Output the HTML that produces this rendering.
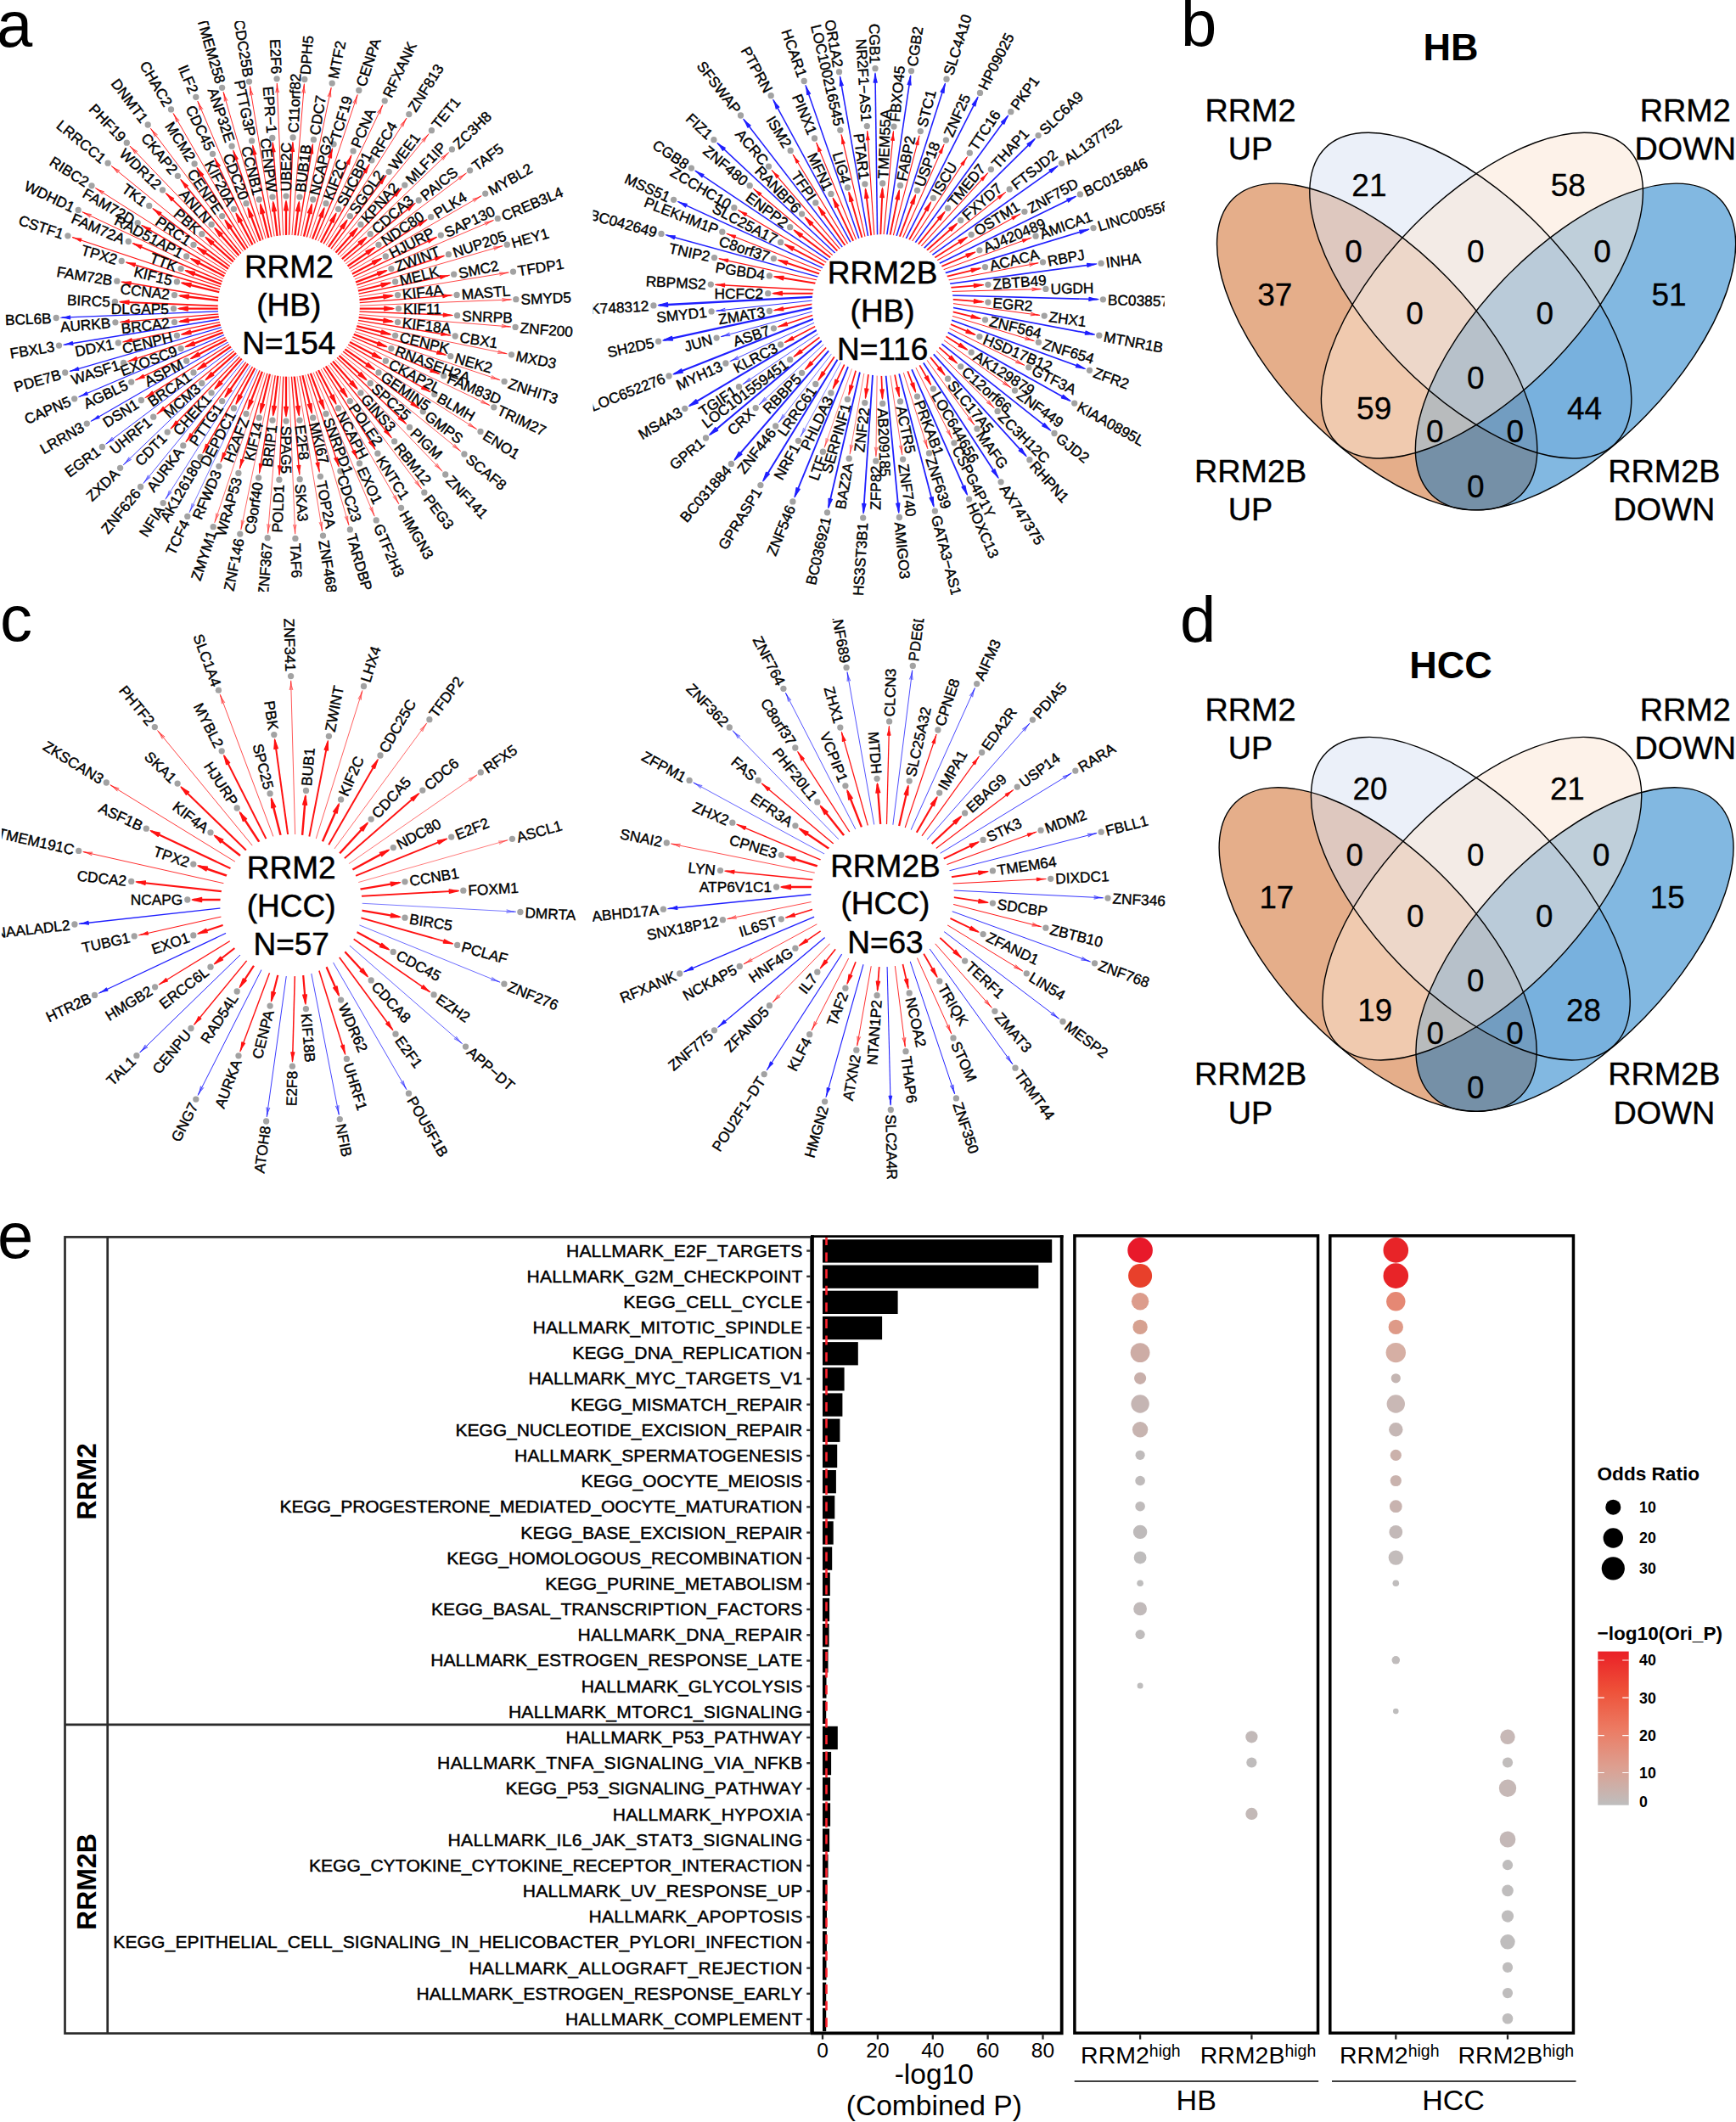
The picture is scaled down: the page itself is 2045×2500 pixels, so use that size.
<!DOCTYPE html>
<html><head><meta charset="utf-8"><title>Figure</title>
<style>html,body{margin:0;padding:0;background:#fff}svg{display:block}text{font-family:"Liberation Sans",Arial,Helvetica,sans-serif}</style></head>
<body><svg xmlns="http://www.w3.org/2000/svg" width="2045" height="2500" viewBox="0 0 2045 2500">
<rect width="2045" height="2500" fill="#fff"/>
<clipPath id="cl_p1"><rect x="0.5" y="25" width="680" height="672"/></clipPath>
<g clip-path="url(#cl_p1)">
<g><path d="M287.0 363.6L211.4 363.6" stroke="#ff1212" stroke-width="2.35" fill="none"/><path d="M210.0 363.6Q215.6 362.6 221.2 361.1L221.2 366.1Q215.6 364.6 210.0 363.6Z" fill="#ff1212" stroke="#ff1212" stroke-width="1.28" stroke-linejoin="round"/><path d="M287.4 357.6L212.3 348.5" stroke="#ff1212" stroke-width="2.35" fill="none"/><path d="M211.0 348.3Q216.6 348.0 222.4 347.2L221.8 352.1Q216.4 349.9 211.0 348.3Z" fill="#ff1212" stroke="#ff1212" stroke-width="1.28" stroke-linejoin="round"/><path d="M288.5 351.6L215.0 333.5" stroke="#ff1212" stroke-width="2.34" fill="none"/><path d="M213.7 333.2Q219.4 333.6 225.2 333.5L224.0 338.3Q218.9 335.5 213.7 333.2Z" fill="#ff1212" stroke="#ff1212" stroke-width="1.28" stroke-linejoin="round"/><path d="M290.2 345.9L219.6 319.1" stroke="#ff1212" stroke-width="2.34" fill="none"/><path d="M218.3 318.6Q223.9 319.6 229.6 320.3L227.9 324.8Q223.2 321.5 218.3 318.6Z" fill="#ff1212" stroke="#ff1212" stroke-width="1.28" stroke-linejoin="round"/><path d="M292.7 340.4L225.8 305.2" stroke="#ff1212" stroke-width="2.34" fill="none"/><path d="M224.6 304.6Q230.0 306.3 235.6 307.6L233.3 312.0Q229.1 308.1 224.6 304.6Z" fill="#ff1212" stroke="#ff1212" stroke-width="1.28" stroke-linejoin="round"/><path d="M295.9 335.2L233.6 292.3" stroke="#ff1212" stroke-width="2.34" fill="none"/><path d="M232.5 291.5Q237.7 293.8 243.1 295.8L240.3 299.8Q236.6 295.5 232.5 291.5Z" fill="#ff1212" stroke="#ff1212" stroke-width="1.28" stroke-linejoin="round"/><path d="M299.6 330.4L243.0 280.3" stroke="#ff1212" stroke-width="2.33" fill="none"/><path d="M242.0 279.4Q246.8 282.4 251.9 285.0L248.7 288.6Q245.5 283.8 242.0 279.4Z" fill="#ff1212" stroke="#ff1212" stroke-width="1.28" stroke-linejoin="round"/><path d="M303.8 326.2L253.7 269.6" stroke="#ff1212" stroke-width="2.33" fill="none"/><path d="M252.8 268.6Q257.2 272.1 262.0 275.3L258.4 278.5Q255.8 273.4 252.8 268.6Z" fill="#ff1212" stroke="#ff1212" stroke-width="1.28" stroke-linejoin="round"/><path d="M308.6 322.5L265.7 260.2" stroke="#ff1212" stroke-width="2.33" fill="none"/><path d="M264.9 259.1Q268.9 263.2 273.2 266.9L269.2 269.7Q267.2 264.3 264.9 259.1Z" fill="#ff1212" stroke="#ff1212" stroke-width="1.28" stroke-linejoin="round"/><path d="M313.8 319.3L278.6 252.4" stroke="#ff1212" stroke-width="2.32" fill="none"/><path d="M278.0 251.2Q281.5 255.7 285.3 259.9L281.0 262.2Q279.7 256.6 278.0 251.2Z" fill="#ff1212" stroke="#ff1212" stroke-width="1.28" stroke-linejoin="round"/><path d="M319.3 316.8L292.5 246.2" stroke="#ff1212" stroke-width="2.32" fill="none"/><path d="M292.0 244.9Q294.9 249.8 298.2 254.5L293.7 256.2Q293.0 250.5 292.0 244.9Z" fill="#ff1212" stroke="#ff1212" stroke-width="1.28" stroke-linejoin="round"/><path d="M325.0 315.1L306.9 241.6" stroke="#ff1212" stroke-width="2.32" fill="none"/><path d="M306.6 240.3Q308.9 245.5 311.7 250.6L306.9 251.8Q307.0 246.0 306.6 240.3Z" fill="#ff1212" stroke="#ff1212" stroke-width="1.28" stroke-linejoin="round"/><path d="M331.0 314.0L321.9 238.9" stroke="#ff1212" stroke-width="2.32" fill="none"/><path d="M321.7 237.6Q323.3 243.0 325.5 248.4L320.6 248.9Q321.4 243.2 321.7 237.6Z" fill="#ff1212" stroke="#ff1212" stroke-width="1.28" stroke-linejoin="round"/><path d="M337.0 313.6L337.0 238.0" stroke="#ff1212" stroke-width="2.31" fill="none"/><path d="M337.0 236.6Q338.0 242.2 339.4 247.8L334.6 247.8Q336.0 242.2 337.0 236.6Z" fill="#ff1212" stroke="#ff1212" stroke-width="1.28" stroke-linejoin="round"/><path d="M343.0 314.0L352.1 238.9" stroke="#ff1212" stroke-width="2.31" fill="none"/><path d="M352.3 237.6Q352.6 243.2 353.4 248.9L348.5 248.4Q350.7 243.0 352.3 237.6Z" fill="#ff1212" stroke="#ff1212" stroke-width="1.28" stroke-linejoin="round"/><path d="M349.0 315.1L367.1 241.6" stroke="#ff1212" stroke-width="2.31" fill="none"/><path d="M367.4 240.3Q367.0 246.0 367.1 251.7L362.4 250.6Q365.1 245.5 367.4 240.3Z" fill="#ff1212" stroke="#ff1212" stroke-width="1.28" stroke-linejoin="round"/><path d="M354.7 316.8L381.5 246.2" stroke="#ff1212" stroke-width="2.30" fill="none"/><path d="M382.0 244.9Q381.0 250.5 380.3 256.2L375.8 254.5Q379.1 249.8 382.0 244.9Z" fill="#ff1212" stroke="#ff1212" stroke-width="1.28" stroke-linejoin="round"/><path d="M360.2 319.3L395.4 252.4" stroke="#ff1212" stroke-width="2.30" fill="none"/><path d="M396.0 251.2Q394.3 256.6 393.0 262.2L388.7 259.9Q392.6 255.7 396.0 251.2Z" fill="#ff1212" stroke="#ff1212" stroke-width="1.28" stroke-linejoin="round"/><path d="M365.4 322.5L408.3 260.2" stroke="#ff1212" stroke-width="2.30" fill="none"/><path d="M409.1 259.1Q406.8 264.3 404.8 269.7L400.8 266.9Q405.2 263.2 409.1 259.1Z" fill="#ff1212" stroke="#ff1212" stroke-width="1.28" stroke-linejoin="round"/><path d="M370.2 326.2L420.3 269.6" stroke="#ff1212" stroke-width="2.29" fill="none"/><path d="M421.2 268.6Q418.2 273.4 415.6 278.5L412.0 275.3Q416.8 272.1 421.2 268.6Z" fill="#ff1212" stroke="#ff1212" stroke-width="1.28" stroke-linejoin="round"/><path d="M374.4 330.4L431.0 280.3" stroke="#ff1212" stroke-width="2.29" fill="none"/><path d="M432.0 279.4Q428.5 283.8 425.3 288.6L422.1 285.0Q427.2 282.4 432.0 279.4Z" fill="#ff1212" stroke="#ff1212" stroke-width="1.28" stroke-linejoin="round"/><path d="M378.1 335.2L440.4 292.3" stroke="#ff1212" stroke-width="2.29" fill="none"/><path d="M441.5 291.5Q437.4 295.4 433.7 299.8L430.9 295.8Q436.3 293.8 441.5 291.5Z" fill="#ff1212" stroke="#ff1212" stroke-width="1.28" stroke-linejoin="round"/><path d="M381.3 340.4L448.2 305.2" stroke="#ff1212" stroke-width="2.29" fill="none"/><path d="M449.4 304.6Q444.9 308.0 440.7 311.9L438.4 307.6Q444.0 306.3 449.4 304.6Z" fill="#ff1212" stroke="#ff1212" stroke-width="1.28" stroke-linejoin="round"/><path d="M383.8 345.9L454.4 319.1" stroke="#ff1212" stroke-width="2.28" fill="none"/><path d="M455.7 318.6Q450.8 321.5 446.1 324.8L444.4 320.3Q450.2 319.7 455.7 318.6Z" fill="#ff1212" stroke="#ff1212" stroke-width="1.28" stroke-linejoin="round"/><path d="M385.5 351.6L459.0 333.5" stroke="#ff1212" stroke-width="2.28" fill="none"/><path d="M460.3 333.2Q455.1 335.5 450.0 338.2L448.9 333.5Q454.6 333.6 460.3 333.2Z" fill="#ff1212" stroke="#ff1212" stroke-width="1.28" stroke-linejoin="round"/><path d="M386.6 357.6L461.7 348.5" stroke="#ff1212" stroke-width="2.28" fill="none"/><path d="M463.0 348.3Q457.6 349.9 452.3 352.0L451.7 347.2Q457.4 348.0 463.0 348.3Z" fill="#ff1212" stroke="#ff1212" stroke-width="1.28" stroke-linejoin="round"/><path d="M387.0 363.6L462.6 363.6" stroke="#ff1212" stroke-width="2.27" fill="none"/><path d="M464.0 363.6Q458.4 364.6 452.8 366.0L452.8 361.2Q458.4 362.6 464.0 363.6Z" fill="#ff1212" stroke="#ff1212" stroke-width="1.28" stroke-linejoin="round"/><path d="M386.6 369.6L461.7 378.7" stroke="#ff1212" stroke-width="2.27" fill="none"/><path d="M463.0 378.9Q457.4 379.2 451.7 380.0L452.3 375.2Q457.6 377.3 463.0 378.9Z" fill="#ff1212" stroke="#ff1212" stroke-width="1.28" stroke-linejoin="round"/><path d="M385.5 375.6L459.0 393.7" stroke="#ff1212" stroke-width="2.27" fill="none"/><path d="M460.3 394.0Q454.6 393.6 448.9 393.7L450.0 389.0Q455.1 391.7 460.3 394.0Z" fill="#ff1212" stroke="#ff1212" stroke-width="1.28" stroke-linejoin="round"/><path d="M383.8 381.3L454.4 408.1" stroke="#ff1212" stroke-width="2.27" fill="none"/><path d="M455.7 408.6Q450.2 407.5 444.4 406.9L446.1 402.4Q450.8 405.7 455.7 408.6Z" fill="#ff1212" stroke="#ff1212" stroke-width="1.28" stroke-linejoin="round"/><path d="M381.3 386.8L448.2 422.0" stroke="#ff1212" stroke-width="2.26" fill="none"/><path d="M449.4 422.6Q444.0 420.9 438.4 419.6L440.7 415.3Q444.9 419.2 449.4 422.6Z" fill="#ff1212" stroke="#ff1212" stroke-width="1.28" stroke-linejoin="round"/><path d="M378.1 392.0L440.4 434.9" stroke="#ff1212" stroke-width="2.26" fill="none"/><path d="M441.5 435.7Q436.4 433.3 431.0 431.4L433.7 427.4Q437.4 431.8 441.5 435.7Z" fill="#ff1212" stroke="#ff1212" stroke-width="1.28" stroke-linejoin="round"/><path d="M374.4 396.8L431.0 446.9" stroke="#ff1212" stroke-width="2.26" fill="none"/><path d="M432.0 447.8Q427.2 444.8 422.1 442.2L425.3 438.6Q428.5 443.4 432.0 447.8Z" fill="#ff1212" stroke="#ff1212" stroke-width="1.28" stroke-linejoin="round"/><path d="M370.2 401.0L420.3 457.6" stroke="#ff1212" stroke-width="2.25" fill="none"/><path d="M421.2 458.6Q416.8 455.1 412.0 451.9L415.6 448.7Q418.2 453.8 421.2 458.6Z" fill="#ff1212" stroke="#ff1212" stroke-width="1.28" stroke-linejoin="round"/><path d="M365.4 404.7L408.3 467.0" stroke="#ff1212" stroke-width="2.25" fill="none"/><path d="M409.1 468.1Q405.2 464.0 400.8 460.3L404.8 457.6Q406.7 463.0 409.1 468.1Z" fill="#ff1212" stroke="#ff1212" stroke-width="1.28" stroke-linejoin="round"/><path d="M360.2 407.9L395.4 474.8" stroke="#ff1212" stroke-width="2.25" fill="none"/><path d="M396.0 476.0Q392.6 471.5 388.7 467.3L393.0 465.0Q394.3 470.6 396.0 476.0Z" fill="#ff1212" stroke="#ff1212" stroke-width="1.28" stroke-linejoin="round"/><path d="M354.7 410.4L381.5 481.0" stroke="#ff1212" stroke-width="2.25" fill="none"/><path d="M382.0 482.3Q379.2 477.4 375.8 472.8L380.3 471.1Q380.9 476.8 382.0 482.3Z" fill="#ff1212" stroke="#ff1212" stroke-width="1.28" stroke-linejoin="round"/><path d="M349.0 412.1L367.1 485.6" stroke="#ff1212" stroke-width="2.24" fill="none"/><path d="M367.4 486.9Q365.1 481.7 362.4 476.6L367.0 475.5Q367.0 481.2 367.4 486.9Z" fill="#ff1212" stroke="#ff1212" stroke-width="1.28" stroke-linejoin="round"/><path d="M343.0 413.2L352.1 488.3" stroke="#ff1212" stroke-width="2.24" fill="none"/><path d="M352.3 489.6Q350.7 484.2 348.6 478.9L353.3 478.3Q352.6 484.0 352.3 489.6Z" fill="#ff1212" stroke="#ff1212" stroke-width="1.28" stroke-linejoin="round"/><path d="M337.0 413.6L337.0 489.2" stroke="#ff1212" stroke-width="2.24" fill="none"/><path d="M337.0 490.6Q336.0 485.0 334.6 479.4L339.4 479.4Q338.0 485.0 337.0 490.6Z" fill="#ff1212" stroke="#ff1212" stroke-width="1.28" stroke-linejoin="round"/><path d="M331.0 413.2L321.9 488.3" stroke="#ff1212" stroke-width="2.23" fill="none"/><path d="M321.7 489.6Q321.4 484.0 320.7 478.3L325.4 478.9Q323.3 484.2 321.7 489.6Z" fill="#ff1212" stroke="#ff1212" stroke-width="1.28" stroke-linejoin="round"/><path d="M325.0 412.1L306.9 485.6" stroke="#ff1212" stroke-width="2.23" fill="none"/><path d="M306.6 486.9Q307.0 481.2 307.0 475.5L311.6 476.6Q308.9 481.7 306.6 486.9Z" fill="#ff1212" stroke="#ff1212" stroke-width="1.28" stroke-linejoin="round"/><path d="M319.3 410.4L292.5 481.0" stroke="#ff1212" stroke-width="2.23" fill="none"/><path d="M292.0 482.3Q293.1 476.8 293.7 471.1L298.2 472.8Q294.8 477.4 292.0 482.3Z" fill="#ff1212" stroke="#ff1212" stroke-width="1.28" stroke-linejoin="round"/><path d="M313.8 407.9L278.6 474.8" stroke="#ff1212" stroke-width="2.22" fill="none"/><path d="M278.0 476.0Q279.7 470.7 281.1 465.1L285.3 467.3Q281.4 471.5 278.0 476.0Z" fill="#ff1212" stroke="#ff1212" stroke-width="1.28" stroke-linejoin="round"/><path d="M308.6 404.7L265.7 467.0" stroke="#ff1212" stroke-width="2.22" fill="none"/><path d="M264.9 468.1Q267.3 463.0 269.2 457.6L273.2 460.3Q268.8 464.1 264.9 468.1Z" fill="#ff1212" stroke="#ff1212" stroke-width="1.28" stroke-linejoin="round"/><path d="M303.8 401.0L253.7 457.6" stroke="#ff1212" stroke-width="2.22" fill="none"/><path d="M252.8 458.6Q255.8 453.8 258.4 448.7L262.0 451.9Q257.2 455.1 252.8 458.6Z" fill="#ff1212" stroke="#ff1212" stroke-width="1.28" stroke-linejoin="round"/><path d="M299.6 396.8L243.0 446.9" stroke="#ff1212" stroke-width="2.22" fill="none"/><path d="M242.0 447.8Q245.5 443.4 248.7 438.6L251.9 442.2Q246.8 444.8 242.0 447.8Z" fill="#ff1212" stroke="#ff1212" stroke-width="1.28" stroke-linejoin="round"/><path d="M295.9 392.0L233.6 434.9" stroke="#ff1212" stroke-width="2.21" fill="none"/><path d="M232.5 435.7Q236.5 431.8 240.3 427.5L243.0 431.4Q237.6 433.3 232.5 435.7Z" fill="#ff1212" stroke="#ff1212" stroke-width="1.28" stroke-linejoin="round"/><path d="M292.7 386.8L225.8 422.0" stroke="#ff1212" stroke-width="2.21" fill="none"/><path d="M224.6 422.6Q229.1 419.2 233.3 415.3L235.5 419.5Q229.9 420.9 224.6 422.6Z" fill="#ff1212" stroke="#ff1212" stroke-width="1.28" stroke-linejoin="round"/><path d="M290.2 381.3L219.6 408.1" stroke="#ff1212" stroke-width="2.21" fill="none"/><path d="M218.3 408.6Q223.1 405.8 227.8 402.5L229.5 406.9Q223.8 407.5 218.3 408.6Z" fill="#ff1212" stroke="#ff1212" stroke-width="1.28" stroke-linejoin="round"/><path d="M288.5 375.6L215.0 393.7" stroke="#ff1212" stroke-width="2.20" fill="none"/><path d="M213.7 394.0Q218.9 391.7 224.0 389.0L225.1 393.6Q219.4 393.6 213.7 394.0Z" fill="#ff1212" stroke="#ff1212" stroke-width="1.28" stroke-linejoin="round"/><path d="M287.4 369.6L212.3 378.7" stroke="#ff1212" stroke-width="2.20" fill="none"/><path d="M211.0 378.9Q216.4 377.3 221.7 375.2L222.3 379.9Q216.6 379.2 211.0 378.9Z" fill="#ff1212" stroke="#ff1212" stroke-width="1.28" stroke-linejoin="round"/><path d="M287.0 361.6L142.3 355.8" stroke="#ff1212" stroke-width="1.96" fill="none"/><path d="M140.9 355.7Q146.4 355.1 152.0 353.9L151.8 358.4Q146.4 356.8 140.9 355.7Z" fill="#ff1212" stroke="#ff1212" stroke-width="1.28" stroke-linejoin="round"/><path d="M287.6 355.6L144.6 332.3" stroke="#ff1212" stroke-width="1.55" fill="none"/><path d="M143.3 332.1Q148.7 332.6 154.3 331.9L153.7 335.9Q148.6 333.3 143.3 332.1Z" fill="#ff1212" stroke="#ff1212" stroke-width="1.24" stroke-linejoin="round"/><path d="M289.0 349.7L149.8 309.4" stroke="#ff1212" stroke-width="1.54" fill="none"/><path d="M148.5 309.0Q153.8 310.2 159.5 310.1L158.3 314.0Q153.6 310.8 148.5 309.0Z" fill="#ff1212" stroke="#ff1212" stroke-width="1.24" stroke-linejoin="round"/><path d="M291.0 344.0L157.7 287.2" stroke="#ff1212" stroke-width="1.54" fill="none"/><path d="M156.4 286.7Q161.6 288.5 167.2 289.1L165.6 292.8Q161.3 289.1 156.4 286.7Z" fill="#ff1212" stroke="#ff1212" stroke-width="1.23" stroke-linejoin="round"/><path d="M293.7 338.6L168.2 266.1" stroke="#ff1212" stroke-width="1.53" fill="none"/><path d="M167.0 265.5Q171.9 267.9 177.4 269.1L175.4 272.6Q171.5 268.5 167.0 265.5Z" fill="#ff1212" stroke="#ff1212" stroke-width="1.23" stroke-linejoin="round"/><path d="M297.0 333.6L181.2 246.5" stroke="#ff1212" stroke-width="1.53" fill="none"/><path d="M180.1 245.7Q184.6 248.7 190.0 250.6L187.5 253.8Q184.2 249.2 180.1 245.7Z" fill="#ff1212" stroke="#ff1212" stroke-width="1.22" stroke-linejoin="round"/><path d="M300.9 329.0L196.4 228.6" stroke="#ff1212" stroke-width="1.52" fill="none"/><path d="M195.4 227.6Q199.6 231.2 204.7 233.7L201.9 236.6Q199.1 231.6 195.4 227.6Z" fill="#ff1212" stroke="#ff1212" stroke-width="1.22" stroke-linejoin="round"/><path d="M305.4 324.9L213.7 212.6" stroke="#ff1212" stroke-width="1.52" fill="none"/><path d="M212.9 211.6Q216.5 215.6 221.3 218.7L218.2 221.3Q216.0 216.0 212.9 211.6Z" fill="#ff1212" stroke="#ff1212" stroke-width="1.22" stroke-linejoin="round"/><path d="M310.3 321.3L232.8 198.9" stroke="#ff1212" stroke-width="1.51" fill="none"/><path d="M232.1 197.7Q235.3 202.1 239.6 205.8L236.2 208.0Q234.7 202.5 232.1 197.7Z" fill="#ff1212" stroke="#ff1212" stroke-width="1.21" stroke-linejoin="round"/><path d="M315.6 318.4L253.4 187.5" stroke="#ff1212" stroke-width="1.51" fill="none"/><path d="M252.8 186.3Q255.5 191.0 259.3 195.2L255.7 196.9Q254.9 191.3 252.8 186.3Z" fill="#ff1212" stroke="#ff1212" stroke-width="1.21" stroke-linejoin="round"/><path d="M321.2 316.2L275.3 178.7" stroke="#ff1212" stroke-width="1.50" fill="none"/><path d="M274.8 177.4Q276.9 182.5 280.2 187.1L276.4 188.4Q276.3 182.7 274.8 177.4Z" fill="#ff1212" stroke="#ff1212" stroke-width="1.20" stroke-linejoin="round"/><path d="M327.0 314.6L298.0 172.6" stroke="#ff1212" stroke-width="1.50" fill="none"/><path d="M297.7 171.3Q299.1 176.5 301.9 181.5L297.9 182.3Q298.5 176.7 297.7 171.3Z" fill="#ff1212" stroke="#ff1212" stroke-width="1.20" stroke-linejoin="round"/><path d="M333.0 313.8L321.3 169.3" stroke="#ff1212" stroke-width="1.49" fill="none"/><path d="M321.2 167.9Q321.9 173.3 324.1 178.6L320.1 178.9Q321.3 173.4 321.2 167.9Z" fill="#ff1212" stroke="#ff1212" stroke-width="1.20" stroke-linejoin="round"/><path d="M339.0 313.6L344.8 168.9" stroke="#ff1212" stroke-width="1.49" fill="none"/><path d="M344.9 167.5Q345.0 172.9 346.5 178.4L342.4 178.2Q344.4 172.9 344.9 167.5Z" fill="#ff1212" stroke="#ff1212" stroke-width="1.19" stroke-linejoin="round"/><path d="M345.0 314.2L368.3 171.2" stroke="#ff1212" stroke-width="1.48" fill="none"/><path d="M368.5 169.8Q367.9 175.3 368.7 180.9L364.7 180.3Q367.3 175.2 368.5 169.8Z" fill="#ff1212" stroke="#ff1212" stroke-width="1.19" stroke-linejoin="round"/><path d="M350.9 315.6L391.2 176.4" stroke="#ff1212" stroke-width="1.48" fill="none"/><path d="M391.6 175.0Q390.4 180.3 390.5 186.1L386.6 184.9Q389.8 180.2 391.6 175.0Z" fill="#ff1212" stroke="#ff1212" stroke-width="1.18" stroke-linejoin="round"/><path d="M356.6 317.6L413.4 184.3" stroke="#ff1212" stroke-width="1.47" fill="none"/><path d="M413.9 183.0Q412.1 188.1 411.5 193.8L407.8 192.2Q411.6 187.9 413.9 183.0Z" fill="#ff1212" stroke="#ff1212" stroke-width="1.18" stroke-linejoin="round"/><path d="M362.0 320.3L434.4 194.8" stroke="#ff1212" stroke-width="1.47" fill="none"/><path d="M435.2 193.6Q432.7 198.4 431.5 204.0L428.0 202.0Q432.2 198.2 435.2 193.6Z" fill="#ff1212" stroke="#ff1212" stroke-width="1.18" stroke-linejoin="round"/><path d="M367.0 323.6L454.1 207.8" stroke="#ff1212" stroke-width="1.46" fill="none"/><path d="M454.9 206.7Q451.9 211.2 450.0 216.6L446.8 214.1Q451.5 210.8 454.9 206.7Z" fill="#ff1212" stroke="#ff1212" stroke-width="1.17" stroke-linejoin="round"/><path d="M371.6 327.5L472.0 223.0" stroke="#ff1212" stroke-width="1.46" fill="none"/><path d="M473.0 222.0Q469.4 226.1 466.9 231.3L464.0 228.5Q469.0 225.8 473.0 222.0Z" fill="#ff1212" stroke="#ff1212" stroke-width="1.17" stroke-linejoin="round"/><path d="M375.7 332.0L488.0 240.3" stroke="#ff1212" stroke-width="1.45" fill="none"/><path d="M489.1 239.4Q485.0 243.1 481.9 247.9L479.4 244.8Q484.7 242.7 489.1 239.4Z" fill="#ff1212" stroke="#ff1212" stroke-width="1.16" stroke-linejoin="round"/><path d="M379.3 336.9L501.7 259.4" stroke="#ff1212" stroke-width="1.45" fill="none"/><path d="M502.9 258.7Q498.5 261.8 494.8 266.2L492.6 262.8Q498.2 261.4 502.9 258.7Z" fill="#ff1212" stroke="#ff1212" stroke-width="1.16" stroke-linejoin="round"/><path d="M382.2 342.2L513.1 280.0" stroke="#ff1212" stroke-width="1.44" fill="none"/><path d="M514.4 279.4Q509.6 282.0 505.4 285.9L503.7 282.3Q509.3 281.6 514.4 279.4Z" fill="#ff1212" stroke="#ff1212" stroke-width="1.16" stroke-linejoin="round"/><path d="M384.4 347.8L521.9 301.9" stroke="#ff1212" stroke-width="1.44" fill="none"/><path d="M523.2 301.4Q518.1 303.4 513.5 306.8L512.2 303.0Q518.0 302.9 523.2 301.4Z" fill="#ff1212" stroke="#ff1212" stroke-width="1.15" stroke-linejoin="round"/><path d="M386.0 353.6L528.0 324.6" stroke="#ff1212" stroke-width="1.43" fill="none"/><path d="M529.4 324.3Q524.1 325.7 519.1 328.5L518.3 324.5Q524.0 325.2 529.4 324.3Z" fill="#ff1212" stroke="#ff1212" stroke-width="1.15" stroke-linejoin="round"/><path d="M386.8 359.6L531.3 347.9" stroke="#ff1212" stroke-width="1.43" fill="none"/><path d="M532.7 347.8Q527.3 348.5 522.0 350.7L521.7 346.7Q527.2 348.0 532.7 347.8Z" fill="#ff1212" stroke="#ff1212" stroke-width="1.14" stroke-linejoin="round"/><path d="M387.0 365.6L531.7 371.4" stroke="#ff1212" stroke-width="1.42" fill="none"/><path d="M533.2 371.5Q527.7 371.5 522.2 373.1L522.4 369.1Q527.7 371.1 533.2 371.5Z" fill="#ff1212" stroke="#ff1212" stroke-width="1.14" stroke-linejoin="round"/><path d="M386.4 371.6L529.4 394.9" stroke="#ff1212" stroke-width="1.42" fill="none"/><path d="M530.8 395.1Q525.4 394.4 519.7 395.3L520.4 391.4Q525.4 394.0 530.8 395.1Z" fill="#ff1212" stroke="#ff1212" stroke-width="1.14" stroke-linejoin="round"/><path d="M385.0 377.5L524.2 417.8" stroke="#ff1212" stroke-width="1.41" fill="none"/><path d="M525.6 418.2Q520.3 416.9 514.5 417.1L515.7 413.3Q520.4 416.5 525.6 418.2Z" fill="#ff1212" stroke="#ff1212" stroke-width="1.13" stroke-linejoin="round"/><path d="M383.0 383.2L516.3 440.0" stroke="#ff1212" stroke-width="1.41" fill="none"/><path d="M517.6 440.6Q512.5 438.6 506.8 438.1L508.4 434.4Q512.7 438.2 517.6 440.6Z" fill="#ff1212" stroke="#ff1212" stroke-width="1.13" stroke-linejoin="round"/><path d="M380.3 388.6L505.8 461.1" stroke="#ff1212" stroke-width="1.40" fill="none"/><path d="M507.0 461.8Q502.2 459.2 496.6 458.1L498.6 454.6Q502.4 458.9 507.0 461.8Z" fill="#ff1212" stroke="#ff1212" stroke-width="1.12" stroke-linejoin="round"/><path d="M377.0 393.6L492.8 480.7" stroke="#ff1212" stroke-width="1.40" fill="none"/><path d="M494.0 481.5Q489.5 478.4 484.0 476.6L486.4 473.4Q489.7 478.1 494.0 481.5Z" fill="#ff1212" stroke="#ff1212" stroke-width="1.12" stroke-linejoin="round"/><path d="M373.1 398.2L477.6 498.6" stroke="#ff1212" stroke-width="1.39" fill="none"/><path d="M478.6 499.6Q474.5 496.0 469.3 493.5L472.1 490.6Q474.8 495.7 478.6 499.6Z" fill="#ff1212" stroke="#ff1212" stroke-width="1.12" stroke-linejoin="round"/><path d="M368.6 402.3L460.3 514.6" stroke="#ff1212" stroke-width="1.39" fill="none"/><path d="M461.2 515.7Q457.6 511.6 452.7 508.5L455.8 506.0Q457.9 511.3 461.2 515.7Z" fill="#ff1212" stroke="#ff1212" stroke-width="1.11" stroke-linejoin="round"/><path d="M363.7 405.9L441.2 528.3" stroke="#ff1212" stroke-width="1.38" fill="none"/><path d="M441.9 529.5Q438.9 525.0 434.4 521.4L437.8 519.3Q439.2 524.8 441.9 529.5Z" fill="#ff1212" stroke="#ff1212" stroke-width="1.11" stroke-linejoin="round"/><path d="M358.4 408.8L420.6 539.7" stroke="#ff1212" stroke-width="1.38" fill="none"/><path d="M421.2 541.0Q418.7 536.1 414.7 532.0L418.3 530.3Q419.0 536.0 421.2 541.0Z" fill="#ff1212" stroke="#ff1212" stroke-width="1.10" stroke-linejoin="round"/><path d="M352.8 411.0L398.7 548.5" stroke="#ff1212" stroke-width="1.37" fill="none"/><path d="M399.2 549.8Q397.3 544.7 393.8 540.1L397.6 538.9Q397.6 544.6 399.2 549.8Z" fill="#ff1212" stroke="#ff1212" stroke-width="1.10" stroke-linejoin="round"/><path d="M347.0 412.6L376.0 554.6" stroke="#ff1212" stroke-width="1.37" fill="none"/><path d="M376.3 556.0Q375.0 550.7 372.1 545.7L376.1 544.9Q375.4 550.6 376.3 556.0Z" fill="#ff1212" stroke="#ff1212" stroke-width="1.10" stroke-linejoin="round"/><path d="M341.0 413.4L352.7 557.9" stroke="#ff1212" stroke-width="1.36" fill="none"/><path d="M352.8 559.3Q352.2 553.9 349.9 548.6L353.9 548.3Q352.5 553.9 352.8 559.3Z" fill="#ff1212" stroke="#ff1212" stroke-width="1.09" stroke-linejoin="round"/><path d="M335.0 413.6L329.2 558.3" stroke="#ff1212" stroke-width="1.36" fill="none"/><path d="M329.1 559.8Q329.2 554.3 327.5 548.8L331.5 549.0Q329.5 554.3 329.1 559.8Z" fill="#ff1212" stroke="#ff1212" stroke-width="1.09" stroke-linejoin="round"/><path d="M329.0 413.0L305.7 556.0" stroke="#ff1212" stroke-width="1.35" fill="none"/><path d="M305.5 557.4Q306.2 552.0 305.3 546.3L309.2 547.0Q306.5 552.0 305.5 557.4Z" fill="#ff1212" stroke="#ff1212" stroke-width="1.08" stroke-linejoin="round"/><path d="M323.1 411.6L282.8 550.8" stroke="#ff1212" stroke-width="1.35" fill="none"/><path d="M282.4 552.2Q283.7 546.9 283.5 541.2L287.3 542.3Q284.0 547.0 282.4 552.2Z" fill="#ff1212" stroke="#ff1212" stroke-width="1.08" stroke-linejoin="round"/><path d="M317.4 409.6L260.6 542.9" stroke="#ff1212" stroke-width="1.34" fill="none"/><path d="M260.0 544.2Q262.0 539.2 262.5 533.4L266.2 535.0Q262.3 539.3 260.0 544.2Z" fill="#ff1212" stroke="#ff1212" stroke-width="1.08" stroke-linejoin="round"/><path d="M312.0 406.9L239.5 532.4" stroke="#ff1212" stroke-width="1.34" fill="none"/><path d="M238.8 533.7Q241.4 528.9 242.6 523.2L246.0 525.2Q241.7 529.0 238.8 533.7Z" fill="#ff1212" stroke="#ff1212" stroke-width="1.07" stroke-linejoin="round"/><path d="M307.0 403.6L219.9 519.4" stroke="#ff1212" stroke-width="1.33" fill="none"/><path d="M219.0 520.6Q222.2 516.1 224.0 510.6L227.2 513.0Q222.4 516.3 219.0 520.6Z" fill="#ff1212" stroke="#ff1212" stroke-width="1.07" stroke-linejoin="round"/><path d="M302.4 399.7L202.0 504.2" stroke="#ff1212" stroke-width="1.33" fill="none"/><path d="M201.0 505.2Q204.7 501.2 207.1 496.0L210.0 498.7Q204.9 501.4 201.0 505.2Z" fill="#ff1212" stroke="#ff1212" stroke-width="1.06" stroke-linejoin="round"/><path d="M298.3 395.2L186.0 486.9" stroke="#ff1212" stroke-width="1.32" fill="none"/><path d="M184.9 487.8Q189.0 484.2 192.1 479.3L194.6 482.4Q189.2 484.4 184.9 487.8Z" fill="#ff1212" stroke="#ff1212" stroke-width="1.06" stroke-linejoin="round"/><path d="M294.7 390.3L172.3 467.8" stroke="#ff1212" stroke-width="1.32" fill="none"/><path d="M171.0 468.6Q175.6 465.5 179.2 461.0L181.3 464.4Q175.7 465.7 171.0 468.6Z" fill="#ff1212" stroke="#ff1212" stroke-width="1.06" stroke-linejoin="round"/><path d="M291.8 385.0L160.9 447.2" stroke="#ff1212" stroke-width="1.31" fill="none"/><path d="M159.6 447.8Q164.5 445.3 168.6 441.3L170.3 444.9Q164.6 445.5 159.6 447.8Z" fill="#ff1212" stroke="#ff1212" stroke-width="1.05" stroke-linejoin="round"/><path d="M289.6 379.4L152.1 425.3" stroke="#ff1212" stroke-width="1.31" fill="none"/><path d="M150.7 425.8Q155.9 423.9 160.5 420.4L161.7 424.2Q156.0 424.2 150.7 425.8Z" fill="#ff1212" stroke="#ff1212" stroke-width="1.05" stroke-linejoin="round"/><path d="M288.0 373.6L146.0 402.6" stroke="#ff1212" stroke-width="1.30" fill="none"/><path d="M144.6 402.9Q149.9 401.7 154.9 398.7L155.7 402.6Q150.0 401.9 144.6 402.9Z" fill="#ff1212" stroke="#ff1212" stroke-width="1.04" stroke-linejoin="round"/><path d="M287.2 367.6L142.7 379.3" stroke="#ff1212" stroke-width="1.29" fill="none"/><path d="M141.3 379.4Q146.7 378.9 152.0 376.5L152.3 380.5Q146.7 379.1 141.3 379.4Z" fill="#ff1212" stroke="#ff1212" stroke-width="1.03" stroke-linejoin="round"/><path d="M289.6 347.8L86.5 280.0" stroke="#ff1212" stroke-width="1.05" fill="none"/><path d="M85.0 279.5Q90.2 281.2 96.1 281.1L94.8 284.8Q90.2 281.2 85.0 279.5Z" fill="#ff1212" stroke="#ff1212" stroke-width="0.84" stroke-linejoin="round"/><path d="M291.8 342.2L98.4 250.4" stroke="#ff1212" stroke-width="0.94" fill="none"/><path d="M107.8 252.7Q101.9 252.1 96.9 249.7Q101.9 252.1 106.1 256.2" fill="#ff1212" fill-opacity="0.25" stroke="#ff1212" stroke-width="0.80" stroke-linejoin="miter"/><path d="M294.7 336.9L113.8 222.4" stroke="#ff1212" stroke-width="0.94" fill="none"/><path d="M122.8 225.9Q117.1 224.5 112.4 221.6Q117.1 224.5 120.7 229.1" fill="#ff1212" fill-opacity="0.25" stroke="#ff1212" stroke-width="0.80" stroke-linejoin="miter"/><path d="M298.3 332.0L132.4 196.6" stroke="#ff1212" stroke-width="0.93" fill="none"/><path d="M141.0 201.0Q135.5 199.0 131.2 195.5Q135.5 199.0 138.5 204.0" fill="#ff1212" fill-opacity="0.25" stroke="#ff1212" stroke-width="0.79" stroke-linejoin="miter"/><path d="M302.4 327.5L154.1 173.1" stroke="#ff1212" stroke-width="0.92" fill="none"/><path d="M162.0 178.6Q156.8 175.9 152.9 172.0Q156.8 175.9 159.2 181.3" fill="#ff1212" fill-opacity="0.25" stroke="#ff1212" stroke-width="0.78" stroke-linejoin="miter"/><path d="M307.0 323.6L178.3 152.5" stroke="#ff1212" stroke-width="0.91" fill="none"/><path d="M185.6 158.9Q180.7 155.6 177.4 151.2Q180.7 155.6 182.5 161.2" fill="#ff1212" fill-opacity="0.25" stroke="#ff1212" stroke-width="0.77" stroke-linejoin="miter"/><path d="M312.0 320.3L204.9 134.9" stroke="#ff1212" stroke-width="0.90" fill="none"/><path d="M211.3 142.1Q206.9 138.3 204.1 133.5Q206.9 138.3 208.0 144.0" fill="#ff1212" fill-opacity="0.25" stroke="#ff1212" stroke-width="0.77" stroke-linejoin="miter"/><path d="M317.4 317.6L233.5 120.6" stroke="#ff1212" stroke-width="0.89" fill="none"/><path d="M239.0 128.6Q235.0 124.2 232.8 119.1Q235.0 124.2 235.4 130.1" fill="#ff1212" fill-opacity="0.25" stroke="#ff1212" stroke-width="0.76" stroke-linejoin="miter"/><path d="M323.1 315.6L263.5 109.9" stroke="#ff1212" stroke-width="0.88" fill="none"/><path d="M268.0 118.5Q264.6 113.7 263.1 108.3Q264.6 113.7 264.3 119.5" fill="#ff1212" fill-opacity="0.25" stroke="#ff1212" stroke-width="0.75" stroke-linejoin="miter"/><path d="M329.0 314.2L294.6 102.9" stroke="#ff1212" stroke-width="0.88" fill="none"/><path d="M298.1 111.9Q295.3 106.8 294.4 101.3Q295.3 106.8 294.2 112.6" fill="#ff1212" fill-opacity="0.25" stroke="#ff1212" stroke-width="0.74" stroke-linejoin="miter"/><path d="M335.0 313.6L326.4 99.7" stroke="#ff1212" stroke-width="0.87" fill="none"/><path d="M328.7 109.1Q326.5 103.6 326.3 98.1Q326.5 103.6 324.8 109.2" fill="#ff1212" fill-opacity="0.25" stroke="#ff1212" stroke-width="0.74" stroke-linejoin="miter"/><path d="M341.0 313.8L358.3 100.4" stroke="#ff1212" stroke-width="0.86" fill="none"/><path d="M359.4 109.9Q357.9 104.2 358.4 98.7Q357.9 104.2 355.6 109.6" fill="#ff1212" fill-opacity="0.25" stroke="#ff1212" stroke-width="0.73" stroke-linejoin="miter"/><path d="M347.0 314.6L389.8 104.8" stroke="#ff1212" stroke-width="0.85" fill="none"/><path d="M389.8 114.5Q389.0 108.7 390.2 103.2Q389.0 108.7 386.0 113.7" fill="#ff1212" fill-opacity="0.25" stroke="#ff1212" stroke-width="0.72" stroke-linejoin="miter"/><path d="M352.8 316.2L420.6 113.1" stroke="#ff1212" stroke-width="0.84" fill="none"/><path d="M419.5 122.7Q419.4 116.8 421.2 111.5Q419.4 116.8 415.8 121.4" fill="#ff1212" fill-opacity="0.25" stroke="#ff1212" stroke-width="0.72" stroke-linejoin="miter"/><path d="M358.4 318.4L450.2 125.0" stroke="#ff1212" stroke-width="0.83" fill="none"/><path d="M447.9 134.4Q448.6 128.5 450.9 123.5Q448.6 128.5 444.4 132.7" fill="#ff1212" fill-opacity="0.25" stroke="#ff1212" stroke-width="0.71" stroke-linejoin="miter"/><path d="M363.7 321.3L478.2 140.4" stroke="#ff1212" stroke-width="0.83" fill="none"/><path d="M474.7 149.4Q476.1 143.7 479.0 139.0Q476.1 143.7 471.5 147.3" fill="#ff1212" fill-opacity="0.25" stroke="#ff1212" stroke-width="0.70" stroke-linejoin="miter"/><path d="M368.6 324.9L504.0 159.0" stroke="#ff1212" stroke-width="0.82" fill="none"/><path d="M499.5 167.6Q501.6 162.0 505.1 157.7Q501.6 162.0 496.6 165.1" fill="#ff1212" fill-opacity="0.25" stroke="#ff1212" stroke-width="0.69" stroke-linejoin="miter"/><path d="M373.1 329.0L527.5 180.7" stroke="#ff1212" stroke-width="0.81" fill="none"/><path d="M522.0 188.6Q524.7 183.3 528.7 179.5Q524.7 183.3 519.3 185.8" fill="#ff1212" fill-opacity="0.25" stroke="#ff1212" stroke-width="0.69" stroke-linejoin="miter"/><path d="M377.0 333.6L548.1 204.9" stroke="#ff1212" stroke-width="0.80" fill="none"/><path d="M541.7 212.1Q545.0 207.3 549.5 203.9Q545.0 207.3 539.4 209.1" fill="#ff1212" fill-opacity="0.25" stroke="#ff1212" stroke-width="0.68" stroke-linejoin="miter"/><path d="M380.3 338.6L565.7 231.5" stroke="#ff1212" stroke-width="0.79" fill="none"/><path d="M558.5 237.9Q562.4 233.5 567.2 230.7Q562.4 233.5 556.6 234.6" fill="#ff1212" fill-opacity="0.25" stroke="#ff1212" stroke-width="0.67" stroke-linejoin="miter"/><path d="M383.0 344.0L580.0 260.1" stroke="#ff1212" stroke-width="0.78" fill="none"/><path d="M572.0 265.5Q576.4 261.6 581.5 259.4Q576.4 261.6 570.5 262.0" fill="#ff1212" fill-opacity="0.25" stroke="#ff1212" stroke-width="0.67" stroke-linejoin="miter"/><path d="M385.0 349.7L590.7 290.1" stroke="#ff1212" stroke-width="0.77" fill="none"/><path d="M582.1 294.6Q587.0 291.2 592.3 289.7Q587.0 291.2 581.1 290.9" fill="#ff1212" fill-opacity="0.25" stroke="#ff1212" stroke-width="0.66" stroke-linejoin="miter"/><path d="M386.4 355.6L597.7 321.2" stroke="#ff1212" stroke-width="0.77" fill="none"/><path d="M588.7 324.6Q593.9 321.9 599.4 321.0Q593.9 321.9 588.1 320.9" fill="#ff1212" fill-opacity="0.25" stroke="#ff1212" stroke-width="0.65" stroke-linejoin="miter"/><path d="M387.0 361.6L600.9 353.0" stroke="#ff1212" stroke-width="0.76" fill="none"/><path d="M591.5 355.3Q597.0 353.1 602.6 352.9Q597.0 353.1 591.4 351.4" fill="#ff1212" fill-opacity="0.25" stroke="#ff1212" stroke-width="0.64" stroke-linejoin="miter"/><path d="M386.8 367.6L600.2 384.9" stroke="#ff1212" stroke-width="0.75" fill="none"/><path d="M590.7 386.0Q596.4 384.5 601.9 385.0Q596.4 384.5 591.0 382.2" fill="#ff1212" fill-opacity="0.25" stroke="#ff1212" stroke-width="0.64" stroke-linejoin="miter"/><path d="M386.0 373.6L595.8 416.4" stroke="#ff1212" stroke-width="0.74" fill="none"/><path d="M586.1 416.4Q592.0 415.7 597.4 416.8Q592.0 415.7 586.9 412.7" fill="#ff1212" fill-opacity="0.25" stroke="#ff1212" stroke-width="0.63" stroke-linejoin="miter"/><path d="M384.4 379.4L587.5 447.2" stroke="#ff1212" stroke-width="0.73" fill="none"/><path d="M578.0 446.1Q583.8 446.0 589.1 447.8Q583.8 446.0 579.2 442.4" fill="#ff1212" fill-opacity="0.25" stroke="#ff1212" stroke-width="0.62" stroke-linejoin="miter"/><path d="M382.2 385.0L575.6 476.8" stroke="#ff1212" stroke-width="0.72" fill="none"/><path d="M566.3 474.5Q572.1 475.2 577.1 477.6Q572.1 475.2 567.9 471.0" fill="#ff1212" fill-opacity="0.25" stroke="#ff1212" stroke-width="0.61" stroke-linejoin="miter"/><path d="M379.3 390.3L560.2 504.8" stroke="#ff1212" stroke-width="0.71" fill="none"/><path d="M551.2 501.3Q557.0 502.7 561.7 505.7Q557.0 502.7 553.3 498.1" fill="#ff1212" fill-opacity="0.25" stroke="#ff1212" stroke-width="0.61" stroke-linejoin="miter"/><path d="M375.7 395.2L541.6 530.6" stroke="#ff1212" stroke-width="0.71" fill="none"/><path d="M533.1 526.1Q538.6 528.2 542.9 531.7Q538.6 528.2 535.5 523.2" fill="#ff1212" fill-opacity="0.25" stroke="#ff1212" stroke-width="0.60" stroke-linejoin="miter"/><path d="M371.6 399.7L519.9 554.1" stroke="#ff1212" stroke-width="0.70" fill="none"/><path d="M512.0 548.6Q517.3 551.3 521.1 555.3Q517.3 551.3 514.8 545.9" fill="#ff1212" fill-opacity="0.25" stroke="#ff1212" stroke-width="0.59" stroke-linejoin="miter"/><path d="M367.0 403.6L495.7 574.7" stroke="#ff1212" stroke-width="0.69" fill="none"/><path d="M488.5 568.3Q493.3 571.7 496.7 576.1Q493.3 571.7 491.5 566.0" fill="#ff1212" fill-opacity="0.25" stroke="#ff1212" stroke-width="0.59" stroke-linejoin="miter"/><path d="M362.0 406.9L469.1 592.3" stroke="#ff1212" stroke-width="0.68" fill="none"/><path d="M462.7 585.1Q467.1 589.0 469.9 593.8Q467.1 589.0 466.0 583.2" fill="#ff1212" fill-opacity="0.25" stroke="#ff1212" stroke-width="0.58" stroke-linejoin="miter"/><path d="M356.6 409.6L440.5 606.6" stroke="#ff1212" stroke-width="0.67" fill="none"/><path d="M435.1 598.6Q439.0 603.0 441.2 608.2Q439.0 603.0 438.6 597.1" fill="#ff1212" fill-opacity="0.25" stroke="#ff1212" stroke-width="0.57" stroke-linejoin="miter"/><path d="M350.9 411.6L410.5 617.3" stroke="#ff1212" stroke-width="0.66" fill="none"/><path d="M406.0 608.7Q409.4 613.6 411.0 618.9Q409.4 613.6 409.7 607.7" fill="#ff1212" fill-opacity="0.25" stroke="#ff1212" stroke-width="0.56" stroke-linejoin="miter"/><path d="M345.0 413.0L379.4 624.3" stroke="#ff1212" stroke-width="0.65" fill="none"/><path d="M376.0 615.3Q378.7 620.5 379.6 626.0Q378.7 620.5 379.7 614.7" fill="#ff1212" fill-opacity="0.25" stroke="#ff1212" stroke-width="0.56" stroke-linejoin="miter"/><path d="M339.0 413.6L347.6 627.5" stroke="#ff1212" stroke-width="0.65" fill="none"/><path d="M345.4 618.1Q347.5 623.6 347.7 629.2Q347.5 623.6 349.1 618.0" fill="#ff1212" fill-opacity="0.25" stroke="#ff1212" stroke-width="0.55" stroke-linejoin="miter"/><path d="M333.0 413.4L315.7 626.8" stroke="#ff1212" stroke-width="0.64" fill="none"/><path d="M314.6 617.3Q316.1 623.0 315.6 628.6Q316.1 623.0 318.4 617.6" fill="#ff1212" fill-opacity="0.25" stroke="#ff1212" stroke-width="0.54" stroke-linejoin="miter"/><path d="M327.0 412.6L284.2 622.4" stroke="#ff1212" stroke-width="0.63" fill="none"/><path d="M284.2 612.7Q284.9 618.6 283.8 624.1Q284.9 618.6 287.9 613.5" fill="#ff1212" fill-opacity="0.25" stroke="#ff1212" stroke-width="0.53" stroke-linejoin="miter"/><path d="M321.2 411.0L253.4 614.1" stroke="#ff1212" stroke-width="0.62" fill="none"/><path d="M254.6 604.6Q254.6 610.5 252.8 615.8Q254.6 610.5 258.2 605.8" fill="#ff1212" fill-opacity="0.25" stroke="#ff1212" stroke-width="0.53" stroke-linejoin="miter"/><path d="M315.6 408.8L223.8 602.2" stroke="#1f1fff" stroke-width="0.60" fill="none"/><path d="M226.1 592.9Q225.4 598.7 223.0 603.8Q225.4 598.7 229.5 594.5" fill="#1f1fff" fill-opacity="0.25" stroke="#1f1fff" stroke-width="0.51" stroke-linejoin="miter"/><path d="M310.3 405.9L195.8 586.8" stroke="#1f1fff" stroke-width="0.68" fill="none"/><path d="M199.3 577.8Q197.9 583.6 194.9 588.3Q197.9 583.6 202.5 579.9" fill="#1f1fff" fill-opacity="0.25" stroke="#1f1fff" stroke-width="0.58" stroke-linejoin="miter"/><path d="M305.4 402.3L170.0 568.2" stroke="#1f1fff" stroke-width="0.77" fill="none"/><path d="M174.5 559.7Q172.4 565.2 168.9 569.5Q172.4 565.2 177.4 562.1" fill="#1f1fff" fill-opacity="0.25" stroke="#1f1fff" stroke-width="0.65" stroke-linejoin="miter"/><path d="M300.9 398.2L146.5 546.5" stroke="#1f1fff" stroke-width="0.85" fill="none"/><path d="M152.0 538.6Q149.3 543.9 145.3 547.7Q149.3 543.9 154.7 541.4" fill="#1f1fff" fill-opacity="0.25" stroke="#1f1fff" stroke-width="0.72" stroke-linejoin="miter"/><path d="M297.0 393.6L125.9 522.3" stroke="#1f1fff" stroke-width="0.93" fill="none"/><path d="M132.3 515.0Q129.0 519.9 124.6 523.2Q129.0 519.9 134.6 518.1" fill="#1f1fff" fill-opacity="0.25" stroke="#1f1fff" stroke-width="0.79" stroke-linejoin="miter"/><path d="M293.7 388.6L108.3 495.7" stroke="#1f1fff" stroke-width="1.02" fill="none"/><path d="M106.9 496.4Q111.7 493.7 115.5 489.2L117.4 492.6Q111.7 493.7 106.9 496.4Z" fill="#1f1fff" stroke="#1f1fff" stroke-width="0.81" stroke-linejoin="round"/><path d="M291.0 383.2L94.0 467.1" stroke="#1f1fff" stroke-width="1.10" fill="none"/><path d="M92.6 467.7Q97.7 465.6 102.0 461.6L103.5 465.2Q97.7 465.6 92.6 467.7Z" fill="#1f1fff" stroke="#1f1fff" stroke-width="0.88" stroke-linejoin="round"/><path d="M289.0 377.5L83.3 437.1" stroke="#1f1fff" stroke-width="1.18" fill="none"/><path d="M81.9 437.5Q87.1 436.0 91.9 432.5L93.0 436.3Q87.1 436.0 81.9 437.5Z" fill="#1f1fff" stroke="#1f1fff" stroke-width="0.95" stroke-linejoin="round"/><path d="M287.6 371.6L76.3 406.0" stroke="#1f1fff" stroke-width="1.27" fill="none"/><path d="M74.8 406.2Q80.2 405.3 85.3 402.5L86.0 406.4Q80.3 405.4 74.8 406.2Z" fill="#1f1fff" stroke="#1f1fff" stroke-width="1.01" stroke-linejoin="round"/><path d="M287.0 365.6L73.1 374.2" stroke="#1f1fff" stroke-width="1.35" fill="none"/><path d="M71.7 374.3Q77.1 373.9 82.5 371.9L82.7 375.9Q77.1 374.2 71.7 374.3Z" fill="#1f1fff" stroke="#1f1fff" stroke-width="1.08" stroke-linejoin="round"/></g>
<circle cx="340.25" cy="360.25" r="83.6" fill="#fff"/>
<g fill="#a2a2a2"><circle cx="337.0" cy="231.1" r="3.65"/><circle cx="353.0" cy="232.1" r="3.65"/><circle cx="368.7" cy="235.0" r="3.65"/><circle cx="384.0" cy="239.7" r="3.65"/><circle cx="398.6" cy="246.3" r="3.65"/><circle cx="412.3" cy="254.6" r="3.65"/><circle cx="424.9" cy="264.4" r="3.65"/><circle cx="436.2" cy="275.7" r="3.65"/><circle cx="446.0" cy="288.3" r="3.65"/><circle cx="454.3" cy="302.0" r="3.65"/><circle cx="460.9" cy="316.6" r="3.65"/><circle cx="465.6" cy="331.9" r="3.65"/><circle cx="468.5" cy="347.6" r="3.65"/><circle cx="469.5" cy="363.6" r="3.65"/><circle cx="468.5" cy="379.6" r="3.65"/><circle cx="465.6" cy="395.3" r="3.65"/><circle cx="460.9" cy="410.6" r="3.65"/><circle cx="454.3" cy="425.2" r="3.65"/><circle cx="446.0" cy="438.9" r="3.65"/><circle cx="436.2" cy="451.5" r="3.65"/><circle cx="424.9" cy="462.8" r="3.65"/><circle cx="412.3" cy="472.6" r="3.65"/><circle cx="398.6" cy="480.9" r="3.65"/><circle cx="384.0" cy="487.5" r="3.65"/><circle cx="368.7" cy="492.2" r="3.65"/><circle cx="353.0" cy="495.1" r="3.65"/><circle cx="337.0" cy="496.1" r="3.65"/><circle cx="321.0" cy="495.1" r="3.65"/><circle cx="305.3" cy="492.2" r="3.65"/><circle cx="290.0" cy="487.5" r="3.65"/><circle cx="275.4" cy="480.9" r="3.65"/><circle cx="261.7" cy="472.6" r="3.65"/><circle cx="249.1" cy="462.8" r="3.65"/><circle cx="237.8" cy="451.5" r="3.65"/><circle cx="228.0" cy="438.9" r="3.65"/><circle cx="219.7" cy="425.2" r="3.65"/><circle cx="213.1" cy="410.6" r="3.65"/><circle cx="208.4" cy="395.3" r="3.65"/><circle cx="205.5" cy="379.6" r="3.65"/><circle cx="204.5" cy="363.6" r="3.65"/><circle cx="205.5" cy="347.6" r="3.65"/><circle cx="208.4" cy="331.9" r="3.65"/><circle cx="213.1" cy="316.6" r="3.65"/><circle cx="219.7" cy="302.0" r="3.65"/><circle cx="228.0" cy="288.3" r="3.65"/><circle cx="237.8" cy="275.7" r="3.65"/><circle cx="249.1" cy="264.4" r="3.65"/><circle cx="261.7" cy="254.6" r="3.65"/><circle cx="275.4" cy="246.3" r="3.65"/><circle cx="290.0" cy="239.7" r="3.65"/><circle cx="305.3" cy="235.0" r="3.65"/><circle cx="321.0" cy="232.1" r="3.65"/><circle cx="345.1" cy="162.0" r="3.65"/><circle cx="369.4" cy="164.4" r="3.65"/><circle cx="393.1" cy="169.8" r="3.65"/><circle cx="416.1" cy="177.9" r="3.65"/><circle cx="437.9" cy="188.8" r="3.65"/><circle cx="458.2" cy="202.3" r="3.65"/><circle cx="476.8" cy="218.1" r="3.65"/><circle cx="493.3" cy="236.0" r="3.65"/><circle cx="507.6" cy="255.7" r="3.65"/><circle cx="519.3" cy="277.1" r="3.65"/><circle cx="528.4" cy="299.7" r="3.65"/><circle cx="534.7" cy="323.2" r="3.65"/><circle cx="538.1" cy="347.4" r="3.65"/><circle cx="538.6" cy="371.7" r="3.65"/><circle cx="536.2" cy="396.0" r="3.65"/><circle cx="530.8" cy="419.7" r="3.65"/><circle cx="522.7" cy="442.7" r="3.65"/><circle cx="511.8" cy="464.5" r="3.65"/><circle cx="498.3" cy="484.8" r="3.65"/><circle cx="482.5" cy="503.4" r="3.65"/><circle cx="464.6" cy="519.9" r="3.65"/><circle cx="444.9" cy="534.2" r="3.65"/><circle cx="423.5" cy="545.9" r="3.65"/><circle cx="400.9" cy="555.0" r="3.65"/><circle cx="377.4" cy="561.3" r="3.65"/><circle cx="353.2" cy="564.7" r="3.65"/><circle cx="328.9" cy="565.2" r="3.65"/><circle cx="304.6" cy="562.8" r="3.65"/><circle cx="280.9" cy="557.4" r="3.65"/><circle cx="257.9" cy="549.3" r="3.65"/><circle cx="236.1" cy="538.4" r="3.65"/><circle cx="215.8" cy="524.9" r="3.65"/><circle cx="197.2" cy="509.1" r="3.65"/><circle cx="180.7" cy="491.2" r="3.65"/><circle cx="166.4" cy="471.5" r="3.65"/><circle cx="154.7" cy="450.1" r="3.65"/><circle cx="145.6" cy="427.5" r="3.65"/><circle cx="139.3" cy="404.0" r="3.65"/><circle cx="135.9" cy="379.8" r="3.65"/><circle cx="135.4" cy="355.5" r="3.65"/><circle cx="137.8" cy="331.2" r="3.65"/><circle cx="143.2" cy="307.5" r="3.65"/><circle cx="151.3" cy="284.5" r="3.65"/><circle cx="162.2" cy="262.7" r="3.65"/><circle cx="175.7" cy="242.4" r="3.65"/><circle cx="191.5" cy="223.8" r="3.65"/><circle cx="209.4" cy="207.3" r="3.65"/><circle cx="229.1" cy="193.0" r="3.65"/><circle cx="250.5" cy="181.3" r="3.65"/><circle cx="273.1" cy="172.2" r="3.65"/><circle cx="296.6" cy="165.9" r="3.65"/><circle cx="320.8" cy="162.5" r="3.65"/><circle cx="358.8" cy="93.5" r="3.65"/><circle cx="391.2" cy="98.1" r="3.65"/><circle cx="422.8" cy="106.5" r="3.65"/><circle cx="453.2" cy="118.8" r="3.65"/><circle cx="481.8" cy="134.6" r="3.65"/><circle cx="508.4" cy="153.7" r="3.65"/><circle cx="532.4" cy="175.9" r="3.65"/><circle cx="553.6" cy="200.8" r="3.65"/><circle cx="571.7" cy="228.1" r="3.65"/><circle cx="586.3" cy="257.4" r="3.65"/><circle cx="597.3" cy="288.2" r="3.65"/><circle cx="604.5" cy="320.1" r="3.65"/><circle cx="607.8" cy="352.7" r="3.65"/><circle cx="607.1" cy="385.4" r="3.65"/><circle cx="602.5" cy="417.8" r="3.65"/><circle cx="594.1" cy="449.4" r="3.65"/><circle cx="581.8" cy="479.8" r="3.65"/><circle cx="566.0" cy="508.4" r="3.65"/><circle cx="546.9" cy="535.0" r="3.65"/><circle cx="524.7" cy="559.0" r="3.65"/><circle cx="499.8" cy="580.2" r="3.65"/><circle cx="472.5" cy="598.3" r="3.65"/><circle cx="443.2" cy="612.9" r="3.65"/><circle cx="412.4" cy="623.9" r="3.65"/><circle cx="380.5" cy="631.1" r="3.65"/><circle cx="347.9" cy="634.4" r="3.65"/><circle cx="315.2" cy="633.7" r="3.65"/><circle cx="282.8" cy="629.1" r="3.65"/><circle cx="251.2" cy="620.7" r="3.65"/><circle cx="220.8" cy="608.4" r="3.65"/><circle cx="192.2" cy="592.6" r="3.65"/><circle cx="165.6" cy="573.5" r="3.65"/><circle cx="141.6" cy="551.3" r="3.65"/><circle cx="120.4" cy="526.4" r="3.65"/><circle cx="102.3" cy="499.1" r="3.65"/><circle cx="87.7" cy="469.8" r="3.65"/><circle cx="76.7" cy="439.0" r="3.65"/><circle cx="69.5" cy="407.1" r="3.65"/><circle cx="66.2" cy="374.5" r="3.65"/><circle cx="79.9" cy="277.8" r="3.65"/><circle cx="92.2" cy="247.4" r="3.65"/><circle cx="108.0" cy="218.8" r="3.65"/><circle cx="127.1" cy="192.2" r="3.65"/><circle cx="149.3" cy="168.2" r="3.65"/><circle cx="174.2" cy="147.0" r="3.65"/><circle cx="201.5" cy="128.9" r="3.65"/><circle cx="230.8" cy="114.3" r="3.65"/><circle cx="261.6" cy="103.3" r="3.65"/><circle cx="293.5" cy="96.1" r="3.65"/><circle cx="326.1" cy="92.8" r="3.65"/></g>
<g font-size="17.3" fill="#000" stroke="#000" stroke-width="0.4"><text transform="translate(337.0 225.5) rotate(-90.00)" text-anchor="start" dy="0.355em">UBE2C</text><text transform="translate(353.6 226.5) rotate(-83.08)" text-anchor="start" dy="0.355em">BUB1B</text><text transform="translate(370.0 229.5) rotate(-76.15)" text-anchor="start" dy="0.355em">NCAPG2</text><text transform="translate(386.0 234.5) rotate(-69.23)" text-anchor="start" dy="0.355em">KIF2C</text><text transform="translate(401.2 241.3) rotate(-62.31)" text-anchor="start" dy="0.355em">SHCBP1</text><text transform="translate(415.4 249.9) rotate(-55.38)" text-anchor="start" dy="0.355em">SGOL2</text><text transform="translate(428.6 260.2) rotate(-48.46)" text-anchor="start" dy="0.355em">KPNA2</text><text transform="translate(440.4 272.0) rotate(-41.54)" text-anchor="start" dy="0.355em">CDCA3</text><text transform="translate(450.7 285.2) rotate(-34.62)" text-anchor="start" dy="0.355em">NDC80</text><text transform="translate(459.3 299.4) rotate(-27.69)" text-anchor="start" dy="0.355em">HJURP</text><text transform="translate(466.1 314.6) rotate(-20.77)" text-anchor="start" dy="0.355em">ZWINT</text><text transform="translate(471.1 330.6) rotate(-13.85)" text-anchor="start" dy="0.355em">MELK</text><text transform="translate(474.1 347.0) rotate(-6.92)" text-anchor="start" dy="0.355em">KIF4A</text><text transform="translate(475.1 363.6) rotate(0.00)" text-anchor="start" dy="0.355em">KIF11</text><text transform="translate(474.1 380.2) rotate(6.92)" text-anchor="start" dy="0.355em">KIF18A</text><text transform="translate(471.1 396.6) rotate(13.85)" text-anchor="start" dy="0.355em">CENPK</text><text transform="translate(466.1 412.6) rotate(20.77)" text-anchor="start" dy="0.355em">RNASEH2A</text><text transform="translate(459.3 427.8) rotate(27.69)" text-anchor="start" dy="0.355em">CKAP2L</text><text transform="translate(450.7 442.0) rotate(34.62)" text-anchor="start" dy="0.355em">GEMIN5</text><text transform="translate(440.4 455.2) rotate(41.54)" text-anchor="start" dy="0.355em">SPC25</text><text transform="translate(428.6 467.0) rotate(48.46)" text-anchor="start" dy="0.355em">GINS3</text><text transform="translate(415.4 477.3) rotate(55.38)" text-anchor="start" dy="0.355em">POLE2</text><text transform="translate(401.2 485.9) rotate(62.31)" text-anchor="start" dy="0.355em">NCAPH</text><text transform="translate(386.0 492.7) rotate(69.23)" text-anchor="start" dy="0.355em">SNRPD1</text><text transform="translate(370.0 497.7) rotate(76.15)" text-anchor="start" dy="0.355em">MKI67</text><text transform="translate(353.6 500.7) rotate(83.08)" text-anchor="start" dy="0.355em">E2F8</text><text transform="translate(337.0 501.7) rotate(90.00)" text-anchor="start" dy="0.355em">SPAG5</text><text transform="translate(320.4 500.7) rotate(276.92)" text-anchor="end" dy="0.355em">BRIP1</text><text transform="translate(304.0 497.7) rotate(283.85)" text-anchor="end" dy="0.355em">KIF14</text><text transform="translate(288.0 492.7) rotate(290.77)" text-anchor="end" dy="0.355em">H2AFZ</text><text transform="translate(272.8 485.9) rotate(297.69)" text-anchor="end" dy="0.355em">DEPDC1</text><text transform="translate(258.6 477.3) rotate(304.62)" text-anchor="end" dy="0.355em">PTTG1</text><text transform="translate(245.4 467.0) rotate(311.54)" text-anchor="end" dy="0.355em">CHEK1</text><text transform="translate(233.6 455.2) rotate(318.46)" text-anchor="end" dy="0.355em">MCM3</text><text transform="translate(223.3 442.0) rotate(325.38)" text-anchor="end" dy="0.355em">BRCA1</text><text transform="translate(214.7 427.8) rotate(332.31)" text-anchor="end" dy="0.355em">ASPM</text><text transform="translate(207.9 412.6) rotate(339.23)" text-anchor="end" dy="0.355em">EXOSC9</text><text transform="translate(202.9 396.6) rotate(346.15)" text-anchor="end" dy="0.355em">CENPH</text><text transform="translate(199.9 380.2) rotate(353.08)" text-anchor="end" dy="0.355em">BRCA2</text><text transform="translate(198.9 363.6) rotate(360.00)" text-anchor="end" dy="0.355em">DLGAP5</text><text transform="translate(199.9 347.0) rotate(366.92)" text-anchor="end" dy="0.355em">CCNA2</text><text transform="translate(202.9 330.6) rotate(373.85)" text-anchor="end" dy="0.355em">KIF15</text><text transform="translate(207.9 314.6) rotate(380.77)" text-anchor="end" dy="0.355em">TTK</text><text transform="translate(214.7 299.4) rotate(387.69)" text-anchor="end" dy="0.355em">RAD51AP1</text><text transform="translate(223.3 285.2) rotate(394.62)" text-anchor="end" dy="0.355em">PRC1</text><text transform="translate(233.6 272.0) rotate(401.54)" text-anchor="end" dy="0.355em">PBK</text><text transform="translate(245.4 260.2) rotate(408.46)" text-anchor="end" dy="0.355em">ANLN</text><text transform="translate(258.6 249.9) rotate(415.38)" text-anchor="end" dy="0.355em">CENPE</text><text transform="translate(272.8 241.3) rotate(422.31)" text-anchor="end" dy="0.355em">KIF20A</text><text transform="translate(288.0 234.5) rotate(429.23)" text-anchor="end" dy="0.355em">CDC20</text><text transform="translate(304.0 229.5) rotate(436.15)" text-anchor="end" dy="0.355em">CCNB1</text><text transform="translate(320.4 226.5) rotate(443.08)" text-anchor="end" dy="0.355em">CENPW</text><text transform="translate(345.4 156.4) rotate(-87.69)" text-anchor="start" dy="0.355em">C11orf82</text><text transform="translate(370.3 158.9) rotate(-80.77)" text-anchor="start" dy="0.355em">CDC7</text><text transform="translate(394.7 164.4) rotate(-73.85)" text-anchor="start" dy="0.355em">TCF19</text><text transform="translate(418.3 172.8) rotate(-66.92)" text-anchor="start" dy="0.355em">PCNA</text><text transform="translate(440.7 184.0) rotate(-60.00)" text-anchor="start" dy="0.355em">RFC4</text><text transform="translate(461.6 197.8) rotate(-53.08)" text-anchor="start" dy="0.355em">WEE1</text><text transform="translate(480.7 214.0) rotate(-46.15)" text-anchor="start" dy="0.355em">MLF1IP</text><text transform="translate(497.7 232.4) rotate(-39.23)" text-anchor="start" dy="0.355em">PAICS</text><text transform="translate(512.3 252.8) rotate(-32.31)" text-anchor="start" dy="0.355em">PLK4</text><text transform="translate(524.4 274.7) rotate(-25.38)" text-anchor="start" dy="0.355em">SAP130</text><text transform="translate(533.7 297.9) rotate(-18.46)" text-anchor="start" dy="0.355em">NUP205</text><text transform="translate(540.2 322.1) rotate(-11.54)" text-anchor="start" dy="0.355em">SMC2</text><text transform="translate(543.7 346.9) rotate(-4.62)" text-anchor="start" dy="0.355em">MASTL</text><text transform="translate(544.2 372.0) rotate(2.31)" text-anchor="start" dy="0.355em">SNRPB</text><text transform="translate(541.7 396.9) rotate(9.23)" text-anchor="start" dy="0.355em">CBX1</text><text transform="translate(536.2 421.3) rotate(16.15)" text-anchor="start" dy="0.355em">NEK2</text><text transform="translate(527.8 444.9) rotate(23.08)" text-anchor="start" dy="0.355em">FAM83D</text><text transform="translate(516.6 467.3) rotate(30.00)" text-anchor="start" dy="0.355em">BLMH</text><text transform="translate(502.8 488.2) rotate(36.92)" text-anchor="start" dy="0.355em">GMPS</text><text transform="translate(486.6 507.3) rotate(43.85)" text-anchor="start" dy="0.355em">PIGM</text><text transform="translate(468.2 524.3) rotate(50.77)" text-anchor="start" dy="0.355em">RBM12</text><text transform="translate(447.8 538.9) rotate(57.69)" text-anchor="start" dy="0.355em">KNTC1</text><text transform="translate(425.9 551.0) rotate(64.62)" text-anchor="start" dy="0.355em">EXO1</text><text transform="translate(402.7 560.3) rotate(71.54)" text-anchor="start" dy="0.355em">CDC23</text><text transform="translate(378.5 566.8) rotate(78.46)" text-anchor="start" dy="0.355em">TOP2A</text><text transform="translate(353.7 570.3) rotate(85.38)" text-anchor="start" dy="0.355em">SKA3</text><text transform="translate(328.6 570.8) rotate(272.31)" text-anchor="end" dy="0.355em">POLD1</text><text transform="translate(303.7 568.3) rotate(279.23)" text-anchor="end" dy="0.355em">C9orf40</text><text transform="translate(279.3 562.8) rotate(286.15)" text-anchor="end" dy="0.355em">WRAP53</text><text transform="translate(255.7 554.4) rotate(293.08)" text-anchor="end" dy="0.355em">RFWD3</text><text transform="translate(233.3 543.2) rotate(300.00)" text-anchor="end" dy="0.355em">AK126180</text><text transform="translate(212.4 529.4) rotate(306.92)" text-anchor="end" dy="0.355em">AURKA</text><text transform="translate(193.3 513.2) rotate(313.85)" text-anchor="end" dy="0.355em">CDT1</text><text transform="translate(176.3 494.8) rotate(320.77)" text-anchor="end" dy="0.355em">UHRF1</text><text transform="translate(161.7 474.4) rotate(327.69)" text-anchor="end" dy="0.355em">DSN1</text><text transform="translate(149.6 452.5) rotate(334.62)" text-anchor="end" dy="0.355em">AGBL5</text><text transform="translate(140.3 429.3) rotate(341.54)" text-anchor="end" dy="0.355em">WASF1</text><text transform="translate(133.8 405.1) rotate(348.46)" text-anchor="end" dy="0.355em">DDX1</text><text transform="translate(130.3 380.3) rotate(355.38)" text-anchor="end" dy="0.355em">AURKB</text><text transform="translate(129.8 355.2) rotate(362.31)" text-anchor="end" dy="0.355em">BIRC5</text><text transform="translate(132.3 330.3) rotate(369.23)" text-anchor="end" dy="0.355em">FAM72B</text><text transform="translate(137.8 305.9) rotate(376.15)" text-anchor="end" dy="0.355em">TPX2</text><text transform="translate(146.2 282.3) rotate(383.08)" text-anchor="end" dy="0.355em">FAM72A</text><text transform="translate(157.4 259.9) rotate(390.00)" text-anchor="end" dy="0.355em">FAM72D</text><text transform="translate(171.2 239.0) rotate(396.92)" text-anchor="end" dy="0.355em">TK1</text><text transform="translate(187.4 219.9) rotate(403.85)" text-anchor="end" dy="0.355em">WDR12</text><text transform="translate(205.8 202.9) rotate(410.77)" text-anchor="end" dy="0.355em">CKAP2</text><text transform="translate(226.2 188.3) rotate(417.69)" text-anchor="end" dy="0.355em">MCM2</text><text transform="translate(248.1 176.2) rotate(424.62)" text-anchor="end" dy="0.355em">CDC45</text><text transform="translate(271.3 166.9) rotate(431.54)" text-anchor="end" dy="0.355em">ANP32E</text><text transform="translate(295.5 160.4) rotate(438.46)" text-anchor="end" dy="0.355em">PTTG3P</text><text transform="translate(320.3 156.9) rotate(445.38)" text-anchor="end" dy="0.355em">EPR−1</text><text transform="translate(359.3 87.9) rotate(-85.38)" text-anchor="start" dy="0.355em">DPH5</text><text transform="translate(392.3 92.6) rotate(-78.46)" text-anchor="start" dy="0.355em">MTF2</text><text transform="translate(424.6 101.2) rotate(-71.54)" text-anchor="start" dy="0.355em">CENPA</text><text transform="translate(455.6 113.7) rotate(-64.62)" text-anchor="start" dy="0.355em">RFXANK</text><text transform="translate(484.8 129.8) rotate(-57.69)" text-anchor="start" dy="0.355em">ZNF813</text><text transform="translate(511.9 149.3) rotate(-50.77)" text-anchor="start" dy="0.355em">TET1</text><text transform="translate(536.5 172.0) rotate(-43.85)" text-anchor="start" dy="0.355em">ZC3H8</text><text transform="translate(558.1 197.4) rotate(-36.92)" text-anchor="start" dy="0.355em">TAF5</text><text transform="translate(576.5 225.3) rotate(-30.00)" text-anchor="start" dy="0.355em">MYBL2</text><text transform="translate(591.5 255.2) rotate(-23.08)" text-anchor="start" dy="0.355em">CREB3L4</text><text transform="translate(602.7 286.6) rotate(-16.15)" text-anchor="start" dy="0.355em">HEY1</text><text transform="translate(610.0 319.2) rotate(-9.23)" text-anchor="start" dy="0.355em">TFDP1</text><text transform="translate(613.4 352.5) rotate(-2.31)" text-anchor="start" dy="0.355em">SMYD5</text><text transform="translate(612.7 385.9) rotate(4.62)" text-anchor="start" dy="0.355em">ZNF200</text><text transform="translate(608.0 418.9) rotate(11.54)" text-anchor="start" dy="0.355em">MXD3</text><text transform="translate(599.4 451.2) rotate(18.46)" text-anchor="start" dy="0.355em">ZNHIT3</text><text transform="translate(586.9 482.2) rotate(25.38)" text-anchor="start" dy="0.355em">TRIM27</text><text transform="translate(570.8 511.4) rotate(32.31)" text-anchor="start" dy="0.355em">ENO1</text><text transform="translate(551.3 538.5) rotate(39.23)" text-anchor="start" dy="0.355em">SCAF8</text><text transform="translate(528.6 563.1) rotate(46.15)" text-anchor="start" dy="0.355em">ZNF141</text><text transform="translate(503.2 584.7) rotate(53.08)" text-anchor="start" dy="0.355em">PEG3</text><text transform="translate(475.3 603.1) rotate(60.00)" text-anchor="start" dy="0.355em">HMGN3</text><text transform="translate(445.4 618.1) rotate(66.92)" text-anchor="start" dy="0.355em">GTF2H3</text><text transform="translate(414.0 629.3) rotate(73.85)" text-anchor="start" dy="0.355em">TARDBP</text><text transform="translate(381.4 636.6) rotate(80.77)" text-anchor="start" dy="0.355em">ZNF468</text><text transform="translate(348.1 640.0) rotate(87.69)" text-anchor="start" dy="0.355em">TAF6</text><text transform="translate(314.7 639.3) rotate(274.62)" text-anchor="end" dy="0.355em">ZNF367</text><text transform="translate(281.7 634.6) rotate(281.54)" text-anchor="end" dy="0.355em">ZNF146</text><text transform="translate(249.4 626.0) rotate(288.46)" text-anchor="end" dy="0.355em">ZMYM1</text><text transform="translate(218.4 613.5) rotate(295.38)" text-anchor="end" dy="0.355em">TCF4</text><text transform="translate(189.2 597.4) rotate(302.31)" text-anchor="end" dy="0.355em">NFIA</text><text transform="translate(162.1 577.9) rotate(309.23)" text-anchor="end" dy="0.355em">ZNF626</text><text transform="translate(137.5 555.2) rotate(316.15)" text-anchor="end" dy="0.355em">ZXDA</text><text transform="translate(115.9 529.8) rotate(323.08)" text-anchor="end" dy="0.355em">EGR1</text><text transform="translate(97.5 501.9) rotate(330.00)" text-anchor="end" dy="0.355em">LRRN3</text><text transform="translate(82.5 472.0) rotate(336.92)" text-anchor="end" dy="0.355em">CAPN5</text><text transform="translate(71.3 440.6) rotate(343.85)" text-anchor="end" dy="0.355em">PDE7B</text><text transform="translate(64.0 408.0) rotate(350.77)" text-anchor="end" dy="0.355em">FBXL3</text><text transform="translate(60.6 374.7) rotate(357.69)" text-anchor="end" dy="0.355em">BCL6B</text><text transform="translate(74.6 276.0) rotate(378.46)" text-anchor="end" dy="0.355em">CSTF1</text><text transform="translate(87.1 245.0) rotate(385.38)" text-anchor="end" dy="0.355em">WDHD1</text><text transform="translate(103.2 215.8) rotate(392.31)" text-anchor="end" dy="0.355em">RIBC2</text><text transform="translate(122.7 188.7) rotate(399.23)" text-anchor="end" dy="0.355em">LRRCC1</text><text transform="translate(145.4 164.1) rotate(406.15)" text-anchor="end" dy="0.355em">PHF19</text><text transform="translate(170.8 142.5) rotate(413.08)" text-anchor="end" dy="0.355em">DNMT1</text><text transform="translate(198.7 124.1) rotate(420.00)" text-anchor="end" dy="0.355em">CHAC2</text><text transform="translate(228.6 109.1) rotate(426.92)" text-anchor="end" dy="0.355em">ILF2</text><text transform="translate(260.0 97.9) rotate(433.85)" text-anchor="end" dy="0.355em">TMEM258</text><text transform="translate(292.6 90.6) rotate(440.77)" text-anchor="end" dy="0.355em">CDC25B</text><text transform="translate(325.9 87.2) rotate(447.69)" text-anchor="end" dy="0.355em">E2F6</text></g>
<g font-size="37" text-anchor="middle" fill="#000" stroke="#000" stroke-width="0.5"><text x="340.3" y="327.1">RRM2</text><text x="340.3" y="371.5">(HB)</text><text x="340.3" y="417.3">N=154</text></g>
</g>
<clipPath id="cl_p2"><rect x="698.7" y="0" width="673" height="701"/></clipPath>
<g clip-path="url(#cl_p2)">
<g><path d="M984.5 345.7L911.6 345.7" stroke="#ff1212" stroke-width="2.00" fill="none"/><path d="M910.2 345.7Q915.8 344.8 921.3 343.4L921.3 348.0Q915.7 346.6 910.2 345.7Z" fill="#ff1212" stroke="#ff1212" stroke-width="1.28" stroke-linejoin="round"/><path d="M985.1 337.7L913.2 326.0" stroke="#ff1212" stroke-width="1.99" fill="none"/><path d="M911.8 325.8Q917.4 325.8 923.1 325.3L922.4 329.8Q917.1 327.5 911.8 325.8Z" fill="#ff1212" stroke="#ff1212" stroke-width="1.28" stroke-linejoin="round"/><path d="M987.1 329.9L917.9 306.8" stroke="#ff1212" stroke-width="1.98" fill="none"/><path d="M916.6 306.3Q922.1 307.3 927.8 307.7L926.4 312.0Q921.6 308.9 916.6 306.3Z" fill="#ff1212" stroke="#ff1212" stroke-width="1.28" stroke-linejoin="round"/><path d="M990.2 322.5L925.7 288.6" stroke="#ff1212" stroke-width="1.97" fill="none"/><path d="M924.5 287.9Q929.7 289.7 935.3 291.1L933.2 295.1Q928.9 291.3 924.5 287.9Z" fill="#ff1212" stroke="#ff1212" stroke-width="1.28" stroke-linejoin="round"/><path d="M994.5 315.7L936.3 271.9" stroke="#ff1212" stroke-width="1.96" fill="none"/><path d="M935.2 271.0Q940.1 273.7 945.3 275.9L942.6 279.4Q939.1 275.0 935.2 271.0Z" fill="#ff1212" stroke="#ff1212" stroke-width="1.28" stroke-linejoin="round"/><path d="M999.9 309.6L949.4 257.1" stroke="#ff1212" stroke-width="1.95" fill="none"/><path d="M948.4 256.1Q952.8 259.5 957.7 262.5L954.4 265.6Q951.6 260.6 948.4 256.1Z" fill="#ff1212" stroke="#ff1212" stroke-width="1.28" stroke-linejoin="round"/><path d="M1006.1 304.5L964.7 244.6" stroke="#ff1212" stroke-width="1.94" fill="none"/><path d="M963.9 243.4Q967.7 247.5 972.0 251.2L968.3 253.7Q966.4 248.4 963.9 243.4Z" fill="#ff1212" stroke="#ff1212" stroke-width="1.28" stroke-linejoin="round"/><path d="M1013.1 300.5L981.8 234.7" stroke="#ff1212" stroke-width="1.93" fill="none"/><path d="M981.2 233.4Q984.3 238.1 988.0 242.4L983.9 244.3Q982.9 238.7 981.2 233.4Z" fill="#ff1212" stroke="#ff1212" stroke-width="1.28" stroke-linejoin="round"/><path d="M1020.6 297.7L1000.3 227.7" stroke="#ff1212" stroke-width="1.92" fill="none"/><path d="M999.9 226.3Q1002.2 231.4 1005.1 236.3L1000.9 237.5Q1000.7 231.8 999.9 226.3Z" fill="#ff1212" stroke="#ff1212" stroke-width="1.28" stroke-linejoin="round"/><path d="M1028.5 296.1L1019.7 223.7" stroke="#ff1212" stroke-width="1.91" fill="none"/><path d="M1019.5 222.3Q1021.0 227.7 1023.0 233.0L1018.7 233.5Q1019.4 227.9 1019.5 222.3Z" fill="#ff1212" stroke="#ff1212" stroke-width="1.28" stroke-linejoin="round"/><path d="M1036.5 295.7L1039.5 222.9" stroke="#ff1212" stroke-width="1.90" fill="none"/><path d="M1039.5 221.5Q1040.1 227.1 1041.3 232.6L1036.9 232.4Q1038.5 227.0 1039.5 221.5Z" fill="#ff1212" stroke="#ff1212" stroke-width="1.28" stroke-linejoin="round"/><path d="M1044.5 296.7L1059.1 225.3" stroke="#ff1212" stroke-width="1.89" fill="none"/><path d="M1059.4 224.0Q1059.0 229.5 1059.3 235.1L1055.0 234.3Q1057.5 229.2 1059.4 224.0Z" fill="#ff1212" stroke="#ff1212" stroke-width="1.28" stroke-linejoin="round"/><path d="M1052.2 298.9L1078.1 230.8" stroke="#ff1212" stroke-width="1.88" fill="none"/><path d="M1078.6 229.5Q1077.3 234.9 1076.7 240.5L1072.6 239.0Q1075.9 234.4 1078.6 229.5Z" fill="#ff1212" stroke="#ff1212" stroke-width="1.28" stroke-linejoin="round"/><path d="M1059.5 302.4L1096.0 239.3" stroke="#ff1212" stroke-width="1.86" fill="none"/><path d="M1096.6 238.1Q1094.5 243.2 1093.0 248.7L1089.3 246.5Q1093.3 242.5 1096.6 238.1Z" fill="#ff1212" stroke="#ff1212" stroke-width="1.28" stroke-linejoin="round"/><path d="M1066.1 307.0L1112.2 250.5" stroke="#ff1212" stroke-width="1.85" fill="none"/><path d="M1113.1 249.5Q1110.2 254.1 1107.9 259.3L1104.5 256.6Q1109.1 253.2 1113.1 249.5Z" fill="#ff1212" stroke="#ff1212" stroke-width="1.28" stroke-linejoin="round"/><path d="M1071.9 312.5L1126.5 264.2" stroke="#ff1212" stroke-width="1.84" fill="none"/><path d="M1127.5 263.3Q1123.9 267.5 1120.8 272.2L1117.9 268.9Q1123.0 266.4 1127.5 263.3Z" fill="#ff1212" stroke="#ff1212" stroke-width="1.28" stroke-linejoin="round"/><path d="M1076.8 319.0L1138.4 280.0" stroke="#ff1212" stroke-width="1.83" fill="none"/><path d="M1139.5 279.3Q1135.3 282.8 1131.4 287.0L1129.1 283.3Q1134.5 281.6 1139.5 279.3Z" fill="#ff1212" stroke="#ff1212" stroke-width="1.28" stroke-linejoin="round"/><path d="M1080.5 326.1L1147.6 297.5" stroke="#ff1212" stroke-width="1.82" fill="none"/><path d="M1148.8 297.0Q1144.1 299.8 1139.6 303.3L1137.9 299.3Q1143.5 298.5 1148.8 297.0Z" fill="#ff1212" stroke="#ff1212" stroke-width="1.28" stroke-linejoin="round"/><path d="M1083.0 333.7L1153.8 316.3" stroke="#ff1212" stroke-width="1.81" fill="none"/><path d="M1155.2 316.0Q1150.0 317.9 1145.0 320.7L1144.0 316.5Q1149.7 316.6 1155.2 316.0Z" fill="#ff1212" stroke="#ff1212" stroke-width="1.28" stroke-linejoin="round"/><path d="M1084.3 341.7L1157.0 335.8" stroke="#ff1212" stroke-width="1.80" fill="none"/><path d="M1158.4 335.7Q1153.0 336.8 1147.6 338.7L1147.3 334.4Q1152.9 335.5 1158.4 335.7Z" fill="#ff1212" stroke="#ff1212" stroke-width="1.28" stroke-linejoin="round"/><path d="M1084.3 349.7L1157.0 355.6" stroke="#ff1212" stroke-width="1.79" fill="none"/><path d="M1158.4 355.7Q1152.9 355.9 1147.3 357.0L1147.6 352.7Q1153.0 354.6 1158.4 355.7Z" fill="#ff1212" stroke="#ff1212" stroke-width="1.28" stroke-linejoin="round"/><path d="M1083.0 357.7L1153.8 375.1" stroke="#ff1212" stroke-width="1.78" fill="none"/><path d="M1155.1 375.4Q1149.7 374.7 1144.0 374.9L1145.1 370.8Q1150.0 373.5 1155.1 375.4Z" fill="#ff1212" stroke="#ff1212" stroke-width="1.28" stroke-linejoin="round"/><path d="M1080.5 365.3L1147.6 393.9" stroke="#ff1212" stroke-width="1.77" fill="none"/><path d="M1148.8 394.4Q1143.6 392.8 1137.9 392.1L1139.6 388.2Q1144.0 391.7 1148.8 394.4Z" fill="#ff1212" stroke="#ff1212" stroke-width="1.28" stroke-linejoin="round"/><path d="M1076.8 372.4L1138.4 411.4" stroke="#ff1212" stroke-width="1.76" fill="none"/><path d="M1139.5 412.1Q1134.6 409.7 1129.2 408.1L1131.4 404.5Q1135.2 408.7 1139.5 412.1Z" fill="#ff1212" stroke="#ff1212" stroke-width="1.28" stroke-linejoin="round"/><path d="M1071.9 378.9L1126.5 427.2" stroke="#ff1212" stroke-width="1.75" fill="none"/><path d="M1127.5 428.1Q1123.0 424.9 1117.9 422.5L1120.8 419.3Q1123.8 424.0 1127.5 428.1Z" fill="#ff1212" stroke="#ff1212" stroke-width="1.28" stroke-linejoin="round"/><path d="M1066.1 384.4L1112.2 440.9" stroke="#ff1212" stroke-width="1.74" fill="none"/><path d="M1113.1 442.0Q1109.2 438.1 1104.5 434.8L1107.8 432.2Q1110.1 437.4 1113.1 442.0Z" fill="#ff1212" stroke="#ff1212" stroke-width="1.28" stroke-linejoin="round"/><path d="M1059.5 389.0L1095.9 452.1" stroke="#ff1212" stroke-width="1.73" fill="none"/><path d="M1096.6 453.3Q1093.4 448.9 1089.3 444.9L1093.0 442.8Q1094.4 448.3 1096.6 453.3Z" fill="#ff1212" stroke="#ff1212" stroke-width="1.28" stroke-linejoin="round"/><path d="M1052.2 392.5L1078.1 460.6" stroke="#ff1212" stroke-width="1.72" fill="none"/><path d="M1078.6 461.9Q1076.1 457.0 1072.7 452.4L1076.7 451.0Q1077.1 456.6 1078.6 461.9Z" fill="#ff1212" stroke="#ff1212" stroke-width="1.28" stroke-linejoin="round"/><path d="M1044.5 394.7L1059.1 466.1" stroke="#ff1212" stroke-width="1.71" fill="none"/><path d="M1059.4 467.4Q1057.7 462.2 1055.1 457.2L1059.2 456.4Q1058.8 462.0 1059.4 467.4Z" fill="#ff1212" stroke="#ff1212" stroke-width="1.28" stroke-linejoin="round"/><path d="M1036.5 395.7L1039.4 468.5" stroke="#ff1212" stroke-width="1.70" fill="none"/><path d="M1039.5 469.9Q1038.8 464.4 1037.0 459.1L1041.2 458.9Q1039.8 464.4 1039.5 469.9Z" fill="#ff1212" stroke="#ff1212" stroke-width="1.28" stroke-linejoin="round"/><path d="M1028.5 395.3L1019.7 467.7" stroke="#ff1212" stroke-width="1.69" fill="none"/><path d="M1019.5 469.1Q1019.7 463.6 1018.8 458.0L1022.9 458.5Q1020.7 463.7 1019.5 469.1Z" fill="#ff1212" stroke="#ff1212" stroke-width="1.28" stroke-linejoin="round"/><path d="M1020.6 393.7L1000.3 463.7" stroke="#ff1212" stroke-width="1.68" fill="none"/><path d="M999.9 465.1Q1001.0 459.7 1000.9 454.0L1005.0 455.2Q1001.9 460.0 999.9 465.1Z" fill="#ff1212" stroke="#ff1212" stroke-width="1.28" stroke-linejoin="round"/><path d="M1013.1 390.9L981.8 456.7" stroke="#ff1212" stroke-width="1.67" fill="none"/><path d="M981.2 458.0Q983.1 452.8 984.0 447.2L987.8 449.0Q984.0 453.3 981.2 458.0Z" fill="#ff1212" stroke="#ff1212" stroke-width="1.28" stroke-linejoin="round"/><path d="M1006.1 386.8L964.7 446.8" stroke="#ff1212" stroke-width="1.66" fill="none"/><path d="M963.9 448.0Q966.6 443.2 968.4 437.8L971.8 440.2Q967.4 443.8 963.9 448.0Z" fill="#ff1212" stroke="#ff1212" stroke-width="1.28" stroke-linejoin="round"/><path d="M999.9 381.8L949.4 434.3" stroke="#ff1212" stroke-width="1.65" fill="none"/><path d="M948.4 435.3Q951.8 431.1 954.5 426.0L957.4 428.9Q952.5 431.7 948.4 435.3Z" fill="#ff1212" stroke="#ff1212" stroke-width="1.28" stroke-linejoin="round"/><path d="M994.5 375.7L936.2 419.5" stroke="#ff1212" stroke-width="1.64" fill="none"/><path d="M935.2 420.3Q939.2 416.7 942.6 412.2L945.1 415.5Q939.8 417.4 935.2 420.3Z" fill="#ff1212" stroke="#ff1212" stroke-width="1.28" stroke-linejoin="round"/><path d="M990.2 368.9L925.7 402.8" stroke="#ff1212" stroke-width="1.63" fill="none"/><path d="M924.5 403.4Q929.1 400.5 933.1 396.6L935.0 400.2Q929.5 401.3 924.5 403.4Z" fill="#ff1212" stroke="#ff1212" stroke-width="1.28" stroke-linejoin="round"/><path d="M987.1 361.5L917.9 384.6" stroke="#ff1212" stroke-width="1.62" fill="none"/><path d="M916.6 385.0Q921.6 382.9 926.3 379.7L927.6 383.6Q921.9 383.7 916.6 385.0Z" fill="#ff1212" stroke="#ff1212" stroke-width="1.28" stroke-linejoin="round"/><path d="M985.1 353.7L913.2 365.4" stroke="#ff1212" stroke-width="1.61" fill="none"/><path d="M911.8 365.6Q917.1 364.3 922.2 361.9L922.9 365.9Q917.3 365.2 911.8 365.6Z" fill="#ff1212" stroke="#ff1212" stroke-width="1.28" stroke-linejoin="round"/><path d="M984.6 343.0L844.2 335.5" stroke="#ff1212" stroke-width="1.35" fill="none"/><path d="M842.7 335.4Q848.2 335.5 853.7 334.0L853.5 338.0Q848.2 335.8 842.7 335.4Z" fill="#ff1212" stroke="#ff1212" stroke-width="1.08" stroke-linejoin="round"/><path d="M985.6 335.0L848.3 305.1" stroke="#ff1212" stroke-width="1.24" fill="none"/><path d="M846.8 304.7Q852.2 305.9 857.9 305.1L857.1 309.0Q852.2 305.9 846.8 304.7Z" fill="#ff1212" stroke="#ff1212" stroke-width="0.99" stroke-linejoin="round"/><path d="M988.0 327.3L857.2 275.7" stroke="#ff1212" stroke-width="1.22" fill="none"/><path d="M855.8 275.2Q860.9 277.2 866.7 277.3L865.3 281.0Q860.9 277.2 855.8 275.2Z" fill="#ff1212" stroke="#ff1212" stroke-width="0.98" stroke-linejoin="round"/><path d="M991.5 320.1L870.7 248.2" stroke="#ff1212" stroke-width="1.21" fill="none"/><path d="M869.4 247.4Q874.2 250.2 879.9 251.3L877.8 254.7Q874.1 250.2 869.4 247.4Z" fill="#ff1212" stroke="#ff1212" stroke-width="0.97" stroke-linejoin="round"/><path d="M996.2 313.6L888.5 223.2" stroke="#ff1212" stroke-width="1.19" fill="none"/><path d="M887.3 222.2Q891.5 225.7 897.0 227.7L894.5 230.8Q891.5 225.7 887.3 222.2Z" fill="#ff1212" stroke="#ff1212" stroke-width="0.96" stroke-linejoin="round"/><path d="M1001.9 307.8L910.0 201.3" stroke="#ff1212" stroke-width="1.18" fill="none"/><path d="M909.0 200.2Q912.6 204.3 917.7 207.2L914.7 209.8Q912.6 204.3 909.0 200.2Z" fill="#ff1212" stroke="#ff1212" stroke-width="0.94" stroke-linejoin="round"/><path d="M1008.3 303.1L934.8 183.2" stroke="#ff1212" stroke-width="1.16" fill="none"/><path d="M934.0 181.9Q936.9 186.6 941.4 190.3L938.1 192.3Q936.9 186.6 934.0 181.9Z" fill="#ff1212" stroke="#ff1212" stroke-width="0.93" stroke-linejoin="round"/><path d="M1015.5 299.4L962.2 169.4" stroke="#ff1212" stroke-width="1.15" fill="none"/><path d="M961.6 167.9Q963.7 173.0 967.6 177.4L963.9 178.9Q963.7 173.0 961.6 167.9Z" fill="#ff1212" stroke="#ff1212" stroke-width="0.92" stroke-linejoin="round"/><path d="M1023.2 297.0L991.4 160.0" stroke="#ff1212" stroke-width="1.14" fill="none"/><path d="M991.0 158.5Q992.3 163.9 995.4 168.8L991.6 169.7Q992.3 163.9 991.0 158.5Z" fill="#ff1212" stroke="#ff1212" stroke-width="0.91" stroke-linejoin="round"/><path d="M1031.1 295.8L1021.7 155.5" stroke="#ff1212" stroke-width="1.12" fill="none"/><path d="M1021.6 154.0Q1022.0 159.5 1024.3 164.8L1020.4 165.1Q1022.0 159.5 1021.6 154.0Z" fill="#ff1212" stroke="#ff1212" stroke-width="0.90" stroke-linejoin="round"/><path d="M1039.2 295.9L1052.4 155.9" stroke="#ff1212" stroke-width="1.11" fill="none"/><path d="M1052.5 154.4Q1052.0 159.9 1053.5 165.5L1049.5 165.2Q1052.0 159.9 1052.5 154.4Z" fill="#ff1212" stroke="#ff1212" stroke-width="0.88" stroke-linejoin="round"/><path d="M1047.1 297.3L1082.6 161.3" stroke="#ff1212" stroke-width="1.09" fill="none"/><path d="M1083.0 159.8Q1081.6 165.1 1082.1 170.9L1078.3 169.9Q1081.6 165.1 1083.0 159.8Z" fill="#ff1212" stroke="#ff1212" stroke-width="0.87" stroke-linejoin="round"/><path d="M1054.7 300.0L1111.6 171.4" stroke="#ff1212" stroke-width="1.08" fill="none"/><path d="M1112.2 169.9Q1110.0 175.0 1109.5 180.8L1105.9 179.2Q1110.0 175.0 1112.2 169.9Z" fill="#ff1212" stroke="#ff1212" stroke-width="0.86" stroke-linejoin="round"/><path d="M1061.8 303.8L1138.5 186.0" stroke="#ff1212" stroke-width="1.06" fill="none"/><path d="M1139.4 184.7Q1136.4 189.3 1135.0 195.0L1131.7 192.8Q1136.4 189.3 1139.4 184.7Z" fill="#ff1212" stroke="#ff1212" stroke-width="0.85" stroke-linejoin="round"/><path d="M1068.2 308.7L1162.8 204.7" stroke="#ff1212" stroke-width="1.05" fill="none"/><path d="M1163.9 203.6Q1160.2 207.7 1157.9 213.1L1155.0 210.4Q1160.2 207.7 1163.9 203.6Z" fill="#ff1212" stroke="#ff1212" stroke-width="0.84" stroke-linejoin="round"/><path d="M1073.7 314.6L1183.7 227.2" stroke="#ff1212" stroke-width="1.03" fill="none"/><path d="M1185.0 226.2Q1180.7 229.6 1177.6 234.6L1175.1 231.5Q1180.7 229.6 1185.0 226.2Z" fill="#ff1212" stroke="#ff1212" stroke-width="0.83" stroke-linejoin="round"/><path d="M1078.1 321.3L1200.8 252.6" stroke="#ff1212" stroke-width="1.02" fill="none"/><path d="M1202.2 251.9Q1197.4 254.5 1193.5 259.0L1191.6 255.5Q1197.4 254.5 1202.2 251.9Z" fill="#ff1212" stroke="#ff1212" stroke-width="0.81" stroke-linejoin="round"/><path d="M1081.5 328.6L1213.6 280.5" stroke="#ff1212" stroke-width="1.00" fill="none"/><path d="M1215.1 280.0Q1209.9 281.9 1205.4 285.6L1204.1 281.9Q1209.9 281.9 1215.1 280.0Z" fill="#ff1212" stroke="#ff1212" stroke-width="0.80" stroke-linejoin="round"/><path d="M1083.6 336.4L1221.7 310.1" stroke="#ff1212" stroke-width="0.99" fill="none"/><path d="M1212.8 313.8Q1217.9 310.8 1223.3 309.8Q1217.9 310.8 1212.1 309.9" fill="#ff1212" fill-opacity="0.25" stroke="#ff1212" stroke-width="0.84" stroke-linejoin="miter"/><path d="M1084.5 344.4L1225.0 340.6" stroke="#ff1212" stroke-width="0.97" fill="none"/><path d="M1215.6 342.8Q1221.1 340.7 1226.6 340.5Q1221.1 340.7 1215.5 338.9" fill="#ff1212" fill-opacity="0.25" stroke="#ff1212" stroke-width="0.83" stroke-linejoin="miter"/><path d="M1084.0 352.4L1223.4 371.2" stroke="#ff1212" stroke-width="0.96" fill="none"/><path d="M1213.8 371.9Q1219.5 370.7 1225.0 371.4Q1219.5 370.7 1214.3 368.0" fill="#ff1212" fill-opacity="0.25" stroke="#ff1212" stroke-width="0.82" stroke-linejoin="miter"/><path d="M1082.3 360.3L1216.8 401.2" stroke="#ff1212" stroke-width="0.94" fill="none"/><path d="M1207.2 400.3Q1213.1 400.0 1218.4 401.7Q1213.1 400.0 1208.4 396.6" fill="#ff1212" fill-opacity="0.25" stroke="#ff1212" stroke-width="0.80" stroke-linejoin="miter"/><path d="M1079.4 367.7L1205.6 429.7" stroke="#ff1212" stroke-width="0.93" fill="none"/><path d="M1196.2 427.3Q1202.1 428.0 1207.0 430.4Q1202.1 428.0 1198.0 423.8" fill="#ff1212" fill-opacity="0.25" stroke="#ff1212" stroke-width="0.79" stroke-linejoin="miter"/><path d="M1075.3 374.7L1189.9 456.1" stroke="#ff1212" stroke-width="0.91" fill="none"/><path d="M1181.1 452.2Q1186.7 453.8 1191.2 457.0Q1186.7 453.8 1183.3 449.0" fill="#ff1212" fill-opacity="0.25" stroke="#ff1212" stroke-width="0.78" stroke-linejoin="miter"/><path d="M1070.1 380.8L1170.2 479.6" stroke="#ff1212" stroke-width="0.90" fill="none"/><path d="M1162.1 474.3Q1167.4 476.8 1171.3 480.7Q1167.4 476.8 1164.8 471.6" fill="#ff1212" fill-opacity="0.25" stroke="#ff1212" stroke-width="0.77" stroke-linejoin="miter"/><path d="M1064.0 386.1L1146.9 499.6" stroke="#ff1212" stroke-width="0.84" fill="none"/><path d="M1139.8 493.1Q1144.6 496.5 1147.9 500.9Q1144.6 496.5 1142.9 490.8" fill="#ff1212" fill-opacity="0.25" stroke="#ff1212" stroke-width="0.72" stroke-linejoin="miter"/><path d="M1057.1 390.3L1120.8 515.6" stroke="#ff1212" stroke-width="0.79" fill="none"/><path d="M1114.8 508.1Q1119.0 512.2 1121.6 517.1Q1119.0 512.2 1118.2 506.4" fill="#ff1212" fill-opacity="0.25" stroke="#ff1212" stroke-width="0.67" stroke-linejoin="miter"/><path d="M1049.7 393.3L1092.4 527.3" stroke="#ff1212" stroke-width="0.73" fill="none"/><path d="M1087.7 518.9Q1091.2 523.6 1092.9 528.9Q1091.2 523.6 1091.4 517.7" fill="#ff1212" fill-opacity="0.25" stroke="#ff1212" stroke-width="0.62" stroke-linejoin="miter"/><path d="M1041.9 395.2L1062.5 534.2" stroke="#ff1212" stroke-width="0.67" fill="none"/><path d="M1059.3 525.2Q1062.0 530.4 1062.8 535.9Q1062.0 530.4 1063.0 524.6" fill="#ff1212" fill-opacity="0.25" stroke="#ff1212" stroke-width="0.57" stroke-linejoin="miter"/><path d="M1033.8 395.7L1031.9 536.3" stroke="#ff1212" stroke-width="0.61" fill="none"/><path d="M1030.2 526.8Q1032.0 532.4 1031.9 538.0Q1032.0 532.4 1034.0 526.9" fill="#ff1212" fill-opacity="0.25" stroke="#ff1212" stroke-width="0.52" stroke-linejoin="miter"/><path d="M1025.8 394.9L1001.4 533.4" stroke="#ff1212" stroke-width="0.56" fill="none"/><path d="M1001.2 523.8Q1002.1 529.6 1001.1 535.2Q1002.1 529.6 1004.9 524.4" fill="#ff1212" fill-opacity="0.25" stroke="#ff1212" stroke-width="0.47" stroke-linejoin="miter"/><path d="M1018.0 392.9L971.7 525.7" stroke="#ff1212" stroke-width="0.50" fill="none"/><path d="M973.0 516.1Q973.0 522.1 971.1 527.4Q973.0 522.1 976.6 517.4" fill="#ff1212" fill-opacity="0.25" stroke="#ff1212" stroke-width="0.42" stroke-linejoin="miter"/><path d="M1010.7 389.7L943.7 513.3" stroke="#1f1fff" stroke-width="0.55" fill="none"/><path d="M946.5 504.1Q945.5 509.9 942.8 514.8Q945.5 509.9 949.8 505.9" fill="#1f1fff" fill-opacity="0.25" stroke="#1f1fff" stroke-width="0.47" stroke-linejoin="miter"/><path d="M1003.9 385.3L918.0 496.5" stroke="#1f1fff" stroke-width="0.62" fill="none"/><path d="M922.2 487.9Q920.3 493.5 916.9 497.9Q920.3 493.5 925.2 490.2" fill="#1f1fff" fill-opacity="0.25" stroke="#1f1fff" stroke-width="0.53" stroke-linejoin="miter"/><path d="M998.0 379.8L895.3 475.9" stroke="#1f1fff" stroke-width="0.69" fill="none"/><path d="M900.9 468.0Q898.1 473.2 894.0 477.0Q898.1 473.2 903.5 470.8" fill="#1f1fff" fill-opacity="0.25" stroke="#1f1fff" stroke-width="0.58" stroke-linejoin="miter"/><path d="M993.0 373.5L876.2 451.9" stroke="#1f1fff" stroke-width="0.75" fill="none"/><path d="M883.0 445.0Q879.4 449.7 874.8 452.8Q879.4 449.7 885.1 448.2" fill="#1f1fff" fill-opacity="0.25" stroke="#1f1fff" stroke-width="0.64" stroke-linejoin="miter"/><path d="M989.0 366.5L861.2 425.1" stroke="#1f1fff" stroke-width="0.82" fill="none"/><path d="M869.0 419.4Q864.7 423.5 859.7 425.8Q864.7 423.5 870.6 422.9" fill="#1f1fff" fill-opacity="0.25" stroke="#1f1fff" stroke-width="0.70" stroke-linejoin="miter"/><path d="M986.3 359.0L850.7 396.3" stroke="#1f1fff" stroke-width="0.89" fill="none"/><path d="M859.3 391.9Q854.5 395.2 849.1 396.7Q854.5 395.2 860.3 395.6" fill="#1f1fff" fill-opacity="0.25" stroke="#1f1fff" stroke-width="0.76" stroke-linejoin="miter"/><path d="M984.8 351.1L845.0 366.1" stroke="#1f1fff" stroke-width="0.96" fill="none"/><path d="M854.2 363.2Q848.9 365.7 843.4 366.3Q848.9 365.7 854.6 367.0" fill="#1f1fff" fill-opacity="0.25" stroke="#1f1fff" stroke-width="0.82" stroke-linejoin="miter"/><path d="M986.3 332.4L785.7 277.2" stroke="#1f1fff" stroke-width="1.41" fill="none"/><path d="M784.3 276.8Q789.6 278.1 795.3 277.8L794.2 281.7Q789.5 278.5 784.3 276.8Z" fill="#1f1fff" stroke="#1f1fff" stroke-width="1.13" stroke-linejoin="round"/><path d="M989.0 324.9L799.9 238.2" stroke="#1f1fff" stroke-width="1.46" fill="none"/><path d="M798.6 237.6Q803.6 239.6 809.3 240.3L807.6 244.0Q803.4 240.1 798.6 237.6Z" fill="#1f1fff" stroke="#1f1fff" stroke-width="1.17" stroke-linejoin="round"/><path d="M993.0 317.9L820.1 201.9" stroke="#1f1fff" stroke-width="1.47" fill="none"/><path d="M819.0 201.2Q823.6 204.0 829.1 205.5L826.9 208.9Q823.3 204.4 819.0 201.2Z" fill="#1f1fff" stroke="#1f1fff" stroke-width="1.18" stroke-linejoin="round"/><path d="M998.0 311.5L846.0 169.4" stroke="#1f1fff" stroke-width="1.49" fill="none"/><path d="M845.0 168.5Q849.1 172.0 854.3 174.4L851.5 177.4Q848.7 172.4 845.0 168.5Z" fill="#1f1fff" stroke="#1f1fff" stroke-width="1.19" stroke-linejoin="round"/><path d="M1003.9 306.1L876.7 141.5" stroke="#1f1fff" stroke-width="1.50" fill="none"/><path d="M875.8 140.3Q879.4 144.5 884.1 147.7L880.9 150.2Q878.9 144.8 875.8 140.3Z" fill="#1f1fff" stroke="#1f1fff" stroke-width="1.20" stroke-linejoin="round"/><path d="M1010.7 301.7L911.5 118.8" stroke="#1f1fff" stroke-width="1.51" fill="none"/><path d="M910.8 117.6Q913.7 122.2 917.8 126.2L914.2 128.1Q913.2 122.5 910.8 117.6Z" fill="#1f1fff" stroke="#1f1fff" stroke-width="1.21" stroke-linejoin="round"/><path d="M1018.0 298.5L949.5 102.0" stroke="#1f1fff" stroke-width="1.52" fill="none"/><path d="M949.0 100.7Q951.1 105.7 954.5 110.3L950.7 111.6Q950.5 105.9 949.0 100.7Z" fill="#1f1fff" stroke="#1f1fff" stroke-width="1.22" stroke-linejoin="round"/><path d="M1025.8 296.5L989.7 91.5" stroke="#1f1fff" stroke-width="1.54" fill="none"/><path d="M989.5 90.2Q990.7 95.4 993.3 100.5L989.3 101.2Q990.1 95.6 989.5 90.2Z" fill="#1f1fff" stroke="#1f1fff" stroke-width="1.23" stroke-linejoin="round"/><path d="M1033.8 295.7L1031.0 87.6" stroke="#1f1fff" stroke-width="1.55" fill="none"/><path d="M1031.0 86.2Q1031.5 91.7 1033.2 97.1L1029.1 97.1Q1030.7 91.7 1031.0 86.2Z" fill="#1f1fff" stroke="#1f1fff" stroke-width="1.24" stroke-linejoin="round"/><path d="M1041.9 296.2L1072.5 90.4" stroke="#1f1fff" stroke-width="1.56" fill="none"/><path d="M1072.7 89.1Q1072.3 94.5 1073.1 100.1L1069.1 99.5Q1071.5 94.4 1072.7 89.1Z" fill="#1f1fff" stroke="#1f1fff" stroke-width="1.25" stroke-linejoin="round"/><path d="M1049.7 298.1L1112.9 99.8" stroke="#1f1fff" stroke-width="1.57" fill="none"/><path d="M1113.4 98.5Q1112.1 103.8 1112.0 109.5L1108.1 108.2Q1111.4 103.6 1113.4 98.5Z" fill="#1f1fff" stroke="#1f1fff" stroke-width="1.26" stroke-linejoin="round"/><path d="M1057.1 301.1L1151.4 115.6" stroke="#1f1fff" stroke-width="1.59" fill="none"/><path d="M1152.0 114.4Q1149.9 119.4 1148.9 125.0L1145.3 123.1Q1149.2 119.0 1152.0 114.4Z" fill="#1f1fff" stroke="#1f1fff" stroke-width="1.27" stroke-linejoin="round"/><path d="M1064.0 305.3L1186.8 137.3" stroke="#1f1fff" stroke-width="1.60" fill="none"/><path d="M1187.6 136.2Q1184.7 140.8 1182.8 146.2L1179.5 143.8Q1184.1 140.3 1187.6 136.2Z" fill="#1f1fff" stroke="#1f1fff" stroke-width="1.28" stroke-linejoin="round"/><path d="M1070.1 310.6L1218.2 164.4" stroke="#1f1fff" stroke-width="1.61" fill="none"/><path d="M1219.2 163.5Q1215.6 167.6 1212.9 172.6L1210.0 169.6Q1215.0 167.0 1219.2 163.5Z" fill="#1f1fff" stroke="#1f1fff" stroke-width="1.28" stroke-linejoin="round"/><path d="M1075.3 316.7L1244.9 196.3" stroke="#1f1fff" stroke-width="1.62" fill="none"/><path d="M1246.0 195.5Q1241.9 199.0 1238.4 203.4L1236.0 200.1Q1241.4 198.3 1246.0 195.5Z" fill="#1f1fff" stroke="#1f1fff" stroke-width="1.28" stroke-linejoin="round"/><path d="M1079.4 323.7L1266.2 231.9" stroke="#1f1fff" stroke-width="1.64" fill="none"/><path d="M1267.4 231.3Q1262.7 234.1 1258.6 238.0L1256.7 234.3Q1262.3 233.3 1267.4 231.3Z" fill="#1f1fff" stroke="#1f1fff" stroke-width="1.28" stroke-linejoin="round"/><path d="M1082.3 331.1L1281.4 270.6" stroke="#1f1fff" stroke-width="1.65" fill="none"/><path d="M1282.7 270.2Q1277.7 272.2 1272.9 275.3L1271.7 271.4Q1277.4 271.3 1282.7 270.2Z" fill="#1f1fff" stroke="#1f1fff" stroke-width="1.28" stroke-linejoin="round"/><path d="M1084.1 339.0L1290.3 311.2" stroke="#1f1fff" stroke-width="1.66" fill="none"/><path d="M1291.6 311.0Q1286.3 312.2 1281.1 314.5L1280.6 310.4Q1286.2 311.2 1291.6 311.0Z" fill="#1f1fff" stroke="#1f1fff" stroke-width="1.28" stroke-linejoin="round"/><path d="M1084.5 347.0L1292.5 352.6" stroke="#1f1fff" stroke-width="1.67" fill="none"/><path d="M1293.9 352.7Q1288.4 353.0 1282.9 354.5L1283.1 350.3Q1288.4 352.0 1293.9 352.7Z" fill="#1f1fff" stroke="#1f1fff" stroke-width="1.28" stroke-linejoin="round"/><path d="M1083.6 355.0L1288.1 393.9" stroke="#1f1fff" stroke-width="1.69" fill="none"/><path d="M1289.4 394.2Q1284.0 393.7 1278.3 394.2L1279.1 390.1Q1284.1 392.7 1289.4 394.2Z" fill="#1f1fff" stroke="#1f1fff" stroke-width="1.28" stroke-linejoin="round"/><path d="M1081.5 362.8L1277.0 434.0" stroke="#1f1fff" stroke-width="1.70" fill="none"/><path d="M1278.3 434.5Q1273.0 433.1 1267.4 432.7L1268.8 428.8Q1273.4 432.1 1278.3 434.5Z" fill="#1f1fff" stroke="#1f1fff" stroke-width="1.28" stroke-linejoin="round"/><path d="M1078.1 370.1L1259.7 471.7" stroke="#1f1fff" stroke-width="1.71" fill="none"/><path d="M1260.9 472.4Q1255.9 470.2 1250.4 468.9L1252.4 465.3Q1256.4 469.3 1260.9 472.4Z" fill="#1f1fff" stroke="#1f1fff" stroke-width="1.28" stroke-linejoin="round"/><path d="M1073.7 376.8L1236.6 506.2" stroke="#1f1fff" stroke-width="1.72" fill="none"/><path d="M1237.7 507.1Q1233.0 504.1 1227.8 502.0L1230.4 498.7Q1233.7 503.3 1237.7 507.1Z" fill="#1f1fff" stroke="#1f1fff" stroke-width="1.28" stroke-linejoin="round"/><path d="M1068.2 382.7L1208.2 536.6" stroke="#1f1fff" stroke-width="1.74" fill="none"/><path d="M1209.1 537.6Q1205.1 533.9 1200.2 530.9L1203.4 528.1Q1205.9 533.2 1209.1 537.6Z" fill="#1f1fff" stroke="#1f1fff" stroke-width="1.28" stroke-linejoin="round"/><path d="M1061.8 387.6L1175.4 562.0" stroke="#1f1fff" stroke-width="1.75" fill="none"/><path d="M1176.1 563.1Q1172.6 558.9 1168.4 555.1L1171.9 552.8Q1173.6 558.2 1176.1 563.1Z" fill="#1f1fff" stroke="#1f1fff" stroke-width="1.28" stroke-linejoin="round"/><path d="M1054.7 391.4L1138.8 581.8" stroke="#1f1fff" stroke-width="1.76" fill="none"/><path d="M1139.4 583.0Q1136.6 578.3 1133.0 573.9L1136.9 572.2Q1137.7 577.8 1139.4 583.0Z" fill="#1f1fff" stroke="#1f1fff" stroke-width="1.28" stroke-linejoin="round"/><path d="M1047.1 394.1L1099.6 595.5" stroke="#1f1fff" stroke-width="1.77" fill="none"/><path d="M1100.0 596.8Q1098.0 591.6 1095.1 586.7L1099.3 585.7Q1099.2 591.3 1100.0 596.8Z" fill="#1f1fff" stroke="#1f1fff" stroke-width="1.28" stroke-linejoin="round"/><path d="M1039.2 395.5L1058.7 602.7" stroke="#1f1fff" stroke-width="1.79" fill="none"/><path d="M1058.8 604.0Q1057.7 598.6 1055.7 593.3L1059.9 592.9Q1058.9 598.5 1058.8 604.0Z" fill="#1f1fff" stroke="#1f1fff" stroke-width="1.28" stroke-linejoin="round"/><path d="M1031.1 395.6L1017.2 603.2" stroke="#1f1fff" stroke-width="1.80" fill="none"/><path d="M1017.1 604.6Q1016.8 599.1 1015.7 593.5L1020.0 593.8Q1018.1 599.2 1017.1 604.6Z" fill="#1f1fff" stroke="#1f1fff" stroke-width="1.28" stroke-linejoin="round"/><path d="M1023.2 394.4L976.1 597.1" stroke="#1f1fff" stroke-width="1.85" fill="none"/><path d="M975.8 598.4Q976.3 592.9 976.1 587.3L980.4 588.3Q977.7 593.3 975.8 598.4Z" fill="#1f1fff" stroke="#1f1fff" stroke-width="1.28" stroke-linejoin="round"/><path d="M1015.5 392.0L936.5 584.5" stroke="#1f1fff" stroke-width="1.90" fill="none"/><path d="M936.0 585.7Q937.4 580.4 938.1 574.7L942.2 576.4Q938.8 581.0 936.0 585.7Z" fill="#1f1fff" stroke="#1f1fff" stroke-width="1.28" stroke-linejoin="round"/><path d="M1008.3 388.3L899.5 565.7" stroke="#1f1fff" stroke-width="1.96" fill="none"/><path d="M898.8 566.8Q900.9 561.7 902.6 556.3L906.4 558.6Q902.4 562.6 898.8 566.8Z" fill="#1f1fff" stroke="#1f1fff" stroke-width="1.28" stroke-linejoin="round"/><path d="M1001.8 383.6L865.9 541.2" stroke="#1f1fff" stroke-width="2.02" fill="none"/><path d="M865.1 542.2Q868.0 537.4 870.5 532.4L874.0 535.3Q869.3 538.6 865.1 542.2Z" fill="#1f1fff" stroke="#1f1fff" stroke-width="1.28" stroke-linejoin="round"/><path d="M996.2 377.8L836.8 511.6" stroke="#1f1fff" stroke-width="2.07" fill="none"/><path d="M835.7 512.5Q839.4 508.2 842.7 503.6L845.7 507.1Q840.6 509.6 835.7 512.5Z" fill="#1f1fff" stroke="#1f1fff" stroke-width="1.28" stroke-linejoin="round"/><path d="M991.5 371.3L812.7 477.7" stroke="#1f1fff" stroke-width="2.13" fill="none"/><path d="M811.6 478.4Q815.8 474.8 819.9 470.8L822.3 474.8Q816.8 476.4 811.6 478.4Z" fill="#1f1fff" stroke="#1f1fff" stroke-width="1.28" stroke-linejoin="round"/><path d="M988.0 364.1L794.4 440.4" stroke="#1f1fff" stroke-width="2.19" fill="none"/><path d="M793.2 440.9Q798.0 438.0 802.6 434.7L804.3 439.1Q798.7 439.8 793.2 440.9Z" fill="#1f1fff" stroke="#1f1fff" stroke-width="1.28" stroke-linejoin="round"/><path d="M985.6 356.4L782.3 400.7" stroke="#1f1fff" stroke-width="2.24" fill="none"/><path d="M781.0 401.0Q786.2 398.9 791.4 396.3L792.4 401.0Q786.6 400.7 781.0 401.0Z" fill="#1f1fff" stroke="#1f1fff" stroke-width="1.28" stroke-linejoin="round"/><path d="M984.6 348.4L776.8 359.5" stroke="#1f1fff" stroke-width="2.30" fill="none"/><path d="M775.4 359.6Q780.9 358.3 786.4 356.6L786.7 361.4Q781.0 360.3 775.4 359.6Z" fill="#1f1fff" stroke="#1f1fff" stroke-width="1.28" stroke-linejoin="round"/></g>
<circle cx="1039.7" cy="359.5" r="83.4" fill="#fff"/>
<g fill="#a2a2a2"><circle cx="1039.7" cy="216.0" r="3.65"/><circle cx="1060.5" cy="218.5" r="3.65"/><circle cx="1080.5" cy="224.3" r="3.65"/><circle cx="1099.4" cy="233.3" r="3.65"/><circle cx="1116.6" cy="245.2" r="3.65"/><circle cx="1131.7" cy="259.6" r="3.65"/><circle cx="1144.2" cy="276.3" r="3.65"/><circle cx="1153.9" cy="294.8" r="3.65"/><circle cx="1160.5" cy="314.6" r="3.65"/><circle cx="1163.9" cy="335.3" r="3.65"/><circle cx="1163.9" cy="356.1" r="3.65"/><circle cx="1160.5" cy="376.8" r="3.65"/><circle cx="1153.9" cy="396.6" r="3.65"/><circle cx="1144.2" cy="415.1" r="3.65"/><circle cx="1131.7" cy="431.8" r="3.65"/><circle cx="1116.6" cy="446.2" r="3.65"/><circle cx="1099.4" cy="458.1" r="3.65"/><circle cx="1080.5" cy="467.1" r="3.65"/><circle cx="1060.5" cy="472.9" r="3.65"/><circle cx="1039.7" cy="475.4" r="3.65"/><circle cx="1018.8" cy="474.6" r="3.65"/><circle cx="998.4" cy="470.4" r="3.65"/><circle cx="978.9" cy="463.0" r="3.65"/><circle cx="960.8" cy="452.5" r="3.65"/><circle cx="944.6" cy="439.3" r="3.65"/><circle cx="930.7" cy="423.7" r="3.65"/><circle cx="919.6" cy="406.0" r="3.65"/><circle cx="911.4" cy="386.8" r="3.65"/><circle cx="906.4" cy="366.5" r="3.65"/><circle cx="904.7" cy="345.7" r="3.65"/><circle cx="906.4" cy="324.9" r="3.65"/><circle cx="911.4" cy="304.6" r="3.65"/><circle cx="919.6" cy="285.4" r="3.65"/><circle cx="930.7" cy="267.7" r="3.65"/><circle cx="944.6" cy="252.1" r="3.65"/><circle cx="960.8" cy="238.9" r="3.65"/><circle cx="978.9" cy="228.4" r="3.65"/><circle cx="998.4" cy="221.0" r="3.65"/><circle cx="1018.9" cy="216.8" r="3.65"/><circle cx="1053.0" cy="149.1" r="3.65"/><circle cx="1084.3" cy="154.6" r="3.65"/><circle cx="1114.4" cy="165.1" r="3.65"/><circle cx="1142.3" cy="180.2" r="3.65"/><circle cx="1167.4" cy="199.6" r="3.65"/><circle cx="1189.2" cy="222.9" r="3.65"/><circle cx="1206.9" cy="249.3" r="3.65"/><circle cx="1220.1" cy="278.2" r="3.65"/><circle cx="1228.5" cy="308.8" r="3.65"/><circle cx="1231.9" cy="340.4" r="3.65"/><circle cx="1230.2" cy="372.1" r="3.65"/><circle cx="1223.4" cy="403.2" r="3.65"/><circle cx="1211.8" cy="432.8" r="3.65"/><circle cx="1195.5" cy="460.1" r="3.65"/><circle cx="1175.1" cy="484.4" r="3.65"/><circle cx="1151.0" cy="505.2" r="3.65"/><circle cx="1123.9" cy="521.8" r="3.65"/><circle cx="1094.5" cy="533.9" r="3.65"/><circle cx="1063.6" cy="541.1" r="3.65"/><circle cx="1031.8" cy="543.2" r="3.65"/><circle cx="1000.2" cy="540.2" r="3.65"/><circle cx="969.4" cy="532.2" r="3.65"/><circle cx="940.4" cy="519.3" r="3.65"/><circle cx="913.7" cy="502.0" r="3.65"/><circle cx="890.2" cy="480.6" r="3.65"/><circle cx="870.5" cy="455.7" r="3.65"/><circle cx="854.9" cy="428.0" r="3.65"/><circle cx="844.1" cy="398.1" r="3.65"/><circle cx="838.1" cy="366.9" r="3.65"/><circle cx="837.3" cy="335.1" r="3.65"/><circle cx="841.5" cy="303.6" r="3.65"/><circle cx="850.8" cy="273.2" r="3.65"/><circle cx="864.8" cy="244.7" r="3.65"/><circle cx="883.2" cy="218.7" r="3.65"/><circle cx="905.5" cy="196.1" r="3.65"/><circle cx="931.2" cy="177.4" r="3.65"/><circle cx="959.5" cy="163.0" r="3.65"/><circle cx="989.8" cy="153.3" r="3.65"/><circle cx="1021.3" cy="148.6" r="3.65"/><circle cx="1031.0" cy="80.7" r="3.65"/><circle cx="1073.5" cy="83.6" r="3.65"/><circle cx="1115.0" cy="93.2" r="3.65"/><circle cx="1154.5" cy="109.4" r="3.65"/><circle cx="1190.8" cy="131.7" r="3.65"/><circle cx="1223.1" cy="159.6" r="3.65"/><circle cx="1250.6" cy="192.3" r="3.65"/><circle cx="1272.4" cy="228.9" r="3.65"/><circle cx="1288.0" cy="268.6" r="3.65"/><circle cx="1297.1" cy="310.2" r="3.65"/><circle cx="1299.4" cy="352.8" r="3.65"/><circle cx="1294.8" cy="395.2" r="3.65"/><circle cx="1283.5" cy="436.3" r="3.65"/><circle cx="1265.7" cy="475.1" r="3.65"/><circle cx="1242.0" cy="510.5" r="3.65"/><circle cx="1212.9" cy="541.7" r="3.65"/><circle cx="1179.1" cy="567.8" r="3.65"/><circle cx="1141.6" cy="588.1" r="3.65"/><circle cx="1101.4" cy="602.1" r="3.65"/><circle cx="1059.4" cy="609.5" r="3.65"/><circle cx="1016.7" cy="610.1" r="3.65"/><circle cx="974.5" cy="603.8" r="3.65"/><circle cx="933.9" cy="590.9" r="3.65"/><circle cx="895.9" cy="571.6" r="3.65"/><circle cx="861.4" cy="546.4" r="3.65"/><circle cx="831.5" cy="516.0" r="3.65"/><circle cx="806.8" cy="481.3" r="3.65"/><circle cx="788.0" cy="443.0" r="3.65"/><circle cx="775.6" cy="402.2" r="3.65"/><circle cx="769.9" cy="359.9" r="3.65"/><circle cx="779.0" cy="275.4" r="3.65"/><circle cx="793.6" cy="235.3" r="3.65"/><circle cx="814.4" cy="198.1" r="3.65"/><circle cx="840.9" cy="164.7" r="3.65"/><circle cx="872.5" cy="136.0" r="3.65"/><circle cx="908.2" cy="112.7" r="3.65"/><circle cx="947.2" cy="95.5" r="3.65"/><circle cx="988.5" cy="84.7" r="3.65"/></g>
<g font-size="17.3" fill="#000" stroke="#000" stroke-width="0.4"><text transform="translate(1040.0 210.4) rotate(-87.69)" text-anchor="start" dy="0.355em">TMEM55A</text><text transform="translate(1061.6 213.0) rotate(-78.46)" text-anchor="start" dy="0.355em">FABP2</text><text transform="translate(1082.5 219.1) rotate(-69.23)" text-anchor="start" dy="0.355em">USP18</text><text transform="translate(1102.2 228.4) rotate(-60.00)" text-anchor="start" dy="0.355em">ISCU</text><text transform="translate(1120.1 240.8) rotate(-50.77)" text-anchor="start" dy="0.355em">TMED7</text><text transform="translate(1135.9 255.9) rotate(-41.54)" text-anchor="start" dy="0.355em">FXYD7</text><text transform="translate(1148.9 273.3) rotate(-32.31)" text-anchor="start" dy="0.355em">OSTM1</text><text transform="translate(1159.1 292.6) rotate(-23.07)" text-anchor="start" dy="0.355em">AJ420489</text><text transform="translate(1166.0 313.3) rotate(-13.84)" text-anchor="start" dy="0.355em">ACACA</text><text transform="translate(1169.5 334.8) rotate(-4.61)" text-anchor="start" dy="0.355em">ZBTB49</text><text transform="translate(1169.5 356.6) rotate(4.62)" text-anchor="start" dy="0.355em">EGR2</text><text transform="translate(1166.0 378.1) rotate(13.85)" text-anchor="start" dy="0.355em">ZNF564</text><text transform="translate(1159.1 398.8) rotate(23.08)" text-anchor="start" dy="0.355em">HSD17B12</text><text transform="translate(1148.9 418.1) rotate(32.31)" text-anchor="start" dy="0.355em">AK129879</text><text transform="translate(1135.8 435.5) rotate(41.54)" text-anchor="start" dy="0.355em">C12orf66</text><text transform="translate(1120.1 450.6) rotate(50.77)" text-anchor="start" dy="0.355em">SLC17A5</text><text transform="translate(1102.2 463.0) rotate(60.00)" text-anchor="start" dy="0.355em">LOC644656</text><text transform="translate(1082.5 472.3) rotate(69.23)" text-anchor="start" dy="0.355em">PRKAB1</text><text transform="translate(1061.6 478.4) rotate(78.46)" text-anchor="start" dy="0.355em">ACTR5</text><text transform="translate(1039.9 481.0) rotate(87.69)" text-anchor="start" dy="0.355em">AB209185</text><text transform="translate(1018.2 480.1) rotate(276.93)" text-anchor="end" dy="0.355em">ZNF22</text><text transform="translate(996.8 475.8) rotate(286.16)" text-anchor="end" dy="0.355em">SERPINF1</text><text transform="translate(976.5 468.0) rotate(295.39)" text-anchor="end" dy="0.355em">PHLDA3</text><text transform="translate(957.6 457.1) rotate(304.62)" text-anchor="end" dy="0.355em">LRRC61</text><text transform="translate(940.7 443.3) rotate(313.85)" text-anchor="end" dy="0.355em">RBBP5</text><text transform="translate(926.3 427.0) rotate(323.08)" text-anchor="end" dy="0.355em">LOC101559451</text><text transform="translate(914.6 408.6) rotate(332.31)" text-anchor="end" dy="0.355em">KLRC3</text><text transform="translate(906.1 388.6) rotate(341.54)" text-anchor="end" dy="0.355em">ASB7</text><text transform="translate(900.9 367.4) rotate(350.77)" text-anchor="end" dy="0.355em">ZMAT3</text><text transform="translate(899.1 345.7) rotate(360.00)" text-anchor="end" dy="0.355em">HCFC2</text><text transform="translate(900.9 324.0) rotate(369.23)" text-anchor="end" dy="0.355em">PGBD4</text><text transform="translate(906.1 302.8) rotate(378.46)" text-anchor="end" dy="0.355em">C8orf37</text><text transform="translate(914.6 282.8) rotate(387.69)" text-anchor="end" dy="0.355em">SLC25A17</text><text transform="translate(926.3 264.4) rotate(396.93)" text-anchor="end" dy="0.355em">ENPP2</text><text transform="translate(940.7 248.0) rotate(406.16)" text-anchor="end" dy="0.355em">RANBP6</text><text transform="translate(957.6 234.3) rotate(415.39)" text-anchor="end" dy="0.355em">TFPI</text><text transform="translate(976.5 223.4) rotate(424.62)" text-anchor="end" dy="0.355em">MFN1</text><text transform="translate(996.8 215.6) rotate(433.85)" text-anchor="end" dy="0.355em">LIG4</text><text transform="translate(1018.2 211.3) rotate(443.08)" text-anchor="end" dy="0.355em">PTAR1</text><text transform="translate(1053.6 143.5) rotate(-84.61)" text-anchor="start" dy="0.355em">FBXO45</text><text transform="translate(1085.8 149.2) rotate(-75.38)" text-anchor="start" dy="0.355em">STC1</text><text transform="translate(1116.6 159.9) rotate(-66.15)" text-anchor="start" dy="0.355em">ZNF25</text><text transform="translate(1145.4 175.5) rotate(-56.92)" text-anchor="start" dy="0.355em">TTC16</text><text transform="translate(1171.2 195.5) rotate(-47.69)" text-anchor="start" dy="0.355em">THAP1</text><text transform="translate(1193.5 219.4) rotate(-38.46)" text-anchor="start" dy="0.355em">FTSJD2</text><text transform="translate(1211.7 246.5) rotate(-29.23)" text-anchor="start" dy="0.355em">ZNF75D</text><text transform="translate(1225.4 276.2) rotate(-20.00)" text-anchor="start" dy="0.355em">AMICA1</text><text transform="translate(1234.0 307.8) rotate(-10.77)" text-anchor="start" dy="0.355em">RBPJ</text><text transform="translate(1237.5 340.3) rotate(-1.54)" text-anchor="start" dy="0.355em">UGDH</text><text transform="translate(1235.8 372.9) rotate(7.69)" text-anchor="start" dy="0.355em">ZHX1</text><text transform="translate(1228.8 404.8) rotate(16.93)" text-anchor="start" dy="0.355em">ZNF654</text><text transform="translate(1216.8 435.2) rotate(26.16)" text-anchor="start" dy="0.355em">GTF3A</text><text transform="translate(1200.1 463.3) rotate(35.39)" text-anchor="start" dy="0.355em">ZNF449</text><text transform="translate(1179.1 488.4) rotate(44.62)" text-anchor="start" dy="0.355em">ZC3H12C</text><text transform="translate(1154.3 509.7) rotate(53.85)" text-anchor="start" dy="0.355em">MAFG</text><text transform="translate(1126.5 526.8) rotate(63.08)" text-anchor="start" dy="0.355em">CSPG4P1Y</text><text transform="translate(1096.2 539.2) rotate(72.31)" text-anchor="start" dy="0.355em">ZNF639</text><text transform="translate(1064.4 546.6) rotate(81.54)" text-anchor="start" dy="0.355em">ZNF740</text><text transform="translate(1031.8 548.8) rotate(270.77)" text-anchor="end" dy="0.355em">ZFP82</text><text transform="translate(999.2 545.7) rotate(280.00)" text-anchor="end" dy="0.355em">BAZ2A</text><text transform="translate(967.6 537.5) rotate(289.23)" text-anchor="end" dy="0.355em">LTF</text><text transform="translate(937.7 524.2) rotate(298.46)" text-anchor="end" dy="0.355em">NRF1</text><text transform="translate(910.3 506.4) rotate(307.69)" text-anchor="end" dy="0.355em">ZNF446</text><text transform="translate(886.1 484.4) rotate(316.93)" text-anchor="end" dy="0.355em">CRX</text><text transform="translate(865.8 458.8) rotate(326.16)" text-anchor="end" dy="0.355em">TGIF1</text><text transform="translate(849.9 430.3) rotate(335.39)" text-anchor="end" dy="0.355em">MYH13</text><text transform="translate(838.7 399.6) rotate(344.62)" text-anchor="end" dy="0.355em">JUN</text><text transform="translate(832.6 367.5) rotate(353.85)" text-anchor="end" dy="0.355em">SMYD1</text><text transform="translate(831.7 334.8) rotate(363.08)" text-anchor="end" dy="0.355em">RBPMS2</text><text transform="translate(836.1 302.4) rotate(372.31)" text-anchor="end" dy="0.355em">TNIP2</text><text transform="translate(845.6 271.1) rotate(381.54)" text-anchor="end" dy="0.355em">PLEKHM1P</text><text transform="translate(860.0 241.8) rotate(390.77)" text-anchor="end" dy="0.355em">ZCCHC10</text><text transform="translate(878.9 215.1) rotate(400.00)" text-anchor="end" dy="0.355em">ZNF480</text><text transform="translate(901.9 191.9) rotate(409.23)" text-anchor="end" dy="0.355em">ACRC</text><text transform="translate(928.3 172.6) rotate(418.46)" text-anchor="end" dy="0.355em">ISM2</text><text transform="translate(957.4 157.8) rotate(427.69)" text-anchor="end" dy="0.355em">PINX1</text><text transform="translate(988.6 147.9) rotate(436.93)" text-anchor="end" dy="0.355em">LOC100216545</text><text transform="translate(1020.9 143.1) rotate(446.16)" text-anchor="end" dy="0.355em">NR2F1−AS1</text><text transform="translate(1030.9 75.1) rotate(449.23)" text-anchor="end" dy="0.355em">CGB1</text><text transform="translate(1074.3 78.0) rotate(-81.54)" text-anchor="start" dy="0.355em">CGB2</text><text transform="translate(1116.7 87.9) rotate(-72.31)" text-anchor="start" dy="0.355em">SLC4A10</text><text transform="translate(1157.0 104.4) rotate(-63.07)" text-anchor="start" dy="0.355em">HP09025</text><text transform="translate(1194.2 127.2) rotate(-53.84)" text-anchor="start" dy="0.355em">PKP1</text><text transform="translate(1227.1 155.7) rotate(-44.61)" text-anchor="start" dy="0.355em">SLC6A9</text><text transform="translate(1255.1 189.0) rotate(-35.38)" text-anchor="start" dy="0.355em">AL137752</text><text transform="translate(1277.4 226.4) rotate(-26.15)" text-anchor="start" dy="0.355em">BC015846</text><text transform="translate(1293.4 266.9) rotate(-16.92)" text-anchor="start" dy="0.355em">LINC00558</text><text transform="translate(1302.7 309.5) rotate(-7.69)" text-anchor="start" dy="0.355em">INHA</text><text transform="translate(1305.0 353.0) rotate(1.54)" text-anchor="start" dy="0.355em">BC038577</text><text transform="translate(1300.3 396.3) rotate(10.77)" text-anchor="start" dy="0.355em">MTNR1B</text><text transform="translate(1288.8 438.3) rotate(20.00)" text-anchor="start" dy="0.355em">ZFR2</text><text transform="translate(1270.6 477.9) rotate(29.23)" text-anchor="start" dy="0.355em">KIAA0895L</text><text transform="translate(1246.4 514.0) rotate(38.46)" text-anchor="start" dy="0.355em">GJD2</text><text transform="translate(1216.6 545.8) rotate(47.69)" text-anchor="start" dy="0.355em">RHPN1</text><text transform="translate(1182.2 572.5) rotate(56.93)" text-anchor="start" dy="0.355em">AX747375</text><text transform="translate(1143.9 593.2) rotate(66.16)" text-anchor="start" dy="0.355em">HOXC13</text><text transform="translate(1102.8 607.5) rotate(75.39)" text-anchor="start" dy="0.355em">GATA3−AS1</text><text transform="translate(1059.9 615.1) rotate(84.62)" text-anchor="start" dy="0.355em">AMIGO3</text><text transform="translate(1016.3 615.7) rotate(273.85)" text-anchor="end" dy="0.355em">HS3ST3B1</text><text transform="translate(973.3 609.3) rotate(283.08)" text-anchor="end" dy="0.355em">BC036921</text><text transform="translate(931.8 596.0) rotate(292.31)" text-anchor="end" dy="0.355em">ZNF546</text><text transform="translate(892.9 576.3) rotate(301.54)" text-anchor="end" dy="0.355em">GPRASP1</text><text transform="translate(857.8 550.6) rotate(310.77)" text-anchor="end" dy="0.355em">BC031884</text><text transform="translate(827.2 519.6) rotate(320.00)" text-anchor="end" dy="0.355em">GPR1</text><text transform="translate(802.0 484.1) rotate(329.23)" text-anchor="end" dy="0.355em">MS4A3</text><text transform="translate(782.8 445.0) rotate(338.46)" text-anchor="end" dy="0.355em">LOC652276</text><text transform="translate(770.1 403.4) rotate(347.69)" text-anchor="end" dy="0.355em">SH2D5</text><text transform="translate(764.3 360.2) rotate(356.93)" text-anchor="end" dy="0.355em">AK748312</text><text transform="translate(773.6 273.9) rotate(375.39)" text-anchor="end" dy="0.355em">BC042649</text><text transform="translate(788.5 233.0) rotate(384.62)" text-anchor="end" dy="0.355em">MSS51</text><text transform="translate(809.8 195.0) rotate(393.85)" text-anchor="end" dy="0.355em">CGB8</text><text transform="translate(836.9 160.9) rotate(403.08)" text-anchor="end" dy="0.355em">FIZ1</text><text transform="translate(869.1 131.6) rotate(412.31)" text-anchor="end" dy="0.355em">SFSWAP</text><text transform="translate(905.6 107.8) rotate(421.54)" text-anchor="end" dy="0.355em">PTPRN</text><text transform="translate(945.4 90.2) rotate(430.77)" text-anchor="end" dy="0.355em">HCAR1</text><text transform="translate(987.5 79.2) rotate(440.00)" text-anchor="end" dy="0.355em">OR1A2</text></g>
<g font-size="37" text-anchor="middle" fill="#000" stroke="#000" stroke-width="0.5"><text x="1039.6" y="334.1">RRM2B</text><text x="1039.6" y="378.5">(HB)</text><text x="1039.6" y="424.3">N=116</text></g>
</g>
<clipPath id="cl_p3"><rect x="2" y="725" width="676.3" height="680"/></clipPath>
<g clip-path="url(#cl_p3)">
<g><path d="M299.8 1060.0L227.7 1060.0" stroke="#ff1212" stroke-width="2.60" fill="none"/><path d="M226.3 1060.0Q232.0 1059.0 237.6 1057.4L237.6 1062.6Q232.0 1061.0 226.3 1060.0Z" fill="#ff1212" stroke="#ff1212" stroke-width="1.28" stroke-linejoin="round"/><path d="M302.5 1043.8L234.3 1020.3" stroke="#ff1212" stroke-width="2.57" fill="none"/><path d="M233.0 1019.9Q238.7 1020.8 244.5 1021.1L242.9 1026.0Q238.0 1022.7 233.0 1019.9Z" fill="#ff1212" stroke="#ff1212" stroke-width="1.28" stroke-linejoin="round"/><path d="M310.3 1029.3L253.5 985.0" stroke="#ff1212" stroke-width="2.55" fill="none"/><path d="M252.4 984.2Q257.5 986.8 262.8 989.1L259.7 993.1Q256.2 988.4 252.4 984.2Z" fill="#ff1212" stroke="#ff1212" stroke-width="1.28" stroke-linejoin="round"/><path d="M322.5 1018.1L283.0 957.8" stroke="#ff1212" stroke-width="2.52" fill="none"/><path d="M282.3 956.6Q286.2 960.8 290.6 964.7L286.3 967.5Q284.5 961.9 282.3 956.6Z" fill="#ff1212" stroke="#ff1212" stroke-width="1.28" stroke-linejoin="round"/><path d="M337.5 1011.5L319.8 941.6" stroke="#ff1212" stroke-width="2.49" fill="none"/><path d="M319.5 940.3Q321.9 945.5 324.7 950.6L319.8 951.8Q319.9 946.0 319.5 940.3Z" fill="#ff1212" stroke="#ff1212" stroke-width="1.28" stroke-linejoin="round"/><path d="M353.9 1010.2L359.9 938.3" stroke="#ff1212" stroke-width="2.46" fill="none"/><path d="M360.0 937.0Q360.5 942.6 361.6 948.4L356.6 947.9Q358.5 942.5 360.0 937.0Z" fill="#ff1212" stroke="#ff1212" stroke-width="1.28" stroke-linejoin="round"/><path d="M369.9 1014.2L398.9 948.2" stroke="#ff1212" stroke-width="2.44" fill="none"/><path d="M399.4 946.9Q398.1 952.5 397.2 958.2L392.6 956.2Q396.2 951.7 399.4 946.9Z" fill="#ff1212" stroke="#ff1212" stroke-width="1.28" stroke-linejoin="round"/><path d="M383.7 1023.2L432.5 970.2" stroke="#ff1212" stroke-width="2.41" fill="none"/><path d="M433.4 969.2Q430.4 974.0 427.7 979.1L424.0 975.7Q428.9 972.6 433.4 969.2Z" fill="#ff1212" stroke="#ff1212" stroke-width="1.28" stroke-linejoin="round"/><path d="M393.8 1036.2L457.2 1001.9" stroke="#ff1212" stroke-width="2.38" fill="none"/><path d="M458.4 1001.2Q453.9 1004.8 449.7 1008.7L447.4 1004.4Q453.0 1003.0 458.4 1001.2Z" fill="#ff1212" stroke="#ff1212" stroke-width="1.28" stroke-linejoin="round"/><path d="M399.1 1051.8L470.2 1039.9" stroke="#ff1212" stroke-width="2.36" fill="none"/><path d="M471.6 1039.7Q466.2 1041.6 461.0 1043.9L460.1 1039.1Q465.9 1039.6 471.6 1039.7Z" fill="#ff1212" stroke="#ff1212" stroke-width="1.28" stroke-linejoin="round"/><path d="M399.1 1068.2L470.2 1080.1" stroke="#ff1212" stroke-width="2.33" fill="none"/><path d="M471.6 1080.3Q465.9 1080.4 460.2 1080.9L461.0 1076.1Q466.2 1078.4 471.6 1080.3Z" fill="#ff1212" stroke="#ff1212" stroke-width="1.28" stroke-linejoin="round"/><path d="M393.8 1083.8L457.2 1118.1" stroke="#ff1212" stroke-width="2.30" fill="none"/><path d="M458.4 1118.8Q453.0 1117.0 447.4 1115.6L449.7 1111.3Q453.9 1115.3 458.4 1118.8Z" fill="#ff1212" stroke="#ff1212" stroke-width="1.28" stroke-linejoin="round"/><path d="M383.7 1096.8L432.5 1149.8" stroke="#ff1212" stroke-width="2.27" fill="none"/><path d="M433.4 1150.8Q428.9 1147.4 424.1 1144.3L427.6 1141.0Q430.3 1146.1 433.4 1150.8Z" fill="#ff1212" stroke="#ff1212" stroke-width="1.28" stroke-linejoin="round"/><path d="M369.9 1105.8L398.8 1171.8" stroke="#ff1212" stroke-width="2.25" fill="none"/><path d="M399.4 1173.1Q396.3 1168.4 392.7 1163.8L397.1 1161.9Q398.0 1167.6 399.4 1173.1Z" fill="#ff1212" stroke="#ff1212" stroke-width="1.28" stroke-linejoin="round"/><path d="M353.9 1109.8L359.9 1181.7" stroke="#ff1212" stroke-width="2.22" fill="none"/><path d="M360.0 1183.0Q358.6 1177.6 356.7 1172.2L361.4 1171.8Q360.5 1177.4 360.0 1183.0Z" fill="#ff1212" stroke="#ff1212" stroke-width="1.28" stroke-linejoin="round"/><path d="M337.5 1108.5L319.8 1178.4" stroke="#ff1212" stroke-width="2.19" fill="none"/><path d="M319.5 1179.7Q319.9 1174.1 319.9 1168.3L324.5 1169.5Q321.8 1174.5 319.5 1179.7Z" fill="#ff1212" stroke="#ff1212" stroke-width="1.28" stroke-linejoin="round"/><path d="M322.5 1101.9L283.0 1162.2" stroke="#ff1212" stroke-width="2.17" fill="none"/><path d="M282.3 1163.4Q284.5 1158.2 286.4 1152.8L290.3 1155.4Q286.1 1159.2 282.3 1163.4Z" fill="#ff1212" stroke="#ff1212" stroke-width="1.28" stroke-linejoin="round"/><path d="M310.3 1090.7L253.4 1135.0" stroke="#ff1212" stroke-width="2.14" fill="none"/><path d="M252.4 1135.8Q256.2 1131.7 259.7 1127.2L262.5 1130.9Q257.3 1133.2 252.4 1135.8Z" fill="#ff1212" stroke="#ff1212" stroke-width="1.28" stroke-linejoin="round"/><path d="M302.5 1076.2L234.3 1099.6" stroke="#ff1212" stroke-width="2.11" fill="none"/><path d="M233.0 1100.1Q238.0 1097.4 242.7 1094.3L244.3 1098.7Q238.6 1099.2 233.0 1100.1Z" fill="#ff1212" stroke="#ff1212" stroke-width="1.28" stroke-linejoin="round"/><path d="M300.1 1054.5L161.6 1039.2" stroke="#ff1212" stroke-width="2.09" fill="none"/><path d="M160.2 1039.0Q165.8 1038.7 171.4 1037.9L170.9 1042.5Q165.6 1040.5 160.2 1039.0Z" fill="#ff1212" stroke="#ff1212" stroke-width="1.28" stroke-linejoin="round"/><path d="M304.6 1038.7L178.5 979.2" stroke="#ff1212" stroke-width="2.07" fill="none"/><path d="M177.3 978.6Q182.7 980.1 188.3 981.2L186.3 985.4Q181.9 981.8 177.3 978.6Z" fill="#ff1212" stroke="#ff1212" stroke-width="1.28" stroke-linejoin="round"/><path d="M314.0 1025.1L214.0 927.9" stroke="#ff1212" stroke-width="2.04" fill="none"/><path d="M213.1 927.0Q217.7 930.2 222.6 933.0L219.4 936.3Q216.4 931.5 213.1 927.0Z" fill="#ff1212" stroke="#ff1212" stroke-width="1.28" stroke-linejoin="round"/><path d="M327.2 1015.4L264.3 891.0" stroke="#ff1212" stroke-width="2.02" fill="none"/><path d="M263.7 889.8Q267.0 894.3 270.7 898.6L266.6 900.7Q265.4 895.1 263.7 889.8Z" fill="#ff1212" stroke="#ff1212" stroke-width="1.28" stroke-linejoin="round"/><path d="M342.9 1010.5L323.8 872.4" stroke="#ff1212" stroke-width="2.00" fill="none"/><path d="M323.6 871.0Q325.3 876.4 327.4 881.7L322.9 882.3Q323.5 876.6 323.6 871.0Z" fill="#ff1212" stroke="#ff1212" stroke-width="1.28" stroke-linejoin="round"/><path d="M359.4 1010.9L386.1 874.1" stroke="#ff1212" stroke-width="1.98" fill="none"/><path d="M386.4 872.8Q386.2 878.4 386.5 884.0L382.1 883.2Q384.5 878.0 386.4 872.8Z" fill="#ff1212" stroke="#ff1212" stroke-width="1.28" stroke-linejoin="round"/><path d="M374.8 1016.7L444.5 896.0" stroke="#ff1212" stroke-width="1.96" fill="none"/><path d="M445.2 894.8Q443.2 900.0 441.6 905.4L437.8 903.2Q441.7 899.1 445.2 894.8Z" fill="#ff1212" stroke="#ff1212" stroke-width="1.28" stroke-linejoin="round"/><path d="M387.5 1027.2L492.6 935.6" stroke="#ff1212" stroke-width="1.93" fill="none"/><path d="M493.7 934.7Q490.1 939.0 486.8 943.6L483.9 940.3Q489.0 937.7 493.7 934.7Z" fill="#ff1212" stroke="#ff1212" stroke-width="1.28" stroke-linejoin="round"/><path d="M396.1 1041.2L525.3 988.7" stroke="#ff1212" stroke-width="1.91" fill="none"/><path d="M526.5 988.2Q521.8 991.0 517.2 994.4L515.5 990.3Q521.2 989.6 526.5 988.2Z" fill="#ff1212" stroke="#ff1212" stroke-width="1.28" stroke-linejoin="round"/><path d="M399.7 1057.2L538.9 1049.6" stroke="#ff1212" stroke-width="1.87" fill="none"/><path d="M540.3 1049.5Q534.8 1050.5 529.4 1052.3L529.2 1047.9Q534.8 1049.1 540.3 1049.5Z" fill="#ff1212" stroke="#ff1212" stroke-width="1.28" stroke-linejoin="round"/><path d="M397.9 1073.6L532.1 1111.5" stroke="#ff1212" stroke-width="1.79" fill="none"/><path d="M533.4 1111.9Q527.9 1111.0 522.3 1111.0L523.4 1106.9Q528.3 1109.8 533.4 1111.9Z" fill="#ff1212" stroke="#ff1212" stroke-width="1.28" stroke-linejoin="round"/><path d="M390.9 1088.5L505.4 1167.9" stroke="#ff1212" stroke-width="1.72" fill="none"/><path d="M506.6 1168.7Q501.8 1166.0 496.4 1164.2L498.8 1160.8Q502.4 1165.2 506.6 1168.7Z" fill="#ff1212" stroke="#ff1212" stroke-width="1.28" stroke-linejoin="round"/><path d="M379.4 1100.3L462.0 1212.6" stroke="#ff1212" stroke-width="1.64" fill="none"/><path d="M462.8 1213.7Q459.2 1209.6 454.7 1206.2L458.0 1203.7Q459.9 1209.1 462.8 1213.7Z" fill="#ff1212" stroke="#ff1212" stroke-width="1.28" stroke-linejoin="round"/><path d="M364.7 1107.7L406.3 1240.8" stroke="#ff1212" stroke-width="1.57" fill="none"/><path d="M406.7 1242.1Q404.8 1237.0 401.6 1232.3L405.4 1231.1Q405.5 1236.8 406.7 1242.1Z" fill="#ff1212" stroke="#ff1212" stroke-width="1.25" stroke-linejoin="round"/><path d="M348.4 1110.0L344.6 1249.3" stroke="#ff1212" stroke-width="1.49" fill="none"/><path d="M344.5 1250.7Q344.4 1245.3 342.8 1239.8L346.9 1239.9Q345.0 1245.3 344.5 1250.7Z" fill="#ff1212" stroke="#ff1212" stroke-width="1.19" stroke-linejoin="round"/><path d="M332.3 1106.8L283.4 1237.4" stroke="#ff1212" stroke-width="1.41" fill="none"/><path d="M282.9 1238.7Q284.6 1233.5 284.8 1227.8L288.6 1229.2Q285.0 1233.7 282.9 1238.7Z" fill="#ff1212" stroke="#ff1212" stroke-width="1.13" stroke-linejoin="round"/><path d="M318.0 1098.6L229.4 1206.2" stroke="#ff1212" stroke-width="1.34" fill="none"/><path d="M228.5 1207.3Q231.8 1203.0 233.9 1197.6L236.9 1200.2Q232.0 1203.2 228.5 1207.3Z" fill="#ff1212" stroke="#ff1212" stroke-width="1.07" stroke-linejoin="round"/><path d="M307.2 1086.2L188.4 1159.2" stroke="#ff1212" stroke-width="1.26" fill="none"/><path d="M187.2 1160.0Q191.8 1157.0 195.5 1152.5L197.5 1155.9Q191.9 1157.1 187.2 1160.0Z" fill="#ff1212" stroke="#ff1212" stroke-width="1.01" stroke-linejoin="round"/><path d="M301.0 1070.9L165.0 1101.4" stroke="#ff1212" stroke-width="1.07" fill="none"/><path d="M163.4 1101.8Q168.8 1100.5 173.8 1097.4L174.6 1101.3Q168.8 1100.5 163.4 1101.8Z" fill="#ff1212" stroke="#ff1212" stroke-width="0.86" stroke-linejoin="round"/><path d="M301.0 1049.1L99.4 1003.9" stroke="#ff1212" stroke-width="0.87" fill="none"/><path d="M109.1 1004.1Q103.2 1004.7 97.8 1003.5Q103.2 1004.7 108.2 1007.8" fill="#ff1212" fill-opacity="0.25" stroke="#ff1212" stroke-width="0.74" stroke-linejoin="miter"/><path d="M307.2 1033.8L131.2 925.6" stroke="#ff1212" stroke-width="0.83" fill="none"/><path d="M140.3 928.9Q134.5 927.6 129.8 924.7Q134.5 927.6 138.2 932.2" fill="#ff1212" fill-opacity="0.25" stroke="#ff1212" stroke-width="0.71" stroke-linejoin="miter"/><path d="M318.0 1021.4L186.7 861.9" stroke="#ff1212" stroke-width="0.79" fill="none"/><path d="M194.2 868.0Q189.1 864.9 185.6 860.6Q189.1 864.9 191.2 870.4" fill="#ff1212" fill-opacity="0.25" stroke="#ff1212" stroke-width="0.67" stroke-linejoin="miter"/><path d="M332.3 1013.2L259.8 819.7" stroke="#ff1212" stroke-width="0.75" fill="none"/><path d="M264.9 827.9Q261.2 823.3 259.2 818.1Q261.2 823.3 261.4 829.2" fill="#ff1212" fill-opacity="0.25" stroke="#ff1212" stroke-width="0.64" stroke-linejoin="miter"/><path d="M348.4 1010.0L342.7 803.5" stroke="#ff1212" stroke-width="0.71" fill="none"/><path d="M344.9 812.9Q342.8 807.4 342.7 801.8Q342.8 807.4 341.1 813.0" fill="#ff1212" fill-opacity="0.25" stroke="#ff1212" stroke-width="0.60" stroke-linejoin="miter"/><path d="M364.7 1012.3L426.4 815.1" stroke="#ff1212" stroke-width="0.67" fill="none"/><path d="M425.4 824.7Q425.3 818.8 426.9 813.5Q425.3 818.8 421.8 823.5" fill="#ff1212" fill-opacity="0.25" stroke="#ff1212" stroke-width="0.57" stroke-linejoin="miter"/><path d="M379.4 1019.7L501.8 853.2" stroke="#ff1212" stroke-width="0.63" fill="none"/><path d="M497.7 862.0Q499.5 856.3 502.8 851.8Q499.5 856.3 494.7 859.7" fill="#ff1212" fill-opacity="0.25" stroke="#ff1212" stroke-width="0.54" stroke-linejoin="miter"/><path d="M390.9 1031.5L560.7 913.8" stroke="#ff1212" stroke-width="0.59" fill="none"/><path d="M554.0 920.7Q557.5 916.0 562.1 912.8Q557.5 916.0 551.9 917.6" fill="#ff1212" fill-opacity="0.25" stroke="#ff1212" stroke-width="0.50" stroke-linejoin="miter"/><path d="M397.9 1046.4L596.7 990.2" stroke="#ff1212" stroke-width="0.55" fill="none"/><path d="M588.2 994.6Q593.0 991.2 598.4 989.7Q593.0 991.2 587.1 990.9" fill="#ff1212" fill-opacity="0.25" stroke="#ff1212" stroke-width="0.47" stroke-linejoin="miter"/><path d="M399.7 1062.8L606.0 1074.1" stroke="#1f1fff" stroke-width="0.60" fill="none"/><path d="M596.5 1075.5Q602.2 1073.9 607.8 1074.2Q602.2 1073.9 596.7 1071.7" fill="#1f1fff" fill-opacity="0.25" stroke="#1f1fff" stroke-width="0.51" stroke-linejoin="miter"/><path d="M396.1 1078.8L587.5 1156.6" stroke="#1f1fff" stroke-width="0.66" fill="none"/><path d="M578.1 1154.8Q584.0 1155.1 589.1 1157.2Q584.0 1155.1 579.5 1151.3" fill="#1f1fff" fill-opacity="0.25" stroke="#1f1fff" stroke-width="0.56" stroke-linejoin="miter"/><path d="M387.5 1092.8L543.3 1228.5" stroke="#1f1fff" stroke-width="0.71" fill="none"/><path d="M534.9 1223.8Q540.4 1226.0 544.6 1229.7Q540.4 1226.0 537.4 1220.9" fill="#1f1fff" fill-opacity="0.25" stroke="#1f1fff" stroke-width="0.60" stroke-linejoin="miter"/><path d="M374.8 1103.3L478.1 1282.2" stroke="#1f1fff" stroke-width="0.77" fill="none"/><path d="M471.7 1275.0Q476.2 1278.9 478.9 1283.7Q476.2 1278.9 475.0 1273.1" fill="#1f1fff" fill-opacity="0.25" stroke="#1f1fff" stroke-width="0.65" stroke-linejoin="miter"/><path d="M359.4 1109.1L399.0 1311.8" stroke="#1f1fff" stroke-width="0.82" fill="none"/><path d="M395.3 1302.9Q398.2 1308.0 399.3 1313.5Q398.2 1308.0 399.1 1302.2" fill="#1f1fff" fill-opacity="0.25" stroke="#1f1fff" stroke-width="0.70" stroke-linejoin="miter"/><path d="M342.9 1109.5L314.5 1314.2" stroke="#1f1fff" stroke-width="0.88" fill="none"/><path d="M313.9 1304.5Q315.1 1310.3 314.3 1315.8Q315.1 1310.3 317.8 1305.1" fill="#1f1fff" fill-opacity="0.25" stroke="#1f1fff" stroke-width="0.75" stroke-linejoin="miter"/><path d="M327.2 1104.6L233.9 1288.9" stroke="#1f1fff" stroke-width="0.93" fill="none"/><path d="M236.5 1279.6Q235.7 1285.5 233.2 1290.4Q235.7 1285.5 239.9 1281.4" fill="#1f1fff" fill-opacity="0.25" stroke="#1f1fff" stroke-width="0.79" stroke-linejoin="miter"/><path d="M314.0 1094.9L165.9 1238.9" stroke="#1f1fff" stroke-width="0.99" fill="none"/><path d="M171.3 1230.9Q168.7 1236.2 164.7 1240.0Q168.7 1236.2 174.0 1233.7" fill="#1f1fff" fill-opacity="0.25" stroke="#1f1fff" stroke-width="0.84" stroke-linejoin="miter"/><path d="M304.6 1081.3L117.7 1169.5" stroke="#1f1fff" stroke-width="1.18" fill="none"/><path d="M116.4 1170.2Q121.3 1167.8 125.4 1163.7L127.1 1167.2Q121.3 1167.8 116.4 1170.2Z" fill="#1f1fff" stroke="#1f1fff" stroke-width="0.94" stroke-linejoin="round"/><path d="M300.1 1065.5L94.8 1088.2" stroke="#1f1fff" stroke-width="1.40" fill="none"/><path d="M93.3 1088.4Q98.7 1087.6 103.9 1085.2L104.4 1089.2Q98.8 1088.0 93.3 1088.4Z" fill="#1f1fff" stroke="#1f1fff" stroke-width="1.12" stroke-linejoin="round"/></g>
<circle cx="343.0" cy="1066.5" r="83.8" fill="#fff"/>
<g fill="#a2a2a2"><circle cx="360.5" cy="931.4" r="3.65"/><circle cx="401.6" cy="941.9" r="3.65"/><circle cx="437.2" cy="965.1" r="3.65"/><circle cx="463.3" cy="998.6" r="3.65"/><circle cx="477.0" cy="1038.8" r="3.65"/><circle cx="477.0" cy="1081.2" r="3.65"/><circle cx="463.2" cy="1121.4" r="3.65"/><circle cx="437.2" cy="1154.9" r="3.65"/><circle cx="401.6" cy="1178.1" r="3.65"/><circle cx="360.4" cy="1188.6" r="3.65"/><circle cx="318.1" cy="1185.1" r="3.65"/><circle cx="279.2" cy="1168.0" r="3.65"/><circle cx="248.0" cy="1139.2" r="3.65"/><circle cx="227.8" cy="1101.9" r="3.65"/><circle cx="220.8" cy="1060.0" r="3.65"/><circle cx="227.8" cy="1018.1" r="3.65"/><circle cx="248.0" cy="980.8" r="3.65"/><circle cx="279.2" cy="952.0" r="3.65"/><circle cx="318.1" cy="934.9" r="3.65"/><circle cx="387.4" cy="867.3" r="3.65"/><circle cx="448.0" cy="890.0" r="3.65"/><circle cx="497.8" cy="931.1" r="3.65"/><circle cx="531.7" cy="986.1" r="3.65"/><circle cx="545.8" cy="1049.2" r="3.65"/><circle cx="538.7" cy="1113.4" r="3.65"/><circle cx="511.1" cy="1171.9" r="3.65"/><circle cx="466.0" cy="1218.2" r="3.65"/><circle cx="408.4" cy="1247.4" r="3.65"/><circle cx="344.4" cy="1256.2" r="3.65"/><circle cx="281.0" cy="1243.8" r="3.65"/><circle cx="225.0" cy="1211.5" r="3.65"/><circle cx="182.6" cy="1162.8" r="3.65"/><circle cx="158.2" cy="1102.9" r="3.65"/><circle cx="154.7" cy="1038.4" r="3.65"/><circle cx="172.3" cy="976.2" r="3.65"/><circle cx="209.1" cy="923.1" r="3.65"/><circle cx="261.2" cy="884.8" r="3.65"/><circle cx="322.8" cy="865.6" r="3.65"/><circle cx="428.5" cy="808.5" r="3.65"/><circle cx="505.9" cy="847.7" r="3.65"/><circle cx="566.3" cy="909.9" r="3.65"/><circle cx="603.4" cy="988.3" r="3.65"/><circle cx="612.9" cy="1074.5" r="3.65"/><circle cx="593.9" cy="1159.2" r="3.65"/><circle cx="548.5" cy="1233.1" r="3.65"/><circle cx="481.5" cy="1288.2" r="3.65"/><circle cx="400.3" cy="1318.6" r="3.65"/><circle cx="313.6" cy="1321.0" r="3.65"/><circle cx="230.8" cy="1295.1" r="3.65"/><circle cx="160.9" cy="1243.7" r="3.65"/><circle cx="111.5" cy="1172.4" r="3.65"/><circle cx="87.9" cy="1089.0" r="3.65"/><circle cx="92.7" cy="1002.4" r="3.65"/><circle cx="125.3" cy="922.0" r="3.65"/><circle cx="182.3" cy="856.6" r="3.65"/><circle cx="257.4" cy="813.2" r="3.65"/><circle cx="342.6" cy="796.6" r="3.65"/></g>
<g font-size="17.3" fill="#000" stroke="#000" stroke-width="0.4"><text transform="translate(360.9 925.9) rotate(-85.26)" text-anchor="start" dy="0.355em">BUB1</text><text transform="translate(403.9 936.7) rotate(-66.31)" text-anchor="start" dy="0.355em">KIF2C</text><text transform="translate(441.0 961.0) rotate(-47.37)" text-anchor="start" dy="0.355em">CDCA5</text><text transform="translate(468.2 995.9) rotate(-28.42)" text-anchor="start" dy="0.355em">NDC80</text><text transform="translate(482.6 1037.9) rotate(-9.47)" text-anchor="start" dy="0.355em">CCNB1</text><text transform="translate(482.6 1082.2) rotate(9.48)" text-anchor="start" dy="0.355em">BIRC5</text><text transform="translate(468.2 1124.1) rotate(28.42)" text-anchor="start" dy="0.355em">CDC45</text><text transform="translate(441.0 1159.0) rotate(47.37)" text-anchor="start" dy="0.355em">CDCA8</text><text transform="translate(403.9 1183.3) rotate(66.32)" text-anchor="start" dy="0.355em">WDR62</text><text transform="translate(360.9 1194.1) rotate(85.27)" text-anchor="start" dy="0.355em">KIF18B</text><text transform="translate(316.8 1190.5) rotate(284.21)" text-anchor="end" dy="0.355em">CENPA</text><text transform="translate(276.2 1172.7) rotate(303.16)" text-anchor="end" dy="0.355em">RAD54L</text><text transform="translate(243.6 1142.7) rotate(322.11)" text-anchor="end" dy="0.355em">ERCC6L</text><text transform="translate(222.5 1103.7) rotate(341.06)" text-anchor="end" dy="0.355em">EXO1</text><text transform="translate(215.2 1060.0) rotate(360.00)" text-anchor="end" dy="0.355em">NCAPG</text><text transform="translate(222.5 1016.3) rotate(378.95)" text-anchor="end" dy="0.355em">TPX2</text><text transform="translate(243.6 977.3) rotate(397.90)" text-anchor="end" dy="0.355em">KIF4A</text><text transform="translate(276.2 947.3) rotate(416.85)" text-anchor="end" dy="0.355em">HJURP</text><text transform="translate(316.8 929.5) rotate(435.79)" text-anchor="end" dy="0.355em">SPC25</text><text transform="translate(388.5 861.8) rotate(-78.94)" text-anchor="start" dy="0.355em">ZWINT</text><text transform="translate(450.8 885.2) rotate(-60.00)" text-anchor="start" dy="0.355em">CDC25C</text><text transform="translate(502.1 927.4) rotate(-41.05)" text-anchor="start" dy="0.355em">CDC6</text><text transform="translate(536.9 984.0) rotate(-22.10)" text-anchor="start" dy="0.355em">E2F2</text><text transform="translate(551.4 1048.9) rotate(-3.15)" text-anchor="start" dy="0.355em">FOXM1</text><text transform="translate(544.1 1114.9) rotate(15.79)" text-anchor="start" dy="0.355em">PCLAF</text><text transform="translate(515.7 1175.1) rotate(34.74)" text-anchor="start" dy="0.355em">EZH2</text><text transform="translate(469.4 1222.7) rotate(53.69)" text-anchor="start" dy="0.355em">E2F1</text><text transform="translate(410.1 1252.7) rotate(72.63)" text-anchor="start" dy="0.355em">UHRF1</text><text transform="translate(344.2 1261.8) rotate(271.58)" text-anchor="end" dy="0.355em">E2F8</text><text transform="translate(279.0 1249.1) rotate(290.53)" text-anchor="end" dy="0.355em">AURKA</text><text transform="translate(221.4 1215.8) rotate(309.48)" text-anchor="end" dy="0.355em">CENPU</text><text transform="translate(177.8 1165.7) rotate(328.42)" text-anchor="end" dy="0.355em">HMGB2</text><text transform="translate(152.8 1104.1) rotate(347.37)" text-anchor="end" dy="0.355em">TUBG1</text><text transform="translate(149.1 1037.8) rotate(366.32)" text-anchor="end" dy="0.355em">CDCA2</text><text transform="translate(167.2 973.8) rotate(385.27)" text-anchor="end" dy="0.355em">ASF1B</text><text transform="translate(205.1 919.2) rotate(404.21)" text-anchor="end" dy="0.355em">SKA1</text><text transform="translate(258.6 879.8) rotate(423.16)" text-anchor="end" dy="0.355em">MYBL2</text><text transform="translate(322.1 860.0) rotate(442.11)" text-anchor="end" dy="0.355em">PBK</text><text transform="translate(430.1 803.2) rotate(-72.63)" text-anchor="start" dy="0.355em">LHX4</text><text transform="translate(509.2 843.2) rotate(-53.68)" text-anchor="start" dy="0.355em">TFDP2</text><text transform="translate(570.9 906.7) rotate(-34.73)" text-anchor="start" dy="0.355em">RFX5</text><text transform="translate(608.8 986.8) rotate(-15.79)" text-anchor="start" dy="0.355em">ASCL1</text><text transform="translate(618.5 1074.8) rotate(3.16)" text-anchor="start" dy="0.355em">DMRTA2</text><text transform="translate(599.1 1161.3) rotate(22.11)" text-anchor="start" dy="0.355em">ZNF276</text><text transform="translate(552.7 1236.7) rotate(41.06)" text-anchor="start" dy="0.355em">APP−DT</text><text transform="translate(484.3 1293.1) rotate(60.00)" text-anchor="start" dy="0.355em">POU5F1B</text><text transform="translate(401.4 1324.1) rotate(78.95)" text-anchor="start" dy="0.355em">NFIB</text><text transform="translate(312.8 1326.5) rotate(277.90)" text-anchor="end" dy="0.355em">ATOH8</text><text transform="translate(228.3 1300.1) rotate(296.85)" text-anchor="end" dy="0.355em">GNG7</text><text transform="translate(156.9 1247.6) rotate(315.79)" text-anchor="end" dy="0.355em">TAL1</text><text transform="translate(106.4 1174.8) rotate(334.74)" text-anchor="end" dy="0.355em">HTR2B</text><text transform="translate(82.3 1089.6) rotate(353.69)" text-anchor="end" dy="0.355em">NAALADL2</text><text transform="translate(87.2 1001.1) rotate(372.63)" text-anchor="end" dy="0.355em">TMEM191C</text><text transform="translate(120.6 919.1) rotate(391.58)" text-anchor="end" dy="0.355em">ZKSCAN3</text><text transform="translate(178.7 852.3) rotate(410.53)" text-anchor="end" dy="0.355em">PHTF2</text><text transform="translate(255.5 808.0) rotate(429.48)" text-anchor="end" dy="0.355em">SLC1A4</text><text transform="translate(342.4 791.0) rotate(448.42)" text-anchor="end" dy="0.355em">ZNF341</text></g>
<g font-size="37" text-anchor="middle" fill="#000" stroke="#000" stroke-width="0.5"><text x="343.2" y="1035.1">RRM2</text><text x="343.2" y="1079.5">(HCC)</text><text x="343.2" y="1125.3">N=57</text></g>
</g>
<clipPath id="cl_p4"><rect x="698" y="729" width="680" height="660"/></clipPath>
<g clip-path="url(#cl_p4)">
<g><path d="M992.7 1045.0L921.5 1045.0" stroke="#ff1212" stroke-width="2.60" fill="none"/><path d="M920.1 1045.0Q925.8 1044.0 931.4 1042.4L931.4 1047.6Q925.8 1046.0 920.1 1045.0Z" fill="#ff1212" stroke="#ff1212" stroke-width="1.28" stroke-linejoin="round"/><path d="M994.9 1030.3L926.9 1009.3" stroke="#ff1212" stroke-width="2.54" fill="none"/><path d="M925.6 1008.9Q931.3 1009.6 937.1 1009.8L935.6 1014.6Q930.7 1011.5 925.6 1008.9Z" fill="#ff1212" stroke="#ff1212" stroke-width="1.28" stroke-linejoin="round"/><path d="M1001.4 1016.8L942.6 976.7" stroke="#ff1212" stroke-width="2.48" fill="none"/><path d="M941.4 976.0Q946.6 978.3 952.1 980.2L949.3 984.4Q945.5 980.0 941.4 976.0Z" fill="#ff1212" stroke="#ff1212" stroke-width="1.28" stroke-linejoin="round"/><path d="M1011.5 1005.9L967.1 950.2" stroke="#ff1212" stroke-width="2.42" fill="none"/><path d="M966.3 949.2Q970.6 952.9 975.2 956.4L971.3 959.5Q969.0 954.2 966.3 949.2Z" fill="#ff1212" stroke="#ff1212" stroke-width="1.28" stroke-linejoin="round"/><path d="M1024.4 998.5L998.4 932.2" stroke="#ff1212" stroke-width="2.36" fill="none"/><path d="M997.9 930.9Q1000.9 935.8 1004.3 940.4L999.7 942.2Q999.0 936.5 997.9 930.9Z" fill="#ff1212" stroke="#ff1212" stroke-width="1.28" stroke-linejoin="round"/><path d="M1039.0 995.1L1033.6 924.1" stroke="#ff1212" stroke-width="2.30" fill="none"/><path d="M1033.5 922.8Q1034.9 928.3 1036.8 933.7L1031.9 934.1Q1033.0 928.4 1033.5 922.8Z" fill="#ff1212" stroke="#ff1212" stroke-width="1.28" stroke-linejoin="round"/><path d="M1053.8 996.3L1069.7 926.8" stroke="#ff1212" stroke-width="2.24" fill="none"/><path d="M1070.0 925.5Q1069.7 931.1 1069.8 936.9L1065.2 935.8Q1067.8 930.7 1070.0 925.5Z" fill="#ff1212" stroke="#ff1212" stroke-width="1.28" stroke-linejoin="round"/><path d="M1067.7 1001.7L1103.3 940.0" stroke="#ff1212" stroke-width="2.18" fill="none"/><path d="M1104.0 938.9Q1102.0 944.1 1100.5 949.7L1096.4 947.3Q1100.4 943.2 1104.0 938.9Z" fill="#ff1212" stroke="#ff1212" stroke-width="1.28" stroke-linejoin="round"/><path d="M1079.4 1011.0L1131.5 962.6" stroke="#ff1212" stroke-width="2.12" fill="none"/><path d="M1132.5 961.6Q1129.1 966.1 1126.0 970.9L1122.8 967.5Q1127.8 964.7 1132.5 961.6Z" fill="#ff1212" stroke="#ff1212" stroke-width="1.28" stroke-linejoin="round"/><path d="M1087.7 1023.3L1151.9 992.4" stroke="#ff1212" stroke-width="2.07" fill="none"/><path d="M1153.1 991.8Q1148.5 995.0 1144.2 998.7L1142.2 994.5Q1147.7 993.4 1153.1 991.8Z" fill="#ff1212" stroke="#ff1212" stroke-width="1.28" stroke-linejoin="round"/><path d="M1092.1 1037.5L1162.5 1026.9" stroke="#ff1212" stroke-width="2.02" fill="none"/><path d="M1163.9 1026.7Q1158.6 1028.4 1153.3 1030.6L1152.6 1026.1Q1158.3 1026.6 1163.9 1026.7Z" fill="#ff1212" stroke="#ff1212" stroke-width="1.28" stroke-linejoin="round"/><path d="M1092.1 1052.4L1162.5 1063.1" stroke="#ff1212" stroke-width="1.97" fill="none"/><path d="M1163.9 1063.3Q1158.3 1063.3 1152.7 1063.8L1153.3 1059.4Q1158.6 1061.6 1163.9 1063.3Z" fill="#ff1212" stroke="#ff1212" stroke-width="1.28" stroke-linejoin="round"/><path d="M1087.8 1066.7L1151.9 1097.6" stroke="#ff1212" stroke-width="1.92" fill="none"/><path d="M1153.1 1098.2Q1147.8 1096.5 1142.3 1095.4L1144.2 1091.4Q1148.5 1095.1 1153.1 1098.2Z" fill="#ff1212" stroke="#ff1212" stroke-width="1.28" stroke-linejoin="round"/><path d="M1079.4 1079.0L1131.6 1127.4" stroke="#ff1212" stroke-width="1.87" fill="none"/><path d="M1132.5 1128.4Q1128.0 1125.2 1123.0 1122.5L1126.0 1119.3Q1129.0 1124.1 1132.5 1128.4Z" fill="#ff1212" stroke="#ff1212" stroke-width="1.28" stroke-linejoin="round"/><path d="M1067.7 1088.3L1103.3 1150.0" stroke="#ff1212" stroke-width="1.81" fill="none"/><path d="M1104.0 1151.1Q1100.7 1146.7 1096.7 1142.7L1100.4 1140.6Q1101.8 1146.1 1104.0 1151.1Z" fill="#ff1212" stroke="#ff1212" stroke-width="1.28" stroke-linejoin="round"/><path d="M1053.8 1093.7L1069.7 1163.2" stroke="#ff1212" stroke-width="1.76" fill="none"/><path d="M1070.0 1164.5Q1068.2 1159.3 1065.5 1154.3L1069.6 1153.4Q1069.4 1159.0 1070.0 1164.5Z" fill="#ff1212" stroke="#ff1212" stroke-width="1.28" stroke-linejoin="round"/><path d="M1039.0 1094.9L1033.7 1165.9" stroke="#ff1212" stroke-width="1.71" fill="none"/><path d="M1033.6 1167.2Q1033.4 1161.7 1032.3 1156.2L1036.5 1156.5Q1034.5 1161.8 1033.6 1167.2Z" fill="#ff1212" stroke="#ff1212" stroke-width="1.28" stroke-linejoin="round"/><path d="M1024.4 1091.5L998.4 1157.8" stroke="#ff1212" stroke-width="1.66" fill="none"/><path d="M997.9 1159.1Q999.5 1153.9 1000.0 1148.2L1003.8 1149.7Q1000.4 1154.2 997.9 1159.1Z" fill="#ff1212" stroke="#ff1212" stroke-width="1.28" stroke-linejoin="round"/><path d="M1011.5 1084.1L967.1 1139.8" stroke="#ff1212" stroke-width="1.61" fill="none"/><path d="M966.3 1140.8Q969.3 1136.3 971.5 1131.1L974.7 1133.6Q970.0 1136.8 966.3 1140.8Z" fill="#ff1212" stroke="#ff1212" stroke-width="1.28" stroke-linejoin="round"/><path d="M1001.4 1073.2L942.6 1113.3" stroke="#ff1212" stroke-width="1.56" fill="none"/><path d="M941.4 1114.1Q945.7 1110.7 949.2 1106.3L951.5 1109.6Q946.1 1111.3 941.4 1114.1Z" fill="#ff1212" stroke="#ff1212" stroke-width="1.25" stroke-linejoin="round"/><path d="M994.9 1059.7L926.9 1080.7" stroke="#ff1212" stroke-width="1.51" fill="none"/><path d="M925.6 1081.1Q930.7 1079.2 935.3 1076.0L936.5 1079.9Q930.8 1079.8 925.6 1081.1Z" fill="#ff1212" stroke="#ff1212" stroke-width="1.21" stroke-linejoin="round"/><path d="M992.9 1040.0L855.3 1026.3" stroke="#ff1212" stroke-width="1.45" fill="none"/><path d="M853.9 1026.1Q859.4 1026.4 865.0 1025.2L864.6 1029.2Q859.3 1026.9 853.9 1026.1Z" fill="#ff1212" stroke="#ff1212" stroke-width="1.16" stroke-linejoin="round"/><path d="M996.6 1025.6L869.2 971.9" stroke="#ff1212" stroke-width="1.41" fill="none"/><path d="M867.9 971.3Q873.0 973.2 878.7 973.7L877.1 977.4Q872.8 973.6 867.9 971.3Z" fill="#ff1212" stroke="#ff1212" stroke-width="1.13" stroke-linejoin="round"/><path d="M1004.4 1012.9L898.4 924.0" stroke="#ff1212" stroke-width="1.36" fill="none"/><path d="M897.3 923.0Q901.6 926.4 907.0 928.5L904.4 931.6Q901.4 926.7 897.3 923.0Z" fill="#ff1212" stroke="#ff1212" stroke-width="1.09" stroke-linejoin="round"/><path d="M1015.6 1003.0L940.5 886.8" stroke="#ff1212" stroke-width="1.32" fill="none"/><path d="M939.7 885.6Q942.8 890.1 947.3 893.7L944.0 895.9Q942.6 890.3 939.7 885.6Z" fill="#ff1212" stroke="#ff1212" stroke-width="1.06" stroke-linejoin="round"/><path d="M1029.2 996.9L991.7 863.7" stroke="#ff1212" stroke-width="1.28" fill="none"/><path d="M991.3 862.3Q992.8 867.6 996.2 872.3L992.3 873.4Q992.7 867.6 991.3 862.3Z" fill="#ff1212" stroke="#ff1212" stroke-width="1.02" stroke-linejoin="round"/><path d="M1043.9 995.0L1047.4 856.8" stroke="#ff1212" stroke-width="1.24" fill="none"/><path d="M1047.4 855.3Q1047.3 860.7 1049.1 866.3L1045.2 866.2Q1047.2 860.7 1047.4 855.3Z" fill="#ff1212" stroke="#ff1212" stroke-width="0.99" stroke-linejoin="round"/><path d="M1058.6 997.6L1102.7 866.5" stroke="#ff1212" stroke-width="1.19" fill="none"/><path d="M1103.1 865.1Q1101.4 870.3 1101.5 876.1L1097.8 874.8Q1101.4 870.3 1103.1 865.1Z" fill="#ff1212" stroke="#ff1212" stroke-width="0.95" stroke-linejoin="round"/><path d="M1071.9 1004.4L1152.6 892.1" stroke="#ff1212" stroke-width="1.15" fill="none"/><path d="M1153.5 890.9Q1150.3 895.3 1148.7 900.9L1145.5 898.6Q1150.3 895.3 1153.5 890.9Z" fill="#ff1212" stroke="#ff1212" stroke-width="0.92" stroke-linejoin="round"/><path d="M1082.6 1014.8L1192.8 931.3" stroke="#ff1212" stroke-width="1.11" fill="none"/><path d="M1194.0 930.4Q1189.6 933.7 1186.4 938.6L1184.1 935.4Q1189.6 933.7 1194.0 930.4Z" fill="#ff1212" stroke="#ff1212" stroke-width="0.89" stroke-linejoin="round"/><path d="M1089.7 1027.9L1219.6 980.6" stroke="#ff1212" stroke-width="1.06" fill="none"/><path d="M1221.1 980.0Q1215.9 981.9 1211.4 985.7L1210.1 982.0Q1215.9 981.9 1221.1 980.0Z" fill="#ff1212" stroke="#ff1212" stroke-width="0.85" stroke-linejoin="round"/><path d="M1092.6 1042.5L1230.8 1035.6" stroke="#ff1212" stroke-width="1.02" fill="none"/><path d="M1232.4 1035.5Q1226.8 1035.8 1221.4 1038.0L1221.2 1034.1Q1226.8 1035.8 1232.4 1035.5Z" fill="#ff1212" stroke="#ff1212" stroke-width="0.82" stroke-linejoin="round"/><path d="M1091.2 1057.3L1225.2 1091.5" stroke="#ff1212" stroke-width="0.99" fill="none"/><path d="M1215.5 1091.0Q1221.4 1090.5 1226.7 1091.8Q1221.4 1090.5 1216.5 1087.2" fill="#ff1212" fill-opacity="0.25" stroke="#ff1212" stroke-width="0.84" stroke-linejoin="miter"/><path d="M1085.4 1071.1L1203.4 1143.2" stroke="#ff1212" stroke-width="0.96" fill="none"/><path d="M1194.3 1139.9Q1200.0 1141.1 1204.8 1144.0Q1200.0 1141.1 1196.3 1136.6" fill="#ff1212" fill-opacity="0.25" stroke="#ff1212" stroke-width="0.82" stroke-linejoin="miter"/><path d="M1075.8 1082.5L1167.3 1186.2" stroke="#ff1212" stroke-width="0.94" fill="none"/><path d="M1159.6 1180.4Q1164.7 1183.2 1168.4 1187.4Q1164.7 1183.2 1162.5 1177.8" fill="#ff1212" fill-opacity="0.25" stroke="#ff1212" stroke-width="0.80" stroke-linejoin="miter"/><path d="M1063.3 1090.6L1120.2 1216.6" stroke="#ff1212" stroke-width="0.92" fill="none"/><path d="M1114.5 1208.8Q1118.6 1213.1 1120.8 1218.1Q1118.6 1213.1 1118.0 1207.2" fill="#ff1212" fill-opacity="0.25" stroke="#ff1212" stroke-width="0.78" stroke-linejoin="miter"/><path d="M1048.9 1094.6L1066.1 1231.8" stroke="#ff1212" stroke-width="0.89" fill="none"/><path d="M1063.0 1222.7Q1065.6 1228.0 1066.3 1233.5Q1065.6 1228.0 1066.9 1222.2" fill="#ff1212" fill-opacity="0.25" stroke="#ff1212" stroke-width="0.76" stroke-linejoin="miter"/><path d="M1034.0 1094.2L1010.0 1230.4" stroke="#ff1212" stroke-width="0.87" fill="none"/><path d="M1009.8 1220.8Q1010.7 1226.6 1009.7 1232.1Q1010.7 1226.6 1013.6 1221.5" fill="#ff1212" fill-opacity="0.25" stroke="#ff1212" stroke-width="0.74" stroke-linejoin="miter"/><path d="M1019.9 1089.5L956.8 1212.6" stroke="#ff1212" stroke-width="0.85" fill="none"/><path d="M959.4 1203.3Q958.6 1209.1 956.0 1214.0Q958.6 1209.1 962.8 1205.0" fill="#ff1212" fill-opacity="0.25" stroke="#ff1212" stroke-width="0.72" stroke-linejoin="miter"/><path d="M1007.8 1080.8L911.2 1179.8" stroke="#ff1212" stroke-width="0.82" fill="none"/><path d="M916.4 1171.7Q913.9 1177.0 910.1 1181.0Q913.9 1177.0 919.2 1174.4" fill="#ff1212" fill-opacity="0.25" stroke="#ff1212" stroke-width="0.70" stroke-linejoin="miter"/><path d="M998.8 1068.9L877.3 1135.1" stroke="#ff1212" stroke-width="0.80" fill="none"/><path d="M884.7 1128.9Q880.7 1133.2 875.9 1135.9Q880.7 1133.2 886.5 1132.2" fill="#ff1212" fill-opacity="0.25" stroke="#ff1212" stroke-width="0.68" stroke-linejoin="miter"/><path d="M993.7 1054.9L858.1 1082.3" stroke="#ff1212" stroke-width="0.77" fill="none"/><path d="M867.0 1078.6Q861.9 1081.6 856.5 1082.7Q861.9 1081.6 867.8 1082.3" fill="#ff1212" fill-opacity="0.25" stroke="#ff1212" stroke-width="0.66" stroke-linejoin="miter"/><path d="M993.7 1035.1L792.1 994.4" stroke="#ff1212" stroke-width="0.75" fill="none"/><path d="M801.7 994.3Q795.9 995.1 790.4 994.0Q795.9 995.1 800.9 998.1" fill="#ff1212" fill-opacity="0.25" stroke="#ff1212" stroke-width="0.64" stroke-linejoin="miter"/><path d="M998.8 1021.1L818.1 922.7" stroke="#1f1fff" stroke-width="0.70" fill="none"/><path d="M827.3 925.6Q821.5 924.6 816.6 921.9Q821.5 924.6 825.5 928.9" fill="#1f1fff" fill-opacity="0.25" stroke="#1f1fff" stroke-width="0.59" stroke-linejoin="miter"/><path d="M1007.8 1009.2L864.1 862.0" stroke="#1f1fff" stroke-width="0.72" fill="none"/><path d="M872.1 867.4Q866.8 864.7 863.0 860.7Q866.8 864.7 869.4 870.1" fill="#1f1fff" fill-opacity="0.25" stroke="#1f1fff" stroke-width="0.61" stroke-linejoin="miter"/><path d="M1019.9 1000.5L926.0 817.5" stroke="#1f1fff" stroke-width="0.75" fill="none"/><path d="M932.0 825.0Q927.8 820.9 925.3 816.0Q927.8 820.9 928.6 826.7" fill="#1f1fff" fill-opacity="0.25" stroke="#1f1fff" stroke-width="0.63" stroke-linejoin="miter"/><path d="M1034.0 995.8L998.3 793.2" stroke="#1f1fff" stroke-width="0.77" fill="none"/><path d="M1001.8 802.2Q999.0 797.0 998.0 791.5Q999.0 797.0 998.0 802.8" fill="#1f1fff" fill-opacity="0.25" stroke="#1f1fff" stroke-width="0.65" stroke-linejoin="miter"/><path d="M1048.9 995.4L1074.5 791.3" stroke="#1f1fff" stroke-width="0.79" fill="none"/><path d="M1075.2 800.9Q1074.0 795.1 1074.7 789.6Q1074.0 795.1 1071.4 800.4" fill="#1f1fff" fill-opacity="0.25" stroke="#1f1fff" stroke-width="0.67" stroke-linejoin="miter"/><path d="M1063.3 999.4L1147.8 811.9" stroke="#1f1fff" stroke-width="0.81" fill="none"/><path d="M1145.7 821.3Q1146.3 815.5 1148.5 810.4Q1146.3 815.5 1142.2 819.7" fill="#1f1fff" fill-opacity="0.25" stroke="#1f1fff" stroke-width="0.69" stroke-linejoin="miter"/><path d="M1075.8 1007.5L1211.9 853.3" stroke="#1f1fff" stroke-width="0.84" fill="none"/><path d="M1207.1 861.6Q1209.3 856.2 1213.0 852.0Q1209.3 856.2 1204.2 859.1" fill="#1f1fff" fill-opacity="0.25" stroke="#1f1fff" stroke-width="0.71" stroke-linejoin="miter"/><path d="M1085.4 1018.9L1260.9 911.7" stroke="#1f1fff" stroke-width="0.86" fill="none"/><path d="M1253.8 918.2Q1257.6 913.7 1262.3 910.8Q1257.6 913.7 1251.8 914.9" fill="#1f1fff" fill-opacity="0.25" stroke="#1f1fff" stroke-width="0.73" stroke-linejoin="miter"/><path d="M1091.2 1032.7L1290.5 981.9" stroke="#1f1fff" stroke-width="0.88" fill="none"/><path d="M1281.8 986.1Q1286.7 982.8 1292.1 981.5Q1286.7 982.8 1280.9 982.3" fill="#1f1fff" fill-opacity="0.25" stroke="#1f1fff" stroke-width="0.75" stroke-linejoin="miter"/><path d="M1092.6 1047.5L1298.1 1057.7" stroke="#1f1fff" stroke-width="0.90" fill="none"/><path d="M1288.6 1059.2Q1294.2 1057.5 1299.7 1057.8Q1294.2 1057.5 1288.7 1055.3" fill="#1f1fff" fill-opacity="0.25" stroke="#1f1fff" stroke-width="0.77" stroke-linejoin="miter"/><path d="M1089.7 1062.1L1283.0 1132.4" stroke="#1f1fff" stroke-width="0.93" fill="none"/><path d="M1273.4 1131.0Q1279.3 1131.1 1284.5 1133.0Q1279.3 1131.1 1274.8 1127.4" fill="#1f1fff" fill-opacity="0.25" stroke="#1f1fff" stroke-width="0.79" stroke-linejoin="miter"/><path d="M1082.6 1075.2L1246.5 1199.4" stroke="#1f1fff" stroke-width="0.95" fill="none"/><path d="M1237.8 1195.2Q1243.4 1197.0 1247.8 1200.4Q1243.4 1197.0 1240.2 1192.1" fill="#1f1fff" fill-opacity="0.25" stroke="#1f1fff" stroke-width="0.81" stroke-linejoin="miter"/><path d="M1071.9 1085.6L1192.0 1252.6" stroke="#1f1fff" stroke-width="0.97" fill="none"/><path d="M1184.9 1246.1Q1189.7 1249.4 1192.9 1253.9Q1189.7 1249.4 1188.0 1243.8" fill="#1f1fff" fill-opacity="0.25" stroke="#1f1fff" stroke-width="0.83" stroke-linejoin="miter"/><path d="M1058.6 1092.4L1124.2 1287.4" stroke="#1f1fff" stroke-width="0.99" fill="none"/><path d="M1119.3 1279.0Q1122.9 1283.7 1124.7 1288.9Q1122.9 1283.7 1123.0 1277.8" fill="#1f1fff" fill-opacity="0.25" stroke="#1f1fff" stroke-width="0.84" stroke-linejoin="miter"/><path d="M1044.0 1095.0L1049.1 1300.6" stroke="#1f1fff" stroke-width="1.05" fill="none"/><path d="M1049.1 1302.2Q1049.0 1296.7 1046.9 1291.2L1050.8 1291.1Q1049.0 1296.7 1049.1 1302.2Z" fill="#1f1fff" stroke="#1f1fff" stroke-width="0.84" stroke-linejoin="round"/><path d="M1029.2 1093.1L973.5 1291.1" stroke="#1f1fff" stroke-width="1.12" fill="none"/><path d="M973.0 1292.6Q974.5 1287.3 974.1 1281.5L977.9 1282.6Q974.5 1287.3 973.0 1292.6Z" fill="#1f1fff" stroke="#1f1fff" stroke-width="0.90" stroke-linejoin="round"/><path d="M1015.6 1087.0L904.0 1259.8" stroke="#1f1fff" stroke-width="1.19" fill="none"/><path d="M903.2 1261.1Q906.1 1256.5 907.5 1250.8L910.8 1252.9Q906.1 1256.5 903.2 1261.1Z" fill="#1f1fff" stroke="#1f1fff" stroke-width="0.95" stroke-linejoin="round"/><path d="M1004.4 1077.1L846.8 1209.4" stroke="#1f1fff" stroke-width="1.27" fill="none"/><path d="M845.7 1210.3Q849.8 1206.8 852.8 1201.8L855.4 1204.8Q849.9 1206.9 845.7 1210.3Z" fill="#1f1fff" stroke="#1f1fff" stroke-width="1.02" stroke-linejoin="round"/><path d="M996.6 1064.4L807.1 1144.3" stroke="#1f1fff" stroke-width="1.36" fill="none"/><path d="M805.7 1144.9Q810.7 1142.6 815.0 1138.8L816.6 1142.5Q810.8 1142.9 805.7 1144.9Z" fill="#1f1fff" stroke="#1f1fff" stroke-width="1.09" stroke-linejoin="round"/><path d="M992.9 1050.0L788.3 1070.5" stroke="#1f1fff" stroke-width="1.45" fill="none"/><path d="M786.9 1070.6Q792.3 1069.8 797.5 1067.5L797.9 1071.5Q792.3 1070.3 786.9 1070.6Z" fill="#1f1fff" stroke="#1f1fff" stroke-width="1.16" stroke-linejoin="round"/></g>
<circle cx="1039.6" cy="1055.0" r="84.3" fill="#fff"/>
<g fill="#a2a2a2"><circle cx="1033.1" cy="917.3" r="3.65"/><circle cx="1071.2" cy="920.1" r="3.65"/><circle cx="1106.7" cy="934.1" r="3.65"/><circle cx="1136.6" cy="957.9" r="3.65"/><circle cx="1158.1" cy="989.4" r="3.65"/><circle cx="1169.4" cy="1025.9" r="3.65"/><circle cx="1169.4" cy="1064.1" r="3.65"/><circle cx="1158.1" cy="1100.6" r="3.65"/><circle cx="1136.6" cy="1132.1" r="3.65"/><circle cx="1106.8" cy="1155.9" r="3.65"/><circle cx="1071.2" cy="1169.9" r="3.65"/><circle cx="1033.1" cy="1172.7" r="3.65"/><circle cx="995.9" cy="1164.2" r="3.65"/><circle cx="962.8" cy="1145.2" r="3.65"/><circle cx="936.9" cy="1117.2" r="3.65"/><circle cx="920.3" cy="1082.8" r="3.65"/><circle cx="914.6" cy="1045.0" r="3.65"/><circle cx="920.3" cy="1007.3" r="3.65"/><circle cx="936.9" cy="972.8" r="3.65"/><circle cx="962.8" cy="944.9" r="3.65"/><circle cx="995.9" cy="925.8" r="3.65"/><circle cx="1047.6" cy="849.9" r="3.65"/><circle cx="1104.9" cy="860.0" r="3.65"/><circle cx="1156.6" cy="886.5" r="3.65"/><circle cx="1198.3" cy="927.1" r="3.65"/><circle cx="1226.1" cy="978.2" r="3.65"/><circle cx="1237.7" cy="1035.3" r="3.65"/><circle cx="1231.9" cy="1093.2" r="3.65"/><circle cx="1209.3" cy="1146.8" r="3.65"/><circle cx="1171.9" cy="1191.3" r="3.65"/><circle cx="1123.0" cy="1222.9" r="3.65"/><circle cx="1067.0" cy="1238.7" r="3.65"/><circle cx="1008.8" cy="1237.2" r="3.65"/><circle cx="953.7" cy="1218.7" r="3.65"/><circle cx="906.4" cy="1184.7" r="3.65"/><circle cx="871.3" cy="1138.4" r="3.65"/><circle cx="851.4" cy="1083.7" r="3.65"/><circle cx="848.5" cy="1025.6" r="3.65"/><circle cx="862.8" cy="969.2" r="3.65"/><circle cx="893.2" cy="919.5" r="3.65"/><circle cx="936.8" cy="881.0" r="3.65"/><circle cx="989.8" cy="857.1" r="3.65"/><circle cx="1075.3" cy="784.4" r="3.65"/><circle cx="1150.7" cy="805.6" r="3.65"/><circle cx="1216.4" cy="848.1" r="3.65"/><circle cx="1266.8" cy="908.1" r="3.65"/><circle cx="1297.2" cy="980.2" r="3.65"/><circle cx="1305.0" cy="1058.1" r="3.65"/><circle cx="1289.5" cy="1134.8" r="3.65"/><circle cx="1252.0" cy="1203.5" r="3.65"/><circle cx="1196.0" cy="1258.2" r="3.65"/><circle cx="1126.4" cy="1293.9" r="3.65"/><circle cx="1049.3" cy="1307.5" r="3.65"/><circle cx="971.6" cy="1297.8" r="3.65"/><circle cx="900.2" cy="1265.6" r="3.65"/><circle cx="841.5" cy="1213.8" r="3.65"/><circle cx="800.7" cy="1147.0" r="3.65"/><circle cx="781.4" cy="1071.2" r="3.65"/><circle cx="785.3" cy="993.0" r="3.65"/><circle cx="812.1" cy="919.4" r="3.65"/><circle cx="859.3" cy="857.0" r="3.65"/><circle cx="922.9" cy="811.3" r="3.65"/><circle cx="997.1" cy="786.4" r="3.65"/></g>
<g font-size="17.3" fill="#000" stroke="#000" stroke-width="0.4"><text transform="translate(1032.7 911.7) rotate(445.71)" text-anchor="end" dy="0.355em">MTDH</text><text transform="translate(1072.4 914.6) rotate(-77.15)" text-anchor="start" dy="0.355em">SLC25A32</text><text transform="translate(1109.5 929.2) rotate(-60.00)" text-anchor="start" dy="0.355em">IMPA1</text><text transform="translate(1140.7 954.1) rotate(-42.86)" text-anchor="start" dy="0.355em">EBAG9</text><text transform="translate(1163.2 987.0) rotate(-25.72)" text-anchor="start" dy="0.355em">STK3</text><text transform="translate(1174.9 1025.1) rotate(-8.58)" text-anchor="start" dy="0.355em">TMEM64</text><text transform="translate(1174.9 1064.9) rotate(8.57)" text-anchor="start" dy="0.355em">SDCBP</text><text transform="translate(1163.2 1103.0) rotate(25.71)" text-anchor="start" dy="0.355em">ZFAND1</text><text transform="translate(1140.7 1135.9) rotate(42.85)" text-anchor="start" dy="0.355em">TERF1</text><text transform="translate(1109.6 1160.8) rotate(60.00)" text-anchor="start" dy="0.355em">TRIQK</text><text transform="translate(1072.5 1175.3) rotate(77.14)" text-anchor="start" dy="0.355em">NCOA2</text><text transform="translate(1032.7 1178.3) rotate(274.28)" text-anchor="end" dy="0.355em">NTAN1P2</text><text transform="translate(993.9 1169.5) rotate(291.42)" text-anchor="end" dy="0.355em">TAF2</text><text transform="translate(959.3 1149.5) rotate(308.57)" text-anchor="end" dy="0.355em">IL7</text><text transform="translate(932.2 1120.3) rotate(325.71)" text-anchor="end" dy="0.355em">HNF4G</text><text transform="translate(914.9 1084.4) rotate(342.85)" text-anchor="end" dy="0.355em">IL6ST</text><text transform="translate(909.0 1045.0) rotate(360.00)" text-anchor="end" dy="0.355em">ATP6V1C1</text><text transform="translate(914.9 1005.6) rotate(377.14)" text-anchor="end" dy="0.355em">CPNE3</text><text transform="translate(932.2 969.7) rotate(394.28)" text-anchor="end" dy="0.355em">EFR3A</text><text transform="translate(959.3 940.5) rotate(411.42)" text-anchor="end" dy="0.355em">PHF20L1</text><text transform="translate(993.8 920.5) rotate(428.57)" text-anchor="end" dy="0.355em">VCPIP1</text><text transform="translate(1047.7 844.3) rotate(-88.58)" text-anchor="start" dy="0.355em">CLCN3</text><text transform="translate(1106.6 854.7) rotate(-71.43)" text-anchor="start" dy="0.355em">CPNE8</text><text transform="translate(1159.9 882.0) rotate(-54.29)" text-anchor="start" dy="0.355em">EDA2R</text><text transform="translate(1202.8 923.7) rotate(-37.15)" text-anchor="start" dy="0.355em">USP14</text><text transform="translate(1231.4 976.3) rotate(-20.00)" text-anchor="start" dy="0.355em">MDM2</text><text transform="translate(1243.2 1035.0) rotate(-2.86)" text-anchor="start" dy="0.355em">DIXDC1</text><text transform="translate(1237.3 1094.5) rotate(14.28)" text-anchor="start" dy="0.355em">ZBTB10</text><text transform="translate(1214.0 1149.7) rotate(31.42)" text-anchor="start" dy="0.355em">LIN54</text><text transform="translate(1175.6 1195.5) rotate(48.57)" text-anchor="start" dy="0.355em">ZMAT3</text><text transform="translate(1125.3 1228.0) rotate(65.71)" text-anchor="start" dy="0.355em">STOM</text><text transform="translate(1067.7 1244.2) rotate(82.85)" text-anchor="start" dy="0.355em">THAP6</text><text transform="translate(1007.8 1242.8) rotate(280.00)" text-anchor="end" dy="0.355em">ATXN2</text><text transform="translate(951.1 1223.7) rotate(297.14)" text-anchor="end" dy="0.355em">KLF4</text><text transform="translate(902.5 1188.8) rotate(314.28)" text-anchor="end" dy="0.355em">ZFAND5</text><text transform="translate(866.4 1141.0) rotate(331.42)" text-anchor="end" dy="0.355em">NCKAP5</text><text transform="translate(845.9 1084.8) rotate(348.57)" text-anchor="end" dy="0.355em">SNX18P12</text><text transform="translate(842.9 1025.0) rotate(365.71)" text-anchor="end" dy="0.355em">LYN</text><text transform="translate(857.7 967.0) rotate(382.85)" text-anchor="end" dy="0.355em">ZHX2</text><text transform="translate(888.9 915.9) rotate(400.00)" text-anchor="end" dy="0.355em">FAS</text><text transform="translate(933.7 876.3) rotate(417.14)" text-anchor="end" dy="0.355em">C8orf37</text><text transform="translate(988.3 851.7) rotate(434.28)" text-anchor="end" dy="0.355em">ZHX1</text><text transform="translate(1076.0 778.9) rotate(-82.86)" text-anchor="start" dy="0.355em">PDE6D</text><text transform="translate(1153.0 800.5) rotate(-65.72)" text-anchor="start" dy="0.355em">AIFM3</text><text transform="translate(1220.1 843.9) rotate(-48.58)" text-anchor="start" dy="0.355em">PDIA5</text><text transform="translate(1271.5 905.1) rotate(-31.43)" text-anchor="start" dy="0.355em">RARA</text><text transform="translate(1302.6 978.8) rotate(-14.29)" text-anchor="start" dy="0.355em">FBLL1</text><text transform="translate(1310.6 1058.3) rotate(2.85)" text-anchor="start" dy="0.355em">ZNF346</text><text transform="translate(1294.7 1136.7) rotate(20.00)" text-anchor="start" dy="0.355em">ZNF768</text><text transform="translate(1256.5 1206.9) rotate(37.14)" text-anchor="start" dy="0.355em">MESP2</text><text transform="translate(1199.3 1262.8) rotate(54.28)" text-anchor="start" dy="0.355em">TRMT44</text><text transform="translate(1128.1 1299.2) rotate(71.42)" text-anchor="start" dy="0.355em">ZNF350</text><text transform="translate(1049.4 1313.1) rotate(88.57)" text-anchor="start" dy="0.355em">SLC2A4RG</text><text transform="translate(970.1 1303.2) rotate(285.71)" text-anchor="end" dy="0.355em">HMGN2</text><text transform="translate(897.2 1270.3) rotate(302.85)" text-anchor="end" dy="0.355em">POU2F1−DT</text><text transform="translate(837.3 1217.4) rotate(320.00)" text-anchor="end" dy="0.355em">ZNF775</text><text transform="translate(795.6 1149.2) rotate(337.14)" text-anchor="end" dy="0.355em">RFXANK</text><text transform="translate(775.8 1071.7) rotate(354.28)" text-anchor="end" dy="0.355em">ABHD17A</text><text transform="translate(779.8 991.9) rotate(371.42)" text-anchor="end" dy="0.355em">SNAI2</text><text transform="translate(807.2 916.7) rotate(388.57)" text-anchor="end" dy="0.355em">ZFPM1</text><text transform="translate(855.4 853.0) rotate(405.71)" text-anchor="end" dy="0.355em">ZNF362</text><text transform="translate(920.3 806.3) rotate(422.85)" text-anchor="end" dy="0.355em">ZNF764</text><text transform="translate(996.1 780.9) rotate(440.00)" text-anchor="end" dy="0.355em">ZNF689</text></g>
<g font-size="37" text-anchor="middle" fill="#000" stroke="#000" stroke-width="0.5"><text x="1042.9" y="1032.9">RRM2B</text><text x="1042.9" y="1077.3">(HCC)</text><text x="1042.9" y="1123.1">N=63</text></g>
</g>
<g>
<ellipse cx="1622.2" cy="408.5" rx="243.2" ry="116.0" transform="rotate(45.9 1622.2 408.5)" fill="#CB5D15" fill-opacity="0.5"/>
<ellipse cx="1732.3" cy="348.1" rx="243.9" ry="115.1" transform="rotate(45.56 1732.3 348.1)" fill="#D7E1F3" fill-opacity="0.5"/>
<ellipse cx="1856.0" cy="408.5" rx="243.2" ry="116.0" transform="rotate(-45.9 1856.0 408.5)" fill="#0571C3" fill-opacity="0.5"/>
<ellipse cx="1745.9" cy="348.1" rx="243.9" ry="115.1" transform="rotate(-45.56 1745.9 348.1)" fill="#FBE5D3" fill-opacity="0.5"/>
<ellipse cx="1622.2" cy="408.5" rx="243.2" ry="116.0" transform="rotate(45.9 1622.2 408.5)" fill="none" stroke="#000" stroke-width="1.4"/>
<ellipse cx="1732.3" cy="348.1" rx="243.9" ry="115.1" transform="rotate(45.56 1732.3 348.1)" fill="none" stroke="#000" stroke-width="1.4"/>
<ellipse cx="1856.0" cy="408.5" rx="243.2" ry="116.0" transform="rotate(-45.9 1856.0 408.5)" fill="none" stroke="#000" stroke-width="1.4"/>
<ellipse cx="1745.9" cy="348.1" rx="243.9" ry="115.1" transform="rotate(-45.56 1745.9 348.1)" fill="none" stroke="#000" stroke-width="1.4"/>
<g font-size="37" text-anchor="middle" fill="#000" stroke="#000" stroke-width="0.3">
<text x="1612.9" y="230.6">21</text>
<text x="1847.3" y="230.6">58</text>
<text x="1501.8" y="359.7">37</text>
<text x="1966.1" y="359.7">51</text>
<text x="1594.5" y="309.1">0</text>
<text x="1738.2" y="309.1">0</text>
<text x="1887.6" y="309.1">0</text>
<text x="1666.5" y="381.5">0</text>
<text x="1819.8" y="381.5">0</text>
<text x="1738.2" y="458.1">0</text>
<text x="1618.7" y="493.8">59</text>
<text x="1866.5" y="493.8">44</text>
<text x="1690.3" y="520.6">0</text>
<text x="1784.9" y="520.6">0</text>
<text x="1738.2" y="585.7">0</text>
</g>
</g>
<text x="1709.1" y="71.4" font-size="45" font-weight="bold" text-anchor="middle">HB</text>
<g font-size="37.8" text-anchor="middle" fill="#000" stroke="#000" stroke-width="0.4">
<text x="1473.1" y="143.3">RRM2</text><text x="1473.1" y="187.7">UP</text>
<text x="1985.3" y="143.3">RRM2</text><text x="1985.3" y="187.7">DOWN</text>
<text x="1473.1" y="568.1">RRM2B</text><text x="1473.1" y="613.2">UP</text>
<text x="1960.4" y="568.1">RRM2B</text><text x="1960.4" y="613.2">DOWN</text>
</g>
<g transform="translate(14.78 713.53) scale(0.9915)">
<ellipse cx="1622.2" cy="408.5" rx="243.2" ry="116.0" transform="rotate(45.9 1622.2 408.5)" fill="#CB5D15" fill-opacity="0.5"/>
<ellipse cx="1732.3" cy="348.1" rx="243.9" ry="115.1" transform="rotate(45.56 1732.3 348.1)" fill="#D7E1F3" fill-opacity="0.5"/>
<ellipse cx="1856.0" cy="408.5" rx="243.2" ry="116.0" transform="rotate(-45.9 1856.0 408.5)" fill="#0571C3" fill-opacity="0.5"/>
<ellipse cx="1745.9" cy="348.1" rx="243.9" ry="115.1" transform="rotate(-45.56 1745.9 348.1)" fill="#FBE5D3" fill-opacity="0.5"/>
<ellipse cx="1622.2" cy="408.5" rx="243.2" ry="116.0" transform="rotate(45.9 1622.2 408.5)" fill="none" stroke="#000" stroke-width="1.4"/>
<ellipse cx="1732.3" cy="348.1" rx="243.9" ry="115.1" transform="rotate(45.56 1732.3 348.1)" fill="none" stroke="#000" stroke-width="1.4"/>
<ellipse cx="1856.0" cy="408.5" rx="243.2" ry="116.0" transform="rotate(-45.9 1856.0 408.5)" fill="none" stroke="#000" stroke-width="1.4"/>
<ellipse cx="1745.9" cy="348.1" rx="243.9" ry="115.1" transform="rotate(-45.56 1745.9 348.1)" fill="none" stroke="#000" stroke-width="1.4"/>
<g font-size="37" text-anchor="middle" fill="#000" stroke="#000" stroke-width="0.3">
<text x="1612.9" y="230.6">20</text>
<text x="1847.3" y="230.6">21</text>
<text x="1501.8" y="359.7">17</text>
<text x="1966.1" y="359.7">15</text>
<text x="1594.5" y="309.1">0</text>
<text x="1738.2" y="309.1">0</text>
<text x="1887.6" y="309.1">0</text>
<text x="1666.5" y="381.5">0</text>
<text x="1819.8" y="381.5">0</text>
<text x="1738.2" y="458.1">0</text>
<text x="1618.7" y="493.8">19</text>
<text x="1866.5" y="493.8">28</text>
<text x="1690.3" y="520.6">0</text>
<text x="1784.9" y="520.6">0</text>
<text x="1738.2" y="585.7">0</text>
</g>
</g>
<text x="1709.1" y="798.6" font-size="45" font-weight="bold" text-anchor="middle">HCC</text>
<g font-size="37.8" text-anchor="middle" fill="#000" stroke="#000" stroke-width="0.4">
<text x="1473.1" y="848.9">RRM2</text><text x="1473.1" y="893.8">UP</text>
<text x="1985.3" y="848.9">RRM2</text><text x="1985.3" y="893.8">DOWN</text>
<text x="1473.1" y="1278.3">RRM2B</text><text x="1473.1" y="1323.5">UP</text>
<text x="1960.4" y="1278.3">RRM2B</text><text x="1960.4" y="1323.5">DOWN</text>
</g>
<g fill="none" stroke="#2b2b2b" stroke-width="2.7"><rect x="76.5" y="1457.4" width="879.0" height="938.1999999999998"/><path d="M126.7 1457.4V2395.6M76.5 2031.8H955.5"/></g>
<g font-size="32" font-weight="bold" text-anchor="middle"><text transform="translate(113.4 1745.5) rotate(-90)">RRM2</text><text transform="translate(113.4 2217) rotate(-90)">RRM2B</text></g>
<g font-size="21.1" text-anchor="end" fill="#000" stroke="#000" stroke-width="0.45" style="font-kerning:none">
<text x="945.3" y="1480.5" textLength="278.3">HALLMARK_E2F_TARGETS</text>
<text x="945.3" y="1510.7" textLength="324.7">HALLMARK_G2M_CHECKPOINT</text>
<text x="945.3" y="1540.9" textLength="211.0">KEGG_CELL_CYCLE</text>
<text x="945.3" y="1571.0" textLength="317.7">HALLMARK_MITOTIC_SPINDLE</text>
<text x="945.3" y="1601.2" textLength="271.0">KEGG_DNA_REPLICATION</text>
<text x="945.3" y="1631.4" textLength="322.8">HALLMARK_MYC_TARGETS_V1</text>
<text x="945.3" y="1661.6" textLength="273.1">KEGG_MISMATCH_REPAIR</text>
<text x="945.3" y="1691.8" textLength="408.9">KEGG_NUCLEOTIDE_EXCISION_REPAIR</text>
<text x="945.3" y="1721.9" textLength="339.2">HALLMARK_SPERMATOGENESIS</text>
<text x="945.3" y="1752.1" textLength="260.7">KEGG_OOCYTE_MEIOSIS</text>
<text x="945.3" y="1782.3" textLength="615.8">KEGG_PROGESTERONE_MEDIATED_OOCYTE_MATURATION</text>
<text x="945.3" y="1812.5" textLength="332.0">KEGG_BASE_EXCISION_REPAIR</text>
<text x="945.3" y="1842.7" textLength="419.1">KEGG_HOMOLOGOUS_RECOMBINATION</text>
<text x="945.3" y="1872.8" textLength="303.1">KEGG_PURINE_METABOLISM</text>
<text x="945.3" y="1903.0" textLength="437.3">KEGG_BASAL_TRANSCRIPTION_FACTORS</text>
<text x="945.3" y="1933.2" textLength="264.9">HALLMARK_DNA_REPAIR</text>
<text x="945.3" y="1963.4" textLength="438.1">HALLMARK_ESTROGEN_RESPONSE_LATE</text>
<text x="945.3" y="1993.6" textLength="260.6">HALLMARK_GLYCOLYSIS</text>
<text x="945.3" y="2023.7" textLength="346.4">HALLMARK_MTORC1_SIGNALING</text>
<text x="945.3" y="2053.9" textLength="278.8">HALLMARK_P53_PATHWAY</text>
<text x="945.3" y="2084.1" textLength="430.2">HALLMARK_TNFA_SIGNALING_VIA_NFKB</text>
<text x="945.3" y="2114.3" textLength="349.7">KEGG_P53_SIGNALING_PATHWAY</text>
<text x="945.3" y="2144.5" textLength="223.6">HALLMARK_HYPOXIA</text>
<text x="945.3" y="2174.6" textLength="417.7">HALLMARK_IL6_JAK_STAT3_SIGNALING</text>
<text x="945.3" y="2204.8" textLength="581.3">KEGG_CYTOKINE_CYTOKINE_RECEPTOR_INTERACTION</text>
<text x="945.3" y="2235.0" textLength="329.6">HALLMARK_UV_RESPONSE_UP</text>
<text x="945.3" y="2265.2" textLength="251.8">HALLMARK_APOPTOSIS</text>
<text x="945.3" y="2295.4" textLength="812.0">KEGG_EPITHELIAL_CELL_SIGNALING_IN_HELICOBACTER_PYLORI_INFECTION</text>
<text x="945.3" y="2325.5" textLength="392.9">HALLMARK_ALLOGRAFT_REJECTION</text>
<text x="945.3" y="2355.7" textLength="454.9">HALLMARK_ESTROGEN_RESPONSE_EARLY</text>
<text x="945.3" y="2385.9" textLength="279.3">HALLMARK_COMPLEMENT</text>
</g>
<g stroke="#333" stroke-width="2.4"><path d="M950.2 1473.6H956"/><path d="M950.2 1503.8H956"/><path d="M950.2 1534.0H956"/><path d="M950.2 1564.1H956"/><path d="M950.2 1594.3H956"/><path d="M950.2 1624.5H956"/><path d="M950.2 1654.7H956"/><path d="M950.2 1684.9H956"/><path d="M950.2 1715.0H956"/><path d="M950.2 1745.2H956"/><path d="M950.2 1775.4H956"/><path d="M950.2 1805.6H956"/><path d="M950.2 1835.8H956"/><path d="M950.2 1865.9H956"/><path d="M950.2 1896.1H956"/><path d="M950.2 1926.3H956"/><path d="M950.2 1956.5H956"/><path d="M950.2 1986.7H956"/><path d="M950.2 2016.8H956"/><path d="M950.2 2047.0H956"/><path d="M950.2 2077.2H956"/><path d="M950.2 2107.4H956"/><path d="M950.2 2137.6H956"/><path d="M950.2 2167.7H956"/><path d="M950.2 2197.9H956"/><path d="M950.2 2228.1H956"/><path d="M950.2 2258.3H956"/><path d="M950.2 2288.5H956"/><path d="M950.2 2318.6H956"/><path d="M950.2 2348.8H956"/><path d="M950.2 2379.0H956"/></g>
<g fill="#000">
<rect x="969.0" y="1460.3" width="270.2" height="27.3"/>
<rect x="969.0" y="1490.5" width="254.3" height="27.3"/>
<rect x="969.0" y="1520.7" width="88.6" height="27.3"/>
<rect x="969.0" y="1550.9" width="70.1" height="27.3"/>
<rect x="969.0" y="1581.1" width="41.8" height="27.3"/>
<rect x="969.0" y="1611.2" width="25.6" height="27.3"/>
<rect x="969.0" y="1641.4" width="23.4" height="27.3"/>
<rect x="969.0" y="1671.6" width="20.4" height="27.3"/>
<rect x="969.0" y="1701.8" width="17.2" height="27.3"/>
<rect x="969.0" y="1732.0" width="15.9" height="27.3"/>
<rect x="969.0" y="1762.1" width="14.3" height="27.3"/>
<rect x="969.0" y="1792.3" width="12.7" height="27.3"/>
<rect x="969.0" y="1822.5" width="11.2" height="27.3"/>
<rect x="969.0" y="1852.7" width="8.8" height="27.3"/>
<rect x="969.0" y="1882.9" width="8.1" height="27.3"/>
<rect x="969.0" y="1913.0" width="7.6" height="27.3"/>
<rect x="969.0" y="1943.2" width="6.5" height="27.3"/>
<rect x="969.0" y="1973.4" width="4.5" height="27.3"/>
<rect x="969.0" y="2003.6" width="4.2" height="27.3"/>
<rect x="969.0" y="2033.8" width="17.8" height="27.3"/>
<rect x="969.0" y="2063.9" width="10.1" height="27.3"/>
<rect x="969.0" y="2094.1" width="9.1" height="27.3"/>
<rect x="969.0" y="2124.3" width="9.1" height="27.3"/>
<rect x="969.0" y="2154.5" width="8.1" height="27.3"/>
<rect x="969.0" y="2184.7" width="6.5" height="27.3"/>
<rect x="969.0" y="2214.8" width="5.5" height="27.3"/>
<rect x="969.0" y="2245.0" width="5.0" height="27.3"/>
<rect x="969.0" y="2275.2" width="4.9" height="27.3"/>
<rect x="969.0" y="2305.4" width="4.5" height="27.3"/>
<rect x="969.0" y="2335.6" width="4.2" height="27.3"/>
<rect x="969.0" y="2365.8" width="4.2" height="27.3"/>
</g>
<path d="M973.5 1456V2395.3" stroke="#ff2530" stroke-width="2.6" stroke-dasharray="11 8.6" fill="none"/>
<path d="M956.96 1455.2V2395.3H1250.7V1455.2" fill="none" stroke="#000" stroke-width="3.8" stroke-linejoin="miter"/><path d="M955.06 1456.65H1252.6" stroke="#000" stroke-width="2.9"/>
<rect x="1265.9" y="1455.9" width="286.65" height="939.3" fill="none" stroke="#000" stroke-width="3.5"/>
<rect x="1566.8" y="1455.9" width="286.65" height="939.3" fill="none" stroke="#000" stroke-width="3.5"/>
<g stroke="#222" stroke-width="2.3"><path d="M969.0 2397.3V2402.6000000000004"/><path d="M1033.9 2397.3V2402.6000000000004"/><path d="M1098.8 2397.3V2402.6000000000004"/><path d="M1163.6 2397.3V2402.6000000000004"/><path d="M1228.5 2397.3V2402.6000000000004"/></g>
<g font-size="24.5" text-anchor="middle"><text x="969.0" y="2424">0</text><text x="1033.9" y="2424">20</text><text x="1098.8" y="2424">40</text><text x="1163.6" y="2424">60</text><text x="1228.5" y="2424">80</text></g>
<g font-size="33.6" text-anchor="middle"><text x="1100.3" y="2454.6">-log10</text><text x="1100.3" y="2491.5">(Combined P)</text></g>
<circle cx="1343.1" cy="1472.9" r="14.8" fill="#E8192A"/>
<circle cx="1343.1" cy="1503.1" r="14.0" fill="#E8402B"/>
<circle cx="1343.1" cy="1533.3" r="10.2" fill="#DC9C8C"/>
<circle cx="1343.1" cy="1563.4" r="8.7" fill="#D6A190"/>
<circle cx="1343.1" cy="1593.6" r="11.4" fill="#CDACA5"/>
<circle cx="1343.1" cy="1623.8" r="7.1" fill="#C8AFAA"/>
<circle cx="1343.1" cy="1654.0" r="10.7" fill="#C5B5B3"/>
<circle cx="1343.1" cy="1684.2" r="9.2" fill="#C7B4B0"/>
<circle cx="1343.1" cy="1714.3" r="5.6" fill="#BFBBBB"/>
<circle cx="1343.1" cy="1744.5" r="5.8" fill="#BFBBBB"/>
<circle cx="1343.1" cy="1774.7" r="5.8" fill="#BFBBBB"/>
<circle cx="1343.1" cy="1804.9" r="8.2" fill="#BEBABA"/>
<circle cx="1343.1" cy="1835.1" r="7.4" fill="#BEBCBC"/>
<circle cx="1343.1" cy="1865.2" r="3.8" fill="#BEBDBD"/>
<circle cx="1343.1" cy="1895.4" r="7.9" fill="#C1BABA"/>
<circle cx="1343.1" cy="1925.6" r="5.6" fill="#BFBCBC"/>
<circle cx="1343.1" cy="1986.0" r="3.5" fill="#BEBDBD"/>
<circle cx="1474.4" cy="2046.3" r="7.1" fill="#C2B9B8"/>
<circle cx="1474.4" cy="2076.5" r="6.1" fill="#BFBCBC"/>
<circle cx="1474.4" cy="2136.9" r="7.1" fill="#C3B9B7"/>
<circle cx="1644.3" cy="1472.9" r="14.8" fill="#E82428"/>
<circle cx="1644.3" cy="1503.1" r="14.8" fill="#E82428"/>
<circle cx="1644.3" cy="1533.3" r="11.2" fill="#E58874"/>
<circle cx="1644.3" cy="1563.4" r="8.7" fill="#DE9A88"/>
<circle cx="1644.3" cy="1593.6" r="11.7" fill="#D6AFA4"/>
<circle cx="1644.3" cy="1623.8" r="5.6" fill="#C4B5B2"/>
<circle cx="1644.3" cy="1654.0" r="10.7" fill="#C9B8B5"/>
<circle cx="1644.3" cy="1684.2" r="8.2" fill="#C5B7B5"/>
<circle cx="1644.3" cy="1714.3" r="6.6" fill="#CBB1AB"/>
<circle cx="1644.3" cy="1744.5" r="6.6" fill="#C9B3AE"/>
<circle cx="1644.3" cy="1774.7" r="7.4" fill="#C8B3AF"/>
<circle cx="1644.3" cy="1804.9" r="7.9" fill="#C3B9B8"/>
<circle cx="1644.3" cy="1835.1" r="8.7" fill="#C3BCBB"/>
<circle cx="1644.3" cy="1865.2" r="3.8" fill="#C0BDBD"/>
<circle cx="1644.3" cy="1955.8" r="4.8" fill="#C0BCBC"/>
<circle cx="1644.3" cy="2016.1" r="3.3" fill="#BEBDBD"/>
<circle cx="1776.0" cy="2046.3" r="8.7" fill="#C7B8B6"/>
<circle cx="1776.0" cy="2076.5" r="6.1" fill="#C1BDBC"/>
<circle cx="1776.0" cy="2106.7" r="10.2" fill="#C6B8B6"/>
<circle cx="1776.0" cy="2167.0" r="9.4" fill="#C4B8B7"/>
<circle cx="1776.0" cy="2197.2" r="6.1" fill="#BFBDBD"/>
<circle cx="1776.0" cy="2227.4" r="6.8" fill="#BFBDBD"/>
<circle cx="1776.0" cy="2257.6" r="7.1" fill="#BFBDBD"/>
<circle cx="1776.0" cy="2287.8" r="8.7" fill="#BFBDBD"/>
<circle cx="1776.0" cy="2317.9" r="6.1" fill="#BFBDBD"/>
<circle cx="1776.0" cy="2348.1" r="6.1" fill="#BFBDBD"/>
<circle cx="1776.0" cy="2378.3" r="6.3" fill="#BFBDBD"/>
<g stroke="#222" stroke-width="2.3"><path d="M1343.1 2397.3V2402.6000000000004"/><path d="M1474.4 2397.3V2402.6000000000004"/><path d="M1644.3 2397.3V2402.6000000000004"/><path d="M1776.0 2397.3V2402.6000000000004"/></g>
<g font-size="28.5" text-anchor="middle">
<text x="1331.9" y="2430.5">RRM2<tspan font-size="19.5" dy="-7.5">high</tspan></text>
<text x="1482.0" y="2430.5">RRM2B<tspan font-size="19.5" dy="-7.5">high</tspan></text>
<text x="1636.7" y="2430.5">RRM2<tspan font-size="19.5" dy="-7.5">high</tspan></text>
<text x="1785.8" y="2430.5">RRM2B<tspan font-size="19.5" dy="-7.5">high</tspan></text>
</g>
<g stroke="#000" stroke-width="1.6"><path d="M1265.7 2452H1553.2M1569 2452H1856.5"/></g>
<g font-size="34" text-anchor="middle"><text x="1409.2" y="2486">HB</text><text x="1712" y="2486">HCC</text></g>
<g font-weight="bold" fill="#000"><text x="1881.5" y="1744" font-size="22.6">Odds Ratio</text><text x="1881.5" y="1931.6" font-size="22.6">−log10(Ori_P)</text><g font-size="17.8"><text x="1931" y="1782.1">10</text><text x="1931" y="1818.4">20</text><text x="1931" y="1854.2">30</text><text x="1931" y="1962.4">40</text><text x="1931" y="2006.5">30</text><text x="1931" y="2051">20</text><text x="1931" y="2094.9">10</text><text x="1931" y="2129.4">0</text></g></g>
<circle cx="1900.3" cy="1775.7" r="9"/><circle cx="1900.3" cy="1812" r="11.7"/><circle cx="1900.3" cy="1847.8" r="13.6"/>
<defs><linearGradient id="cb" x1="0" y1="0" x2="0" y2="1"><stop offset="0" stop-color="#EA2027"/><stop offset="0.25" stop-color="#EE5038"/><stop offset="0.5" stop-color="#EC7A62"/><stop offset="0.75" stop-color="#DD9F90"/><stop offset="1" stop-color="#BEBEBE"/></linearGradient></defs>
<rect x="1882.3" y="1945.6" width="36.4" height="181.1" fill="url(#cb)"/>
<g stroke="#fff" stroke-width="1.2"><path d="M1882.3 1956h7.5M1918.7 1956h-7.5"/><path d="M1882.3 2000.1h7.5M1918.7 2000.1h-7.5"/><path d="M1882.3 2044.6h7.5M1918.7 2044.6h-7.5"/><path d="M1882.3 2088.5h7.5M1918.7 2088.5h-7.5"/></g>
<g font-size="76" fill="#000"><text x="-4" y="54.5">a</text><text x="1391" y="54">b</text><text x="0" y="755.3">c</text><text x="1390" y="755.5">d</text><text x="-3" y="1481.7">e</text></g>
</svg></body></html>
